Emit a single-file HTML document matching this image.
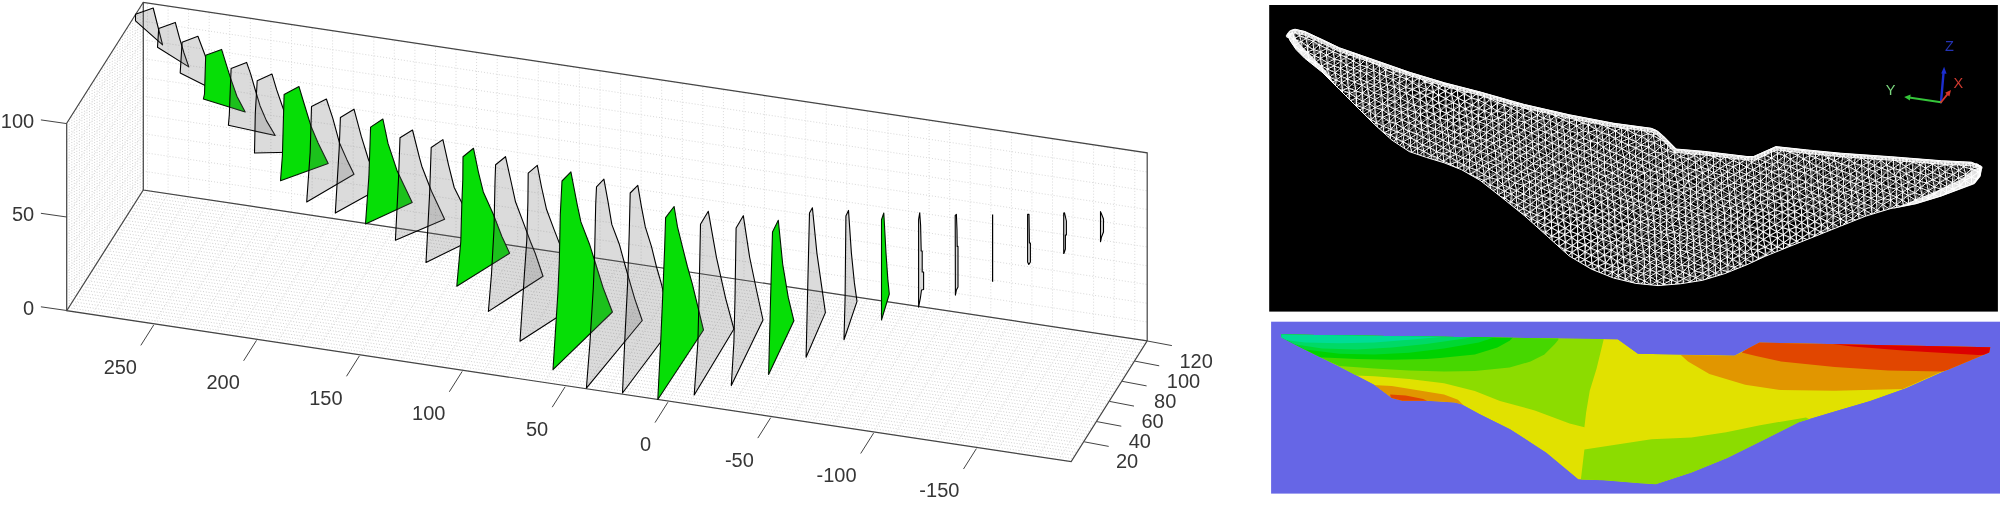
<!DOCTYPE html>
<html><head><meta charset="utf-8"><title>figure</title>
<style>
html,body{margin:0;padding:0;background:#fff;}
body{width:2000px;height:517px;overflow:hidden;font-family:"Liberation Sans",sans-serif;}
svg{display:block;will-change:transform;}
.gd{stroke:#d0d0d0;stroke-width:1;stroke-dasharray:1 1.8;fill:none;}
.gf{stroke:#e0e0e0;stroke-width:1;stroke-dasharray:1 1.8;fill:none;}
.gb{stroke:#d9d9d9;stroke-width:1;stroke-dasharray:1 2;fill:none;}
.ax{stroke:#444444;stroke-width:1.2;fill:none;}
.tk{stroke:#444444;stroke-width:1;fill:none;}
.sg{fill:rgba(104,104,104,0.235);stroke:#000;stroke-width:1.1;stroke-linejoin:round;}
.sy{fill:#06de06;stroke:#031503;stroke-width:1.1;stroke-linejoin:round;}
text.lb{font-family:"Liberation Sans",sans-serif;font-size:20px;fill:#363636;}
</style></head><body>
<svg width="2000" height="517" viewBox="0 0 2000 517">
<rect x="0" y="0" width="2000" height="517" fill="#ffffff"/>
<g id="grid">
<line x1="66.7" y1="310.7" x2="66.7" y2="123.2" class="gd"/>
<line x1="69.2" y1="306.7" x2="69.2" y2="119.2" class="gd"/>
<line x1="71.8" y1="302.6" x2="71.8" y2="115.1" class="gd"/>
<line x1="74.3" y1="298.6" x2="74.3" y2="111.1" class="gd"/>
<line x1="76.8" y1="294.6" x2="76.8" y2="107.1" class="gd"/>
<line x1="79.4" y1="290.6" x2="79.4" y2="103.1" class="gd"/>
<line x1="81.9" y1="286.5" x2="81.9" y2="99.0" class="gd"/>
<line x1="84.4" y1="282.5" x2="84.4" y2="95.0" class="gd"/>
<line x1="87.0" y1="278.5" x2="87.0" y2="91.0" class="gd"/>
<line x1="89.5" y1="274.5" x2="89.5" y2="87.0" class="gd"/>
<line x1="92.1" y1="270.4" x2="92.1" y2="82.9" class="gd"/>
<line x1="94.6" y1="266.4" x2="94.6" y2="78.9" class="gd"/>
<line x1="97.1" y1="262.4" x2="97.1" y2="74.9" class="gd"/>
<line x1="99.7" y1="258.4" x2="99.7" y2="70.9" class="gd"/>
<line x1="102.2" y1="254.3" x2="102.2" y2="66.8" class="gd"/>
<line x1="104.7" y1="250.3" x2="104.7" y2="62.8" class="gd"/>
<line x1="107.3" y1="246.3" x2="107.3" y2="58.8" class="gd"/>
<line x1="109.8" y1="242.2" x2="109.8" y2="54.7" class="gd"/>
<line x1="112.3" y1="238.2" x2="112.3" y2="50.7" class="gd"/>
<line x1="114.9" y1="234.2" x2="114.9" y2="46.7" class="gd"/>
<line x1="117.4" y1="230.2" x2="117.4" y2="42.7" class="gd"/>
<line x1="120.0" y1="226.1" x2="120.0" y2="38.6" class="gd"/>
<line x1="122.5" y1="222.1" x2="122.5" y2="34.6" class="gd"/>
<line x1="125.0" y1="218.1" x2="125.0" y2="30.6" class="gd"/>
<line x1="127.6" y1="214.1" x2="127.6" y2="26.6" class="gd"/>
<line x1="130.1" y1="210.0" x2="130.1" y2="22.5" class="gd"/>
<line x1="132.6" y1="206.0" x2="132.6" y2="18.5" class="gd"/>
<line x1="135.2" y1="202.0" x2="135.2" y2="14.5" class="gd"/>
<line x1="137.7" y1="198.0" x2="137.7" y2="10.5" class="gd"/>
<line x1="140.2" y1="193.9" x2="140.2" y2="6.4" class="gd"/>
<line x1="142.8" y1="189.9" x2="142.8" y2="2.4" class="gd"/>
<line x1="66.7" y1="310.7" x2="142.8" y2="189.9" class="gf"/>
<line x1="66.7" y1="292.0" x2="142.8" y2="171.1" class="gf"/>
<line x1="66.7" y1="273.2" x2="142.8" y2="152.4" class="gf"/>
<line x1="66.7" y1="254.5" x2="142.8" y2="133.6" class="gf"/>
<line x1="66.7" y1="235.7" x2="142.8" y2="114.9" class="gf"/>
<line x1="66.7" y1="217.0" x2="142.8" y2="96.1" class="gf"/>
<line x1="66.7" y1="198.2" x2="142.8" y2="77.4" class="gf"/>
<line x1="66.7" y1="179.5" x2="142.8" y2="58.6" class="gf"/>
<line x1="66.7" y1="160.7" x2="142.8" y2="39.9" class="gf"/>
<line x1="66.7" y1="142.0" x2="142.8" y2="21.1" class="gf"/>
<line x1="66.7" y1="123.2" x2="142.8" y2="2.4" class="gf"/>
<line x1="66.7" y1="310.7" x2="1071.2" y2="461.6" class="gd"/>
<line x1="68.6" y1="307.7" x2="1073.1" y2="458.6" class="gd"/>
<line x1="70.5" y1="304.7" x2="1075.0" y2="455.5" class="gd"/>
<line x1="72.4" y1="301.6" x2="1076.9" y2="452.5" class="gd"/>
<line x1="74.3" y1="298.6" x2="1078.8" y2="449.5" class="gd"/>
<line x1="76.2" y1="295.6" x2="1080.7" y2="446.5" class="gd"/>
<line x1="78.1" y1="292.6" x2="1082.7" y2="443.4" class="gd"/>
<line x1="80.0" y1="289.6" x2="1084.6" y2="440.4" class="gd"/>
<line x1="81.9" y1="286.5" x2="1086.5" y2="437.4" class="gd"/>
<line x1="83.8" y1="283.5" x2="1088.4" y2="434.4" class="gd"/>
<line x1="85.7" y1="280.5" x2="1090.3" y2="431.4" class="gd"/>
<line x1="87.6" y1="277.5" x2="1092.2" y2="428.3" class="gd"/>
<line x1="89.5" y1="274.5" x2="1094.1" y2="425.3" class="gd"/>
<line x1="91.4" y1="271.4" x2="1096.0" y2="422.3" class="gd"/>
<line x1="93.3" y1="268.4" x2="1097.9" y2="419.3" class="gd"/>
<line x1="95.2" y1="265.4" x2="1099.8" y2="416.3" class="gd"/>
<line x1="97.1" y1="262.4" x2="1101.7" y2="413.2" class="gd"/>
<line x1="99.0" y1="259.4" x2="1103.6" y2="410.2" class="gd"/>
<line x1="100.9" y1="256.3" x2="1105.5" y2="407.2" class="gd"/>
<line x1="102.8" y1="253.3" x2="1107.4" y2="404.2" class="gd"/>
<line x1="104.7" y1="250.3" x2="1109.3" y2="401.2" class="gd"/>
<line x1="106.6" y1="247.3" x2="1111.2" y2="398.1" class="gd"/>
<line x1="108.5" y1="244.3" x2="1113.1" y2="395.1" class="gd"/>
<line x1="110.4" y1="241.2" x2="1115.0" y2="392.1" class="gd"/>
<line x1="112.3" y1="238.2" x2="1116.9" y2="389.1" class="gd"/>
<line x1="114.2" y1="235.2" x2="1118.8" y2="386.1" class="gd"/>
<line x1="116.1" y1="232.2" x2="1120.7" y2="383.0" class="gd"/>
<line x1="118.1" y1="229.2" x2="1122.6" y2="380.0" class="gd"/>
<line x1="120.0" y1="226.1" x2="1124.5" y2="377.0" class="gd"/>
<line x1="121.9" y1="223.1" x2="1126.4" y2="374.0" class="gd"/>
<line x1="123.8" y1="220.1" x2="1128.3" y2="371.0" class="gd"/>
<line x1="125.7" y1="217.1" x2="1130.2" y2="367.9" class="gd"/>
<line x1="127.6" y1="214.1" x2="1132.1" y2="364.9" class="gd"/>
<line x1="129.5" y1="211.0" x2="1134.0" y2="361.9" class="gd"/>
<line x1="131.4" y1="208.0" x2="1135.9" y2="358.9" class="gd"/>
<line x1="133.3" y1="205.0" x2="1137.8" y2="355.9" class="gd"/>
<line x1="135.2" y1="202.0" x2="1139.7" y2="352.8" class="gd"/>
<line x1="137.1" y1="199.0" x2="1141.6" y2="349.8" class="gd"/>
<line x1="139.0" y1="195.9" x2="1143.5" y2="346.8" class="gd"/>
<line x1="140.9" y1="192.9" x2="1145.4" y2="343.8" class="gd"/>
<line x1="142.8" y1="189.9" x2="1147.3" y2="340.8" class="gd"/>
<line x1="1058.7" y1="459.7" x2="1134.8" y2="338.9" class="gf"/>
<line x1="1038.1" y1="456.6" x2="1114.2" y2="335.8" class="gf"/>
<line x1="1017.6" y1="453.5" x2="1093.6" y2="332.7" class="gf"/>
<line x1="997.0" y1="450.4" x2="1073.1" y2="329.6" class="gf"/>
<line x1="976.4" y1="447.3" x2="1052.5" y2="326.5" class="gf"/>
<line x1="955.9" y1="444.2" x2="1031.9" y2="323.4" class="gf"/>
<line x1="935.3" y1="441.2" x2="1011.4" y2="320.3" class="gf"/>
<line x1="914.7" y1="438.1" x2="990.8" y2="317.3" class="gf"/>
<line x1="894.1" y1="435.0" x2="970.2" y2="314.2" class="gf"/>
<line x1="873.6" y1="431.9" x2="949.7" y2="311.1" class="gf"/>
<line x1="853.0" y1="428.8" x2="929.1" y2="308.0" class="gf"/>
<line x1="832.4" y1="425.7" x2="908.5" y2="304.9" class="gf"/>
<line x1="811.9" y1="422.6" x2="888.0" y2="301.8" class="gf"/>
<line x1="791.3" y1="419.5" x2="867.4" y2="298.7" class="gf"/>
<line x1="770.7" y1="416.4" x2="846.8" y2="295.6" class="gf"/>
<line x1="750.2" y1="413.4" x2="826.3" y2="292.5" class="gf"/>
<line x1="729.6" y1="410.3" x2="805.7" y2="289.5" class="gf"/>
<line x1="709.0" y1="407.2" x2="785.1" y2="286.4" class="gf"/>
<line x1="688.5" y1="404.1" x2="764.5" y2="283.3" class="gf"/>
<line x1="667.9" y1="401.0" x2="744.0" y2="280.2" class="gf"/>
<line x1="647.3" y1="397.9" x2="723.4" y2="277.1" class="gf"/>
<line x1="626.8" y1="394.8" x2="702.8" y2="274.0" class="gf"/>
<line x1="606.2" y1="391.7" x2="682.3" y2="270.9" class="gf"/>
<line x1="585.6" y1="388.6" x2="661.7" y2="267.8" class="gf"/>
<line x1="565.1" y1="385.5" x2="641.1" y2="264.7" class="gf"/>
<line x1="544.5" y1="382.5" x2="620.6" y2="261.7" class="gf"/>
<line x1="523.9" y1="379.4" x2="600.0" y2="258.6" class="gf"/>
<line x1="503.4" y1="376.3" x2="579.4" y2="255.5" class="gf"/>
<line x1="482.8" y1="373.2" x2="558.9" y2="252.4" class="gf"/>
<line x1="462.2" y1="370.1" x2="538.3" y2="249.3" class="gf"/>
<line x1="441.7" y1="367.0" x2="517.7" y2="246.2" class="gf"/>
<line x1="421.1" y1="363.9" x2="497.2" y2="243.1" class="gf"/>
<line x1="400.5" y1="360.8" x2="476.6" y2="240.0" class="gf"/>
<line x1="379.9" y1="357.7" x2="456.0" y2="236.9" class="gf"/>
<line x1="359.4" y1="354.7" x2="435.5" y2="233.9" class="gf"/>
<line x1="338.8" y1="351.6" x2="414.9" y2="230.8" class="gf"/>
<line x1="318.2" y1="348.5" x2="394.3" y2="227.7" class="gf"/>
<line x1="297.7" y1="345.4" x2="373.8" y2="224.6" class="gf"/>
<line x1="277.1" y1="342.3" x2="353.2" y2="221.5" class="gf"/>
<line x1="256.5" y1="339.2" x2="332.6" y2="218.4" class="gf"/>
<line x1="236.0" y1="336.1" x2="312.1" y2="215.3" class="gf"/>
<line x1="215.4" y1="333.0" x2="291.5" y2="212.2" class="gf"/>
<line x1="194.8" y1="329.9" x2="270.9" y2="209.1" class="gf"/>
<line x1="174.3" y1="326.9" x2="250.3" y2="206.1" class="gf"/>
<line x1="153.7" y1="323.8" x2="229.8" y2="203.0" class="gf"/>
<line x1="133.1" y1="320.7" x2="209.2" y2="199.9" class="gf"/>
<line x1="112.6" y1="317.6" x2="188.6" y2="196.8" class="gf"/>
<line x1="92.0" y1="314.5" x2="168.1" y2="193.7" class="gf"/>
<line x1="71.4" y1="311.4" x2="147.5" y2="190.6" class="gf"/>
<line x1="1134.8" y1="338.9" x2="1134.8" y2="151.4" class="gb"/>
<line x1="1114.2" y1="335.8" x2="1114.2" y2="148.3" class="gb"/>
<line x1="1093.6" y1="332.7" x2="1093.6" y2="145.2" class="gb"/>
<line x1="1073.1" y1="329.6" x2="1073.1" y2="142.1" class="gb"/>
<line x1="1052.5" y1="326.5" x2="1052.5" y2="139.0" class="gb"/>
<line x1="1031.9" y1="323.4" x2="1031.9" y2="135.9" class="gb"/>
<line x1="1011.4" y1="320.3" x2="1011.4" y2="132.8" class="gb"/>
<line x1="990.8" y1="317.3" x2="990.8" y2="129.8" class="gb"/>
<line x1="970.2" y1="314.2" x2="970.2" y2="126.7" class="gb"/>
<line x1="949.7" y1="311.1" x2="949.7" y2="123.6" class="gb"/>
<line x1="929.1" y1="308.0" x2="929.1" y2="120.5" class="gb"/>
<line x1="908.5" y1="304.9" x2="908.5" y2="117.4" class="gb"/>
<line x1="888.0" y1="301.8" x2="888.0" y2="114.3" class="gb"/>
<line x1="867.4" y1="298.7" x2="867.4" y2="111.2" class="gb"/>
<line x1="846.8" y1="295.6" x2="846.8" y2="108.1" class="gb"/>
<line x1="826.3" y1="292.5" x2="826.3" y2="105.0" class="gb"/>
<line x1="805.7" y1="289.5" x2="805.7" y2="102.0" class="gb"/>
<line x1="785.1" y1="286.4" x2="785.1" y2="98.9" class="gb"/>
<line x1="764.5" y1="283.3" x2="764.5" y2="95.8" class="gb"/>
<line x1="744.0" y1="280.2" x2="744.0" y2="92.7" class="gb"/>
<line x1="723.4" y1="277.1" x2="723.4" y2="89.6" class="gb"/>
<line x1="702.8" y1="274.0" x2="702.8" y2="86.5" class="gb"/>
<line x1="682.3" y1="270.9" x2="682.3" y2="83.4" class="gb"/>
<line x1="661.7" y1="267.8" x2="661.7" y2="80.3" class="gb"/>
<line x1="641.1" y1="264.7" x2="641.1" y2="77.2" class="gb"/>
<line x1="620.6" y1="261.7" x2="620.6" y2="74.2" class="gb"/>
<line x1="600.0" y1="258.6" x2="600.0" y2="71.1" class="gb"/>
<line x1="579.4" y1="255.5" x2="579.4" y2="68.0" class="gb"/>
<line x1="558.9" y1="252.4" x2="558.9" y2="64.9" class="gb"/>
<line x1="538.3" y1="249.3" x2="538.3" y2="61.8" class="gb"/>
<line x1="517.7" y1="246.2" x2="517.7" y2="58.7" class="gb"/>
<line x1="497.2" y1="243.1" x2="497.2" y2="55.6" class="gb"/>
<line x1="476.6" y1="240.0" x2="476.6" y2="52.5" class="gb"/>
<line x1="456.0" y1="236.9" x2="456.0" y2="49.4" class="gb"/>
<line x1="435.5" y1="233.9" x2="435.5" y2="46.4" class="gb"/>
<line x1="414.9" y1="230.8" x2="414.9" y2="43.3" class="gb"/>
<line x1="394.3" y1="227.7" x2="394.3" y2="40.2" class="gb"/>
<line x1="373.8" y1="224.6" x2="373.8" y2="37.1" class="gb"/>
<line x1="353.2" y1="221.5" x2="353.2" y2="34.0" class="gb"/>
<line x1="332.6" y1="218.4" x2="332.6" y2="30.9" class="gb"/>
<line x1="312.1" y1="215.3" x2="312.1" y2="27.8" class="gb"/>
<line x1="291.5" y1="212.2" x2="291.5" y2="24.7" class="gb"/>
<line x1="270.9" y1="209.1" x2="270.9" y2="21.6" class="gb"/>
<line x1="250.3" y1="206.1" x2="250.3" y2="18.6" class="gb"/>
<line x1="229.8" y1="203.0" x2="229.8" y2="15.5" class="gb"/>
<line x1="209.2" y1="199.9" x2="209.2" y2="12.4" class="gb"/>
<line x1="188.6" y1="196.8" x2="188.6" y2="9.3" class="gb"/>
<line x1="168.1" y1="193.7" x2="168.1" y2="6.2" class="gb"/>
<line x1="147.5" y1="190.6" x2="147.5" y2="3.1" class="gb"/>
<line x1="142.8" y1="189.9" x2="1147.3" y2="340.8" class="gb"/>
<line x1="142.8" y1="171.1" x2="1147.3" y2="322.0" class="gb"/>
<line x1="142.8" y1="152.4" x2="1147.3" y2="303.3" class="gb"/>
<line x1="142.8" y1="133.6" x2="1147.3" y2="284.5" class="gb"/>
<line x1="142.8" y1="114.9" x2="1147.3" y2="265.8" class="gb"/>
<line x1="142.8" y1="96.1" x2="1147.3" y2="247.0" class="gb"/>
<line x1="142.8" y1="77.4" x2="1147.3" y2="228.3" class="gb"/>
<line x1="142.8" y1="58.6" x2="1147.3" y2="209.5" class="gb"/>
<line x1="142.8" y1="39.9" x2="1147.3" y2="190.8" class="gb"/>
<line x1="142.8" y1="21.1" x2="1147.3" y2="172.0" class="gb"/>
<line x1="142.8" y1="2.4" x2="1147.3" y2="153.3" class="gb"/>
</g>
<g id="box">
<polyline class="ax" points="66.7,123.2 143.3,2.3 1147.2,152.8 1147.2,340.8 1071.2,461.6 66.7,310.7 66.7,123.2"/>
<polyline class="ax" points="143.3,2.3 143.3,190.0 1147.2,340.8"/>
<polyline class="ax" points="66.7,310.7 143.3,190.0"/>
</g>
<g id="ticks">
<line x1="40.9" y1="119.9" x2="66.7" y2="123.6" class="tk"/>
<text class="lb" text-anchor="end" x="34.2" y="127.8">100</text>
<line x1="40.9" y1="213.3" x2="66.7" y2="217.0" class="tk"/>
<text class="lb" text-anchor="end" x="34.2" y="221.2">50</text>
<line x1="40.9" y1="306.8" x2="66.7" y2="310.5" class="tk"/>
<text class="lb" text-anchor="end" x="34.2" y="314.7">0</text>
<line x1="153.7" y1="325.0" x2="140.8" y2="345.4" class="tk"/>
<text class="lb" text-anchor="end" x="137.0" y="373.8">250</text>
<line x1="256.5" y1="340.4" x2="243.6" y2="360.8" class="tk"/>
<text class="lb" text-anchor="end" x="239.8" y="389.2">200</text>
<line x1="359.4" y1="355.9" x2="346.5" y2="376.3" class="tk"/>
<text class="lb" text-anchor="end" x="342.6" y="404.7">150</text>
<line x1="462.2" y1="371.4" x2="449.3" y2="391.8" class="tk"/>
<text class="lb" text-anchor="end" x="445.4" y="420.2">100</text>
<line x1="565.1" y1="386.8" x2="552.2" y2="407.2" class="tk"/>
<text class="lb" text-anchor="end" x="548.2" y="435.6">50</text>
<line x1="667.9" y1="402.2" x2="655.0" y2="422.6" class="tk"/>
<text class="lb" text-anchor="end" x="651.0" y="451.1">0</text>
<line x1="770.7" y1="417.7" x2="757.8" y2="438.1" class="tk"/>
<text class="lb" text-anchor="end" x="753.8" y="466.5">-50</text>
<line x1="873.6" y1="433.1" x2="860.7" y2="453.5" class="tk"/>
<text class="lb" text-anchor="end" x="856.6" y="481.9">-100</text>
<line x1="976.4" y1="448.6" x2="963.5" y2="469.0" class="tk"/>
<text class="lb" text-anchor="end" x="959.4" y="497.4">-150</text>
<line x1="1147.4" y1="341.0" x2="1171.9" y2="345.6" class="tk"/>
<text class="lb" x="1179.5" y="368.4">120</text>
<line x1="1134.8" y1="361.1" x2="1159.2" y2="365.8" class="tk"/>
<text class="lb" x="1166.8" y="388.3">100</text>
<line x1="1122.1" y1="381.3" x2="1146.6" y2="385.9" class="tk"/>
<text class="lb" x="1154.1" y="408.3">80</text>
<line x1="1109.5" y1="401.4" x2="1134.0" y2="406.1" class="tk"/>
<text class="lb" x="1141.4" y="428.2">60</text>
<line x1="1096.8" y1="421.6" x2="1121.3" y2="426.2" class="tk"/>
<text class="lb" x="1128.7" y="448.1">40</text>
<line x1="1084.2" y1="441.8" x2="1108.7" y2="446.4" class="tk"/>
<text class="lb" x="1116.0" y="468.1">20</text>
</g>
<g id="sections">
<polygon class="sg" points="135.5,14.2 153.2,8.0 157.5,25.0 162.6,44.9 135.5,20.9"/>
<polygon class="sg" points="158.7,28.6 175.3,22.4 179.5,38.0 184.0,53.0 188.8,66.9 157.5,47.2"/>
<polygon class="sg" points="182.1,42.3 197.9,36.3 204.7,54.2 210.0,72.0 216.0,91.0 180.2,72.9"/>
<polygon class="sy" points="205.7,55.3 221.6,49.4 225.7,62.7 230.4,77.6 236.9,96.2 245.2,112.0 203.4,99.0 204.5,94.0"/>
<polygon class="sg" points="231.1,68.6 246.6,62.4 250.7,74.1 255.3,90.0 260.0,105.7 266.4,120.6 275.2,135.5 228.4,125.2 229.3,115.0"/>
<polygon class="sg" points="257.2,80.7 272.0,74.1 276.7,89.9 282.2,105.7 288.0,122.0 294.0,138.0 301.0,152.0 254.5,153.0 255.3,113.2"/>
<polygon class="sy" points="284.1,94.6 299.0,86.6 303.6,102.0 311.0,126.2 318.0,142.7 328.2,163.4 280.5,180.8 282.4,155.7"/>
<polygon class="sg" points="311.5,106.5 326.4,99.0 332.9,118.6 339.4,142.7 346.8,159.4 354.0,174.2 306.7,202.0 310.2,152.0"/>
<polygon class="sg" points="340.4,117.5 354.0,109.2 361.3,136.4 368.6,160.0 376.0,175.0 384.0,186.0 335.3,213.1 339.2,148.6"/>
<polygon class="sy" points="370.6,127.1 382.9,119.0 388.0,143.4 397.3,171.3 412.2,202.6 365.5,224.0 368.9,176.4"/>
<polygon class="sg" points="400.0,137.8 412.5,130.0 419.4,157.3 421.8,166.2 431.5,191.3 444.6,219.2 395.4,240.2 398.6,177.0"/>
<polygon class="sg" points="431.2,147.5 442.9,139.6 448.4,164.3 454.2,187.5 462.3,203.8 469.0,221.0 476.0,238.0 426.0,262.4 429.6,194.1"/>
<polygon class="sy" points="463.0,156.8 473.5,148.3 478.4,172.1 483.3,191.9 493.3,214.2 501.9,236.5 509.6,253.3 456.8,286.2 460.8,241.5 461.8,204.3 462.8,179.5"/>
<polygon class="sg" points="495.6,164.8 505.5,156.7 510.6,179.5 515.5,201.8 523.0,221.6 530.4,241.5 535.4,253.8 543.0,276.2 488.4,311.4 491.5,274.0 494.0,229.0 495.0,182.0"/>
<polygon class="sg" points="528.2,173.2 537.3,165.3 541.5,187.0 546.5,209.3 553.9,229.1 560.6,246.4 568.0,268.0 577.0,304.5 520.0,341.2 524.4,274.3 526.8,240.0 527.9,201.8"/>
<polygon class="sy" points="562.0,181.0 570.9,171.8 577.2,204.6 580.9,221.9 589.5,244.2 595.7,264.0 603.2,288.0 612.4,312.0 553.0,369.7 557.9,292.9 559.3,261.4 560.3,214.5"/>
<polygon class="sg" points="596.5,186.9 603.9,179.2 608.1,202.1 611.8,224.4 619.3,244.2 625.4,266.5 630.4,283.8 634.7,298.6 642.2,320.5 586.4,388.2 590.0,342.0 593.3,288.0 594.5,259.0 595.7,204.6"/>
<polygon class="sg" points="630.2,193.0 637.8,185.4 641.5,207.1 645.3,226.9 651.5,246.7 656.4,266.5 661.4,283.8 668.2,313.4 672.0,327.0 622.5,393.0 624.7,342.0 627.6,284.0 629.2,234.3"/>
<polygon class="sy" points="665.6,217.6 674.1,206.5 677.5,226.9 682.4,246.7 687.4,266.5 692.3,283.8 703.5,330.0 657.8,399.5 660.7,342.0 662.6,298.6 664.6,249.2"/>
<polygon class="sg" points="700.5,224.3 708.3,211.3 716.5,257.7 725.7,298.6 733.9,329.0 694.2,395.0 697.9,342.0 699.0,298.6"/>
<polygon class="sg" points="736.1,228.0 743.3,215.7 749.6,257.0 757.0,292.5 763.0,320.0 731.3,385.6 733.9,342.0 735.0,298.6"/>
<polygon class="sy" points="772.5,232.0 778.3,220.2 782.7,264.3 788.3,297.7 793.9,320.8 768.6,374.5 770.5,301.4"/>
<polygon class="sg" points="809.5,213.0 812.4,207.8 816.9,253.1 821.7,286.6 825.4,312.6 806.1,357.2 808.0,275.4"/>
<polygon class="sg" points="845.9,216.0 848.5,210.4 851.4,253.1 854.4,282.9 857.0,301.4 844.0,339.7 845.1,297.7"/>
<polygon class="sy" points="881.5,219.7 883.8,213.0 886.0,253.1 887.8,279.1 889.3,294.0 881.5,320.0"/>
<polygon class="sg" points="918.6,219.7 919.7,212.8 920.6,225.0 921.2,251.0 922.2,251.0 922.2,272.0 923.6,272.0 923.6,289.5 921.5,290.0 920.4,298.0 918.6,307.2"/>
<polygon class="sg" points="955.2,215.5 956.4,214.4 957.0,230.0 957.2,246.4 958.0,246.4 958.0,287.0 956.4,290.0 955.4,295.1"/>
<polyline points="992.6,214.4 992.6,281.8" fill="none" stroke="#000" stroke-width="1.2"/>
<polygon class="sg" points="1027.6,214.4 1029.0,214.4 1029.4,243.0 1030.4,243.0 1030.4,262.0 1028.8,264.5 1027.6,262.0"/>
<polygon class="sg" points="1063.7,213.0 1064.5,212.8 1066.4,221.0 1066.4,235.0 1065.4,235.0 1065.4,249.0 1064.0,253.4 1063.7,253.4"/>
<polygon class="sg" points="1100.5,211.6 1101.5,214.0 1103.5,219.0 1103.5,232.0 1101.5,237.0 1100.5,241.8"/>
</g>
<g id="meshpanel">
<rect x="1269.2" y="5" width="728.7" height="306.6" fill="#000"/>
<defs>
<clipPath id="damclip"><polygon points="1288.0,34.0 1290.6,30.5 1295.0,29.2 1304.8,31.5 1322.0,39.5 1339.6,47.9 1374.5,60.0 1409.3,72.2 1444.1,82.7 1478.9,91.6 1524.5,104.5 1569.0,114.7 1613.5,123.2 1651.3,128.3 1656.5,130.5 1662.5,135.6 1675.8,149.0 1702.5,151.2 1747.0,156.5 1753.7,156.5 1776.0,146.6 1806.9,149.9 1840.6,153.2 1890.9,156.7 1941.2,160.7 1971.4,162.2 1980.4,165.8 1981.2,170.0 1980.4,174.8 1973.9,183.4 1941.2,195.9 1916.0,203.5 1890.9,208.5 1865.8,216.1 1840.6,226.1 1815.4,236.2 1790.3,246.2 1765.2,256.3 1747.0,264.7 1724.8,273.6 1702.5,280.3 1680.3,283.8 1658.0,285.6 1635.8,283.4 1613.5,278.0 1591.3,269.1 1569.0,255.8 1546.8,235.8 1524.5,215.7 1502.3,197.9 1480.0,180.3 1461.5,169.7 1444.1,162.8 1426.7,157.5 1409.3,151.6 1391.9,140.1 1374.5,124.5 1357.0,107.0 1339.6,89.6 1322.2,72.2 1304.8,58.3 1296.1,49.6 1290.4,41.0 1288.0,36.0"/></clipPath>
</defs>
<g clip-path="url(#damclip)">
<polygon points="1288.0,34.0 1290.6,30.5 1295.0,29.2 1304.8,31.5 1322.0,39.5 1339.6,47.9 1374.5,60.0 1409.3,72.2 1444.1,82.7 1478.9,91.6 1524.5,104.5 1569.0,114.7 1613.5,123.2 1651.3,128.3 1656.5,130.5 1662.5,135.6 1675.8,149.0 1702.5,151.2 1747.0,156.5 1753.7,156.5 1776.0,146.6 1806.9,149.9 1840.6,153.2 1890.9,156.7 1941.2,160.7 1971.4,162.2 1980.4,165.8 1981.2,170.0 1980.4,174.8 1973.9,183.4 1941.2,195.9 1916.0,203.5 1890.9,208.5 1865.8,216.1 1840.6,226.1 1815.4,236.2 1790.3,246.2 1765.2,256.3 1747.0,264.7 1724.8,273.6 1702.5,280.3 1680.3,283.8 1658.0,285.6 1635.8,283.4 1613.5,278.0 1591.3,269.1 1569.0,255.8 1546.8,235.8 1524.5,215.7 1502.3,197.9 1480.0,180.3 1461.5,169.7 1444.1,162.8 1426.7,157.5 1409.3,151.6 1391.9,140.1 1374.5,124.5 1357.0,107.0 1339.6,89.6 1322.2,72.2 1304.8,58.3 1296.1,49.6 1290.4,41.0 1288.0,36.0" fill="#000"/>
<path d="M1979.2,164.6l.6,7.9 .5,7.2M1973.4,161.3l-.6,7.4 .3,7.3 .3,7.3 .1,7.3M1967,158.4l-.7,7 1.2,7.5 -.5,6.7 1,7.7M1960.3,161.3l.1,7.4 .9,8.2 -.2,7.1 -.3,7.6M1953.6,157.8l.7,7.7 -.2,7.1 .6,7.6 -.5,7.7 .7,7.1M1947.1,155.1l.4,7 .3,7.5 -.4,7.2 .7,7.1 .5,7.5 .5,7.2M1940.9,158.7l.1,6.9 .1,7.8 .1,7.3 .3,7.6 .9,7.5M1934.2,155.2l.8,7 .3,7.9 -.2,7 -.1,7.7 .6,8 .4,7M1928.2,159.1l.1,7.8 .2,7.6 .4,6.7 .6,7.8 -.7,7.5 .6,7.4M1921.7,155.9l.7,7.6 -.8,7.4 1,6.5 -.5,8.5 .2,7 .9,6.7 .7,8.3M1915.5,152.1l.2,8.1 .2,6.7 -.2,7.5 .2,7.2 .7,7.8 .1,7.8 -.4,6.9M1909.1,155.8l.5,8.1 -.1,7 -.6,7.4 .6,7 1.1,8.1 -.1,6.8 .2,7.4M1901.9,152.5l.5,7.3 .3,8.1 .6,6.5 .2,7.4 -.2,8.2 1,7 -.8,7.6 .7,7.2M1896.2,156.9l-.4,6.6 1.2,8.2 -.7,6.8 .9,7.5 -.4,7.7 1.2,7.5 -.9,7.1M1889.7,153.7l-.6,7.1 1.2,6.6 .2,8 -.1,7.9 .1,7.3 .7,6.6 .1,7.8 .5,7.8M1883,149.6l-.5,7.5 .5,7.5 1.2,7.6 -.9,7.3 1.2,7.3 -.7,7.4 1.1,7.1 -.2,8.1 .6,6.7M1876.5,153.1l-.2,8.2 1,7.3 -.1,7.1 .6,7 .4,8.5 .5,7 .2,6.8 .1,7.6M1869.7,150.4l.7,7.5 -.4,6.5 .6,7.8 1,7.6 -.3,6.8 .2,8.4 .6,7.3 -.3,7.1 .7,7M1864.2,154.4l.3,7.5 .2,6.8 -.7,7.1 .3,8 .9,7.1 -.4,7.9 .3,7.4 .4,7.4 .3,7.5M1857,151.1l.7,6.7 .3,7.7 -.2,7 .3,7.2 0,8.2 .5,6.9 .3,7.5 .5,7.3 .4,7.9 0,7.6M1850.7,146.6l.5,7.3 .3,7.6 .3,7.3 -.3,8.5 .8,7 -.5,7 .7,8.1 .3,6.4 -.1,8.1 0,7.5M1844.6,150.9l.1,7.6 .6,7.5 .4,7.3 .2,7.8 -.8,6.5 1.4,7.8 .1,7 .2,7.8 -.5,7.5 1,7.7M1838.1,147l.2,8.3 .2,7.1 -.4,7.1 1.4,8.1 -.5,7.5 .5,6.9 .3,7.2 .2,7.5 -.1,7.7 .8,7.6 -.2,6.5M1831.7,152l.5,6.9 .5,6.9 -.1,7.3 -.1,8.5 .9,7 -.5,6.9 1.1,8.1 -.4,7.6 -.2,6.6 .6,7.8 .7,7.3M1825.5,148.2l.1,7.1 -.3,7.3 .3,7.9 .2,7.3 1.1,6.7 -.3,8.4 -.3,6.8 1.2,7.6 .4,7.5 0,7.1 -.5,7.8 .4,7.1M1818,144.3l1.1,7.9 .1,7.3 .5,6.7 -.2,8.4 .6,7.1 .5,7.3 .3,7.1 -.8,8.1 .7,6.9 .2,7.8 -.2,6.8 .7,7.1 .4,7.7M1811.7,147.9l1.2,7.8 -.5,8 .2,7.5 .3,6.3 .5,7.6 .3,8 .4,6.8 0,8.3 1.1,7.4 -.7,6.3 .9,7.6 0,8M1805.2,144.9l1.2,6.9 -.2,7.6 .4,7.6 -.3,7.7 .9,7.7 -.1,7.3 .9,7.3 .1,7.3 -.4,6.7 1.2,7.5 -.3,8.4 0,6.8 .9,6.8M1798.9,148.7l1.1,7.7 -.5,7.5 1,7.8 -.6,6.3 1.2,7.6 -.6,8.3 .5,6.7 .8,6.9 -.2,7.7 -.1,7.1 .9,8.2 .6,7.2 -.5,7.3M1793.5,145.6l-.6,6.7 1,8.3 -.7,7.6 .3,7.1 1,7.2 .2,6.7 .3,7.4 -.6,8 1.4,7.1 .2,8.1 -.3,6.4 .2,7.8 .1,7.2 .1,7.7M1786.9,141.4l-.1,7.9 -.4,7.9 1,7.1 -.5,7.8 1,6.9 -.4,7.8 1,6.5 .1,8.1 .2,7.1 0,7.5 -.2,7.5 .6,7.2 1.1,7.8 0,7.4 -.1,6.8M1779.7,146.3l1.1,7 -.3,6.9 .9,8.3 -.3,7 .7,7.9 -.1,6.6 .4,8 .5,7 .2,8 -.4,6.3 .8,7.5 -.2,8.2 .5,7.3 -.3,6.7 1.1,8.1M1773.7,142.3l.5,7.6 -.2,6.9 .4,7.8 -.3,7.9 .8,6.3 0,8.1 .2,7.6 1.1,6.9 .1,8 -.1,6.5 .7,7.7 .1,8.1 .2,6.3 -.1,7.6 .1,7.2M1767.2,146.4l.9,7 .2,7.2 .1,8.3 .4,7.2 0,7.4 -.1,7.4 1,7.7 .2,7.3 -.2,7.5 0,6.9 .5,7.9 .5,7.1 -.1,7.3 .3,7.5 .7,6.7M1760.6,149.9l1.2,8.1 -.6,6.7 .9,7.8 -.4,7 .8,8.2 .6,7.2 -.1,7.5 .1,7 -.2,7.9 .9,6.4 -.1,7.9 .1,7.5 .9,7.1 .3,7.9 0,7.6M1754.8,154.1l.6,7.1 -.1,7.8 .4,7.8 .5,6.6 -.6,8 .5,6.7 0,7.8 .7,7.1 .6,7.2 .5,7.9 -.7,7.4 1,7.6 .2,7 .5,7.6 -.8,7.8M1747.8,151.2l.4,6.6 0,7.1 1.4,8.2 -.5,7.3 .3,7.3 .9,7.8 -.7,7.1 .5,7.7 .2,6.8 .3,8 .3,7.1 .9,6.8 -.5,8.3 .4,6.8 1,8M1741.5,154.9l1.3,7 -.8,8.1 .5,6.9 .2,7.5 .4,7.3 -.1,7.7 1,6.4 -.4,8.4 .5,6.4 -.2,7.8 .4,7.3 .2,7.5 1.2,7.8 -.5,6.7 .6,8.2M1735,150.9l1,7.9 -.3,7.3 1,7.2 -.2,7.1 0,7.2 0,7.5 .5,7.6 .3,7.3 .4,7.8 0,7.3 1.1,7.5 -.3,7.2 0,7.3 .9,7.2 -.5,7.5 .8,7.3M1728.4,148l1.2,7.6 -.4,7.3 .1,6.4 .8,7.9 .4,7.9 .3,7 .2,6.8 .4,7.5 0,8.3 -.5,7 .3,7.7 .5,7.5 .4,6.8 .6,8.1 .1,7 .4,7 0,7.1M1722.6,151l.4,7.6 .6,7.9 -.2,7 .2,7.9 -.1,7.3 .4,6.7 .9,7.5 -.1,7.4 .5,7.8 -.5,7.8 .8,6.8 -.3,7.9 .6,7.3 .7,6.8 .4,8.2 -.7,7.4 1,7M1715.9,148.1l0,6.9 .3,7.4 .3,8.1 1.1,6.7 -.6,7.8 1.2,7.6 -.1,7.2 .3,6.9 .3,8.4 -.6,7.2 .3,7.4 1.2,7.2 0,6.8 -.2,7.7 .3,8.2 1.1,6.8 -.2,6.9 -.1,7.5M1709.9,144.5l-.4,7.9 .6,6.9 .2,8.1 .5,6.8 .4,7.8 0,6.6 -.3,8 .5,7.5 .7,7.4 .4,7.3 .3,7.3 .1,7.3 0,7.2 .7,7.3 0,8.2 .3,6.5 -.5,7.7 .4,7.7M1703,149l.7,7.3 -.5,6.9 .3,7 .8,8.5 -.3,7.2 .6,7.4 0,7.2 1,7.5 -.3,6.8 .9,7.2 -.4,7.3 0,7.8 .4,8 1,7.1 -.2,7.7 1,7.4 -.2,7.3 -.3,6.8M1696.6,144.5l.6,7.7 .1,8 .3,7.1 .2,7 .7,7.6 0,7.7 -.3,7.2 .8,7.9 -.2,6.8 .5,7.4 .2,7.2 .5,7.6 .5,7.9 .4,7.3 .3,6.7 .1,7.7 -.2,7.2 .3,7.7 .2,7.2M1689.9,149.3l1.1,7.3 -.4,7.6 1,7.4 -.2,6.9 -.1,7.2 .9,7.9 -.4,7.5 .3,6.9 .7,7.6 .7,7.4 .2,7.7 0,7.5 .3,6.4 .2,8.1 .1,6.8 -.1,7.6 .3,7.8 .3,7.4M1683.5,145l.8,8 .2,6.7 .5,8 -.2,7.8 1,6.9 .2,7.7 -.5,7.1 .3,7 1,8 .3,7.8 -.6,6.5 .3,7.9 .3,6.8 .5,8.3 -.1,7.6 1,7.2 -.1,7.1 0,7.4 -.1,7.8M1677.9,142.4l-.8,7.4 .9,7.1 .4,7.9 0,6.5 .7,8 -.5,7.4 1.1,6.9 -.6,8.1 .5,6.6 -.1,7.9 .2,7.4 1.1,7.7 .4,6.7 -.3,7.4 0,7.8 .2,7.5 .3,7.6 .2,7 1.1,7.3 -.6,6.8M1670.9,138.1l-.2,7.7 .4,7.4 1,7.1 0,8 -.5,6.7 1.2,7.5 .2,7.6 .4,7.2 .4,8.3 -.5,6.5 -.1,7.5 .5,7.8 .6,6.7 0,7.9 .6,8 .2,6.5 .1,7.7 .5,7 .2,7.6 .1,7.3M1664,135.5l.5,7.2 .3,7.5 .4,7 .7,7.7 .3,7 .2,8.1 -.4,6.8 .7,7.3 .2,7.5 -.3,6.9 .6,7.7 -.2,7.9 .2,7.3 .8,6.9 .7,8.2 -.5,6.6 1,7.4 -.7,7.1 1,8.2 -.1,7.7 .8,7.3M1657.7,131.3l.5,7.2 -.1,8.2 .3,7 .2,8.1 .9,7.2 0,6.9 .7,8 -.2,7.4 -.4,6.5 .8,7.4 .7,7.5 -.3,7.6 -.1,7.7 1.2,7.7 -.1,6.7 .6,7.2 -.4,7.8 .9,7.5 0,7.7 .4,7.2 -.2,7.1M1651,120.8l-.2,7.5 .7,7 .6,8.1 -.2,6.7 .8,7.7 -.2,7 .3,7.4 -.1,8.2 0,6.5 .5,8.3 .1,7.1 1,6.9 .2,8.1 -.1,7.2 .9,7.1 .2,7 -.3,7.3 .6,7.8 -.2,7.6 .4,7.8 .1,6.7 1.1,7.6 .3,7.3M1645.1,124.9l-.5,7.7 .7,7.2 .4,6.7 .5,7.5 -.3,7.2 .9,8.4 .3,7.2 -.3,7.2 .3,6.7 .7,7.6 0,7.8 .3,7.2 .2,7.7 -.5,7 .2,7.6 .9,7.7 -.1,6.8 .4,8.2 .1,6.9 .3,6.9 .2,7.4 .8,7.5M1638.7,121.6l.1,6.9 .5,7.8 -.4,7.1 .1,7.1 .2,8 .7,7.4 .3,6.6 -.2,8.3 0,7.5 .9,6.6 .6,7.9 .1,7.1 .2,7.3 .5,7.6 .1,6.8 .4,7.5 -.1,8.4 .3,7.1 -.2,7.3 .3,6.8 .8,7.6 .5,7.8 -.4,7.1M1631.4,117.5l0,8.2 .3,6.9 .9,7.2 .7,7.8 -.6,7.4 .1,6.6 1.2,7.5 -.1,8.1 -.3,7 .5,7.5 0,7.8 .7,7.1 -.1,6.7 .4,7.9 -.1,7.8 .8,6.6 -.2,7.5 1.2,7.6 -.5,7.8 .4,7.3 .7,7.5 0,7.6 .2,7.4M1625.1,121.9l.2,6.8 .3,7.9 .1,7.6 1.3,7.2 -.3,7.5 0,7.5 .1,7.5 .4,6.6 .5,7.3 .5,8.4 0,7.2 -.1,6.7 .2,8 .2,7.2 1,7.2 .4,6.9 -.4,7.7 .1,7.2 .9,7.8 -.5,7.5 .5,7.7 .1,6.8M1618.7,118.7l.9,7.2 -.1,6.9 -.2,7.5 .4,7 .1,7.6 .5,7.1 -.2,8.3 .7,7.4 -.2,7.4 1.3,7.5 -.4,6.7 .7,7.8 -.6,7.2 .9,6.9 -.2,8 .8,7.7 -.1,7 .2,7.4 .7,7.1 -.2,7.1 .5,7.7 .9,7.8M1612.8,121.9l0,7.9 .6,7.1 -.1,7.9 -.1,6.6 .9,8 .2,7 -.3,7.2 .6,8.2 .3,7.4 -.1,6.7 1,7.9 0,6.6 -.3,8 .5,7.1 .8,7.7 -.5,6.9 .1,7.4 .8,7.2 .1,7.6 .5,7.5 -.2,7.4 .4,8.1M1606.6,119l-.6,7.5 .4,7.2 .1,6.9 .4,8.1 .2,7.1 .1,6.8 0,7.4 1.3,7.2 -.5,7.9 .1,7.8 .5,7 .4,7.5 .4,7.6 .8,7 -.3,7.1 .3,7.5 .5,8 -.2,6.7 .4,7.3 .8,8.1 -.4,6.8 .7,7.6M1599.5,115.3l0,7.8 .1,6.8 .5,7.3 0,7.5 .8,8 .1,7 .5,6.7 .6,7.8 -.3,7.9 0,7.6 .3,6.2 .6,8.3 .4,7.3 -.3,6.7 .6,8.2 .2,7.6 .6,7.3 .5,7.2 -.5,7.4 .6,7.2 .4,7 .1,7.5M1593.1,118.7l0,7.9 .9,7.1 -.2,7.4 1,8.1 -.7,7.1 1.2,6.7 -.6,8.2 1,6.7 -.1,7.1 -.1,7.9 .3,7.9 .4,6.5 .3,7.6 .2,8.1 .1,7.2 1.1,7.5 .3,7.6 -.7,7.4 .6,7 .1,7.8 1,6.3M1587.2,115.6l.1,7.1 .4,7.2 -.4,7.6 1,7.4 -.5,7.4 .8,7.7 .1,7.2 -.3,7.9 1.1,7.2 .2,6.9 -.3,7.5 -.1,8.1 .7,6.9 .9,7.3 .1,7.2 -.6,7.4 1.1,7.3 -.7,7.6 .5,7.4 .4,7.2 0,7.7M1580.1,111.8l.7,8.2 -.3,7.3 .7,6.5 -.3,8.4 .7,6.3 -.3,7.9 .3,6.9 .4,7.8 .9,7.6 -.4,7.5 .7,7.6 0,6.8 .4,7.6 .7,7.2 -.8,7.4 1,8 .3,7 -.4,7.4 .6,8 .1,6.3 .3,7.4M1573.7,115.5l1,8.3 .1,6.7 0,8.3 .3,7.4 0,7.2 -.2,6.4 .9,7.5 -.4,8.5 1.2,6.6 -.1,7.1 .4,8.4 .2,7.4 .5,6.5 .1,7.2 -.2,7.5 .2,7.5 .1,7.8 .4,6.8 .5,7.9 .8,7.5M1567.4,112.2l.2,8.1 .6,7.2 -.7,7.5 .4,7.4 .9,6.9 .5,7.5 -.4,7 .5,8.5 .6,7.3 -.1,6.9 .5,6.9 .6,7.5 -.5,7.4 .8,7.8 .1,7.9 -.2,7.4 .9,6.9 .4,7.9 -.5,6.8 .5,7.8M1561.4,109.4l.2,6.6 -.3,7.9 .5,7.1 .1,8.2 .1,7.3 .6,6.4 .4,7.4 -.4,7.6 .2,8.1 .6,6.5 .6,8.3 -.7,7 1,8 -.3,6.4 .3,8.4 1.1,7.3 .1,6.3 .5,8.4 .1,6.8 .2,7.5M1553.9,105.1l1.1,7.9 0,7.7 .6,6.8 .2,7.1 -.1,8.2 0,6.7 .1,8 .1,7.7 .4,7.5 .4,7 .3,7.1 .5,7.2 -.4,8.2 .6,6.9 .3,6.9 .3,7.8 .5,7 .6,7.7 0,7.6 -.2,7.7M1548,109.7l-.1,7.5 .1,6.6 .3,8.5 .9,6.3 -.2,7.5 .7,7.5 -.4,7.1 1.4,8.4 -.5,7.5 .9,7.1 -.4,6.9 .1,7.7 .9,7.3 -.4,7.1 .1,7.7 .3,7.9 .6,7.4 .1,6.8M1541.5,105.7l.7,7.9 -.6,7.4 .8,6.9 .3,7.8 -.4,7.5 .7,7 .3,7.5 .1,8 .7,7.4 -.6,7.4 1,6.6 .2,8 .7,6.5 -.6,8 .9,7.7 -.4,6.8 1,7.1 0,7.9M1535,103l.2,7.3 -.3,6.8 1.2,7.8 -.3,7 .9,7.9 -.5,6.8 .1,8 1.1,7 -.6,7.9 .6,6.9 .9,7.8 .2,7.2 -.2,6.8 .6,8.1 0,7 -.2,7.3 .6,8.2 .3,6.6M1528.2,99.4l.5,7.7 .5,7 -.6,6.9 .4,7.9 1.2,7.1 -.3,7.3 .5,8.1 0,6.3 .2,7.6 1,8 -.3,7.6 .1,7.1 -.1,7.7 1.3,7 -.6,7.2 1.1,7.1 -.8,8.3M1522.3,103.1l-.5,6.8 .3,8.2 1,7 -.4,7.7 .9,7.2 -.1,7.5 .6,6.7 .6,7.5 0,8.5 .3,7.3 .3,7.3 -.6,6.9 .5,7.2 .9,7.9 -.1,7.1 .1,7.2M1516,99.7l.4,7.7 -.1,7 .2,7.4 -.4,7.7 1.1,7.2 .1,6.7 .3,8.5 .1,6.4 .5,7.7 .1,7.7 -.2,7.5 .4,7.2 .2,7.4 .1,7.6 .6,6.7 .4,8.2M1509.6,96.6l.2,7.4 -.2,6.8 -.2,6.9 .5,7.5 -.1,7.9 .5,7.6 0,7.2 .4,6.9 .7,7.5 .1,7.9 .4,7.7 -.3,6.6 .4,7.3 .5,7.4 .1,7.3M1502.1,92.6l1.2,7.4 .3,7.4 -.6,7.7 .3,7.3 .8,7.3 -.1,7.4 -.1,7.6 .8,7 -.1,6.9 -.1,7.8 .3,7.5 1.3,7.1 .3,7.3 .1,7.2 .3,8.1M1495.8,96.3l.7,7.3 .8,7.9 .3,7.4 -.2,7.2 .3,7.4 -.3,7.7 .7,7.5 .7,6.6 -.5,7.8 1,6.9 -.7,7.4 .5,7.6 .4,7.8 .1,7.4M1489.5,92.6l1.1,8 -.7,7.6 .7,7.2 0,7.1 .1,7.1 .6,8.4 .4,6.3 -.1,8.2 -.1,7.7 1.1,7.2 -.4,6.9 .3,7.8 .8,6.6 -.5,8.4M1483.5,89.4l.5,7.3 -.8,7.9 .6,6.9 .1,7.4 .8,7.3 .1,8.3 .6,6.7 0,7.9 .5,6.4 .3,8.1 -.7,7.8 .8,6.6 0,7.2 .5,7.6M1476.4,86.7l.8,6.6 .1,7.7 0,7.8 .1,6.9 .2,7.8 .5,7.1 .1,7.8 .3,7.3 .7,6.7 .3,7.9 .1,7.4 -.5,6.7 1.4,8.1M1469.6,83.2l.6,7.4 -.1,6.7 .2,7.8 .8,7.5 0,7.5 .5,7.4 .9,6.7 -.4,8.1 -.1,6.7 .2,7.6 .2,6.9 .8,8.3 .3,7.2M1463.9,86.2l-.3,8.2 1,6.9 -.5,7.7 .2,7.4 .4,7 1,8.1 .1,7 -.2,7.3 .7,6.9 .5,7.3 -.4,8.1 .5,7.4M1457.8,83.4l-.4,6.9 .6,7.5 .6,7.2 .1,7.1 .1,8.4 .3,7.3 .4,7.3 .3,6.6 .3,8.3 -.6,6.9 .7,8 .2,6.4M1450.5,79.4l.1,7.6 .5,7.8 .3,6.9 .1,8 .8,6.8 .2,7.9 0,6.7 0,8.2 1,6.8 .1,7.3 .2,7 -.4,8.1M1444,76.3l.6,7.1 .3,8 .5,6.4 -.7,8.1 1.1,7.4 -.2,7.1 0,7.1 .2,7.5 1.3,7.4 -.4,7.6 .2,7.8 0,7.7M1438.2,79.9l-.2,7.7 .6,7.3 .7,7.5 -.2,7 .7,8.1 -.7,7 .3,6.8 .4,7.6 .5,7.4 0,7.2 .8,8.2 .3,6.8M1430.9,77.1l.2,7.2 1.3,6.8 .1,7.3 -.5,7.6 1,7.5 .2,7.3 -.2,7.8 .5,7.4 .5,6.8 -.4,7.5 .4,7.5 1,7.1M1425,73.7l.4,7.1 .6,6.6 -.2,7.5 .3,7.5 -.3,7.7 .7,7.9 .1,7.1 .7,7.5 .4,6.5 -.6,7.7 .8,7.2 .3,8.1M1418.3,69.5l.1,8 .6,6.4 .6,8.4 -.6,6.8 .2,8 1,6.7 .5,7.2 -.8,7.8 1.1,6.9 -.4,7.9 1.1,6.9 0,7.8M1412.3,73l-.5,8.4 .3,7.4 .4,6.7 .3,7.3 1,7.5 0,8.2 .3,6.9 0,7.1 .4,7.2 .3,7.6 .6,8.1M1405.5,70.1l.5,7 .2,8.2 0,7.4 .8,6.6 .2,7.8 0,7.1 .5,8.2 -.5,7.4 1,7.3 .3,7.4 -.7,7.2M1398.4,66.6l.9,7.1 .8,7.3 -.1,7.2 .5,8 .3,7.3 0,7.4 .2,6.9 0,8.5 .3,7.3 .7,7.2 .4,7M1392.2,63.6l.3,6.6 -.1,7.6 .7,8.1 .5,6.6 .3,8 .2,7.2 .3,6.7 -.2,7.7 .3,7.1 1,8.3 -.3,6.4M1386.1,59.3l.5,7.5 .2,7.5 -.6,7.3 1.2,7.6 .2,7.3 .2,8 0,6.4 .5,8.2 .1,6.9 .5,8.1 -.3,7M1379.9,56.7l-.7,6.4 .7,8 .3,7.6 .7,7.2 -.8,6.9 .7,7.9 .3,7.7 .8,6.8 -.8,7.5 .9,7.9 .5,7.4M1372.9,52.6l-.1,7.4 .3,8.1 .8,6.7 -.5,7.8 .7,6.6 .9,7.7 -.8,7.1 .4,8 .5,7.5 .5,6.7M1366,56.5l1.2,7.5 -.5,7.9 .1,6.9 .3,7 .6,8.3 .4,7.2 .4,7.1 -.1,7.9 .8,6.7M1360,53.5l.3,6.9 0,8 .9,6.6 0,7.9 0,6.9 .4,8 .5,6.7 .6,8.1 .1,7.5M1353,49.7l1.2,6.9 -.7,8.2 .4,6.6 .3,8 1,7 -.7,7.6 1.3,7.5 -.6,6.9M1347.2,46.1l-.3,7.4 0,7.1 1.1,8.3 -.1,6.8 .8,7.2 .4,7.7 -.7,7.3 .2,7.9M1340.7,42.7l-.4,7.3 1.1,7.9 -.6,7.1 .7,7.5 -.3,7.7 .4,6.6 .4,7.4M1334,39.3l.6,7.3 -.7,7.1 .4,7.3 .1,8.2 .5,7.2 .1,6.7 .8,7.5M1327.6,36.3l.3,7 .4,6.8 0,8.1 -.1,7.3 .9,7.8 .3,7.1M1321.3,32l-.2,7.2 .6,7.4 .1,8.1 .1,7.4 .4,6.7 .1,7.7M1314.9,28.7l-.6,7.6 .6,7.6 .3,7.7 .5,7.3 -.1,7.2 -.2,6.7M1307.8,25.4l.2,7.8 -.2,7.5 .8,6.4 -.1,8 .5,7.5M1301.5,29.6l.8,7.6 .2,6.8 .3,7.2 0,8M1294.5,25.9l.4,7.6 .8,7.1 .2,7.6 -.1,7.8M1288.8,29.3l.4,7.3 -.2,7.8M1301.5,29.6l-6.6,3.9 -5.7,3.1 -6.8,5M1314.9,28.7l-6.9,4.5 -5.7,4 -6.6,3.4 -6.7,3.8M1321.3,32l-7,4.3 -6.5,4.4 -5.3,3.3 -6.6,4.2 -6.2,3.2M1327.6,36.3l-6.5,2.9 -6.2,4.7 -6.3,3.2 -5.8,4.1 -7,4.8M1334,39.3l-6.1,4 -6.2,3.3 -6.5,5 -6.7,3.5 -5.7,4.1M1340.7,42.7l-6.1,3.9 -6.3,3.5 -6.5,4.6 -6.1,4.2 -6.7,3.7M1347.2,46.1l-6.9,3.9 -6.4,3.7 -5.6,4.5 -6.4,3.9 -6.3,4 -5.7,3.9M1353,49.7l-6.1,3.8 -5.5,4.4 -7.1,3.1 -6.1,4.5 -5.9,3.3 -6.9,4M1360,53.5l-5.8,3.1 -7.3,4 -6.1,4.4 -6.4,4.2 -5.3,4.1 -6.7,3.2M1366,56.5l-5.7,3.9 -6.8,4.4 -5.5,4.1 -6.5,3.6 -6.6,3.9 -5.5,4M1379.9,56.7l-7.1,3.3 -5.6,4 -6.9,4.4 -6.4,3 -6,4.3 -6.7,4.5 -6.2,2.9 -5.9,4.1M1386.1,59.3l-6.9,3.8 -6.1,5 -6.4,3.8 -5.5,3.1 -7,4.4 -5.5,3.5 -7.1,3.9 -5.8,3.8M1392.2,63.6l-5.6,3.2 -6.7,4.3 -6,3.7 -7.1,4 -5.6,4.1 -6,3.5 -6.1,4.2 -7.1,3.6M1398.4,66.6l-5.9,3.6 -5.7,4.1 -6.6,4.4 -6.8,3.9 -6.3,3.2 -5.9,4 -6.7,4.2 -6.1,3.9 -6.2,4.1M1405.5,70.1l-6.2,3.6 -6.9,4.1 -6.2,3.8 -5.3,4.3 -6.8,3.3 -6.4,4.9 -6.1,3.7 -5.8,3.7 -7.2,4.3M1412.3,73l-6.3,4.1 -5.9,3.9 -7,4.9 -5.7,3.3 -7.3,3.6 -5.1,4.1 -6.9,4.4 -6,3.2 -6.9,3.9M1425,73.7l-6.6,3.8 -6.6,3.9 -5.6,3.9 -6.2,2.9 -6.4,4.3 -6,4 -6.8,4.2 -6.6,3.3 -5.7,4.4 -5.8,4.2 -6.3,3.4M1430.9,77.1l-5.5,3.7 -6.4,3.1 -6.9,4.9 -5.9,3.9 -5.7,3.5 -6.6,4.3 -6.1,4 -6.7,3.9 -6.5,3.6 -6.2,4.3 -5.6,3.8M1438.2,79.9l-7.1,4.4 -5.1,3.1 -6.4,4.9 -7.1,3.2 -5.5,3.8 -6.2,4.2 -6.7,4.2 -6.3,3.2 -5.9,4.3 -6.8,4.3 -5.9,3.5M1450.5,79.4l-5.9,4 -6.6,4.2 -5.6,3.5 -6.6,3.8 -6.8,4.2 -6.2,3.7 -5.6,4.3 -6.4,3.8 -6.4,3.5 -6.1,4.7 -7.2,3.6 -5.5,3.5M1457.8,83.4l-7.2,3.6 -5.7,4.4 -6.3,3.5 -6.1,3.5 -6.4,4 -6.9,4.7 -5.4,3.2 -6.6,3.9 -6.2,3.6 -6.8,4.3 -5.8,3.9 -6.4,4.6 -6.4,3.5M1463.9,86.2l-6.5,4.1 -6.3,4.5 -5.7,3 -6.1,4.6 -7.3,3.6 -6.2,4.1 -5.6,3.7 -6.4,4.7 -6.1,3.9 -6.7,3.9 -6.5,2.9 -5.6,4.9 -6.4,3.9M1476.4,86.7l-6.2,3.9 -6.6,3.8 -5.6,3.4 -6.6,3.9 -6.7,4.2 -5.6,3.5 -6.1,4.1 -6.5,4.5 -5.8,3 -6.6,4.4 -6.9,4.4 -5.9,3.8 -5.8,3.9 -6.9,3.6M1483.5,89.4l-6.3,3.9 -7.1,4 -5.5,4 -6,3.7 -7.1,4.7 -5.7,3.6 -6,4.2 -6.6,3.3 -6.6,4.3 -6.7,3.7 -5.8,3.7 -5.9,4.6 -6.2,3.7 -6.8,3.1M1489.5,92.6l-5.5,4.1 -6.7,4.3 -7,4.1 -6.2,3.9 -5.4,3.1 -6.4,4.4 -6.7,3.9 -6.5,4.1 -6.1,4.1 -5.7,4 -6.3,3.1 -6.5,4 -6,4.8 -6.1,3.3M1495.8,96.3l-5.2,4.3 -7.4,4 -5.9,4.2 -6.2,3.8 -6.8,3.8 -5.5,4.1 -6.3,3.9 -6.9,3.1 -6.2,3.8 -5.9,4.7 -5.8,3.1 -7.1,4.5 -5.8,3.7 -7,4.4M1509.6,96.6l-6.3,3.4 -6.8,3.6 -6.6,4.6 -6.1,3.3 -6.4,4.2 -6.3,4.4 -6.4,3.3 -5.6,4.4 -6.6,3.3 -6.7,3.9 -6,3.9 -5.8,3.9 -6.9,4 -5.4,3.7 -6.3,4.9M1516,99.7l-6.2,4.3 -6.2,3.4 -6.3,4.1 -6.7,3.9 -6.7,3.5 -6.3,4.6 -6,4 -5.9,4 -6.2,3.6 -7,4.2 -5.4,3.1 -6.8,3.9 -6.7,4 -5.7,3.7 -6.2,4.3M1522.3,103.1l-5.9,4.3 -6.8,3.4 -6.6,4.3 -5.4,3.8 -7,3.6 -5.9,3.7 -6.6,4.4 -5.6,3.6 -6.7,4.3 -6,3.2 -6.3,4.4 -6.8,3.9 -6.4,3.5 -6.3,4.3 -5.8,4.3M1535,103l-6.3,4.1 -6.9,2.8 -5.5,4.5 -6.9,3.3 -6.1,4.7 -5.9,3.7 -6.7,3.5 -5.9,4.9 -6.6,3.9 -6.1,3.9 -6.5,3.5 -5.5,4.2 -6.5,3.4 -6.7,4.4 -5.8,3.9 -6.1,3.2M1541.5,105.7l-6.3,4.6 -6,3.8 -7.1,4 -5.6,3.7 -6.6,3.4 -5.8,4.5 -6.4,3.8 -6.4,4.5 -5.9,3.2 -6.9,4.5 -6.5,3.3 -5.7,3.7 -6.8,4.2 -5.7,3.5 -6.9,5.1M1548,109.7l-5.8,3.9 -7.3,3.5 -6.3,3.9 -5.5,4.1 -7,4.4 -6.3,3.6 -5.8,4 -6.6,4.1 -5.7,3.1 -6.3,4.8 -6.2,3.3 -7,4.2 -5.4,3.4 -6.6,4.9 -6.8,3.6M1561.4,109.4l-6.4,3.6 -7.1,4.2 -6.3,3.8 -5.5,3.9 -7.1,4 -6.3,3.9 -5.5,3.9 -6.9,4 -6.4,4 -5.8,4 -6.5,3.8 -5.7,3 -6.4,4.8 -7.1,3.2 -6,4.6 -6,3.2M1567.4,112.2l-5.8,3.8 -6.6,4.7 -7,3.1 -5.6,4.1 -6.6,4 -5.6,4.1 -6.6,4 -6.3,3.4 -7,4.5 -5.6,3.8 -5.9,3.6 -7.3,4.9 -5.3,3.4 -6.6,4.1 -6.4,4.1 -6.3,3.7M1573.7,115.5l-6.1,4.8 -6.3,3.6 -5.7,3.6 -7.3,4.8 -5.6,3.4 -6,4.1 -6.8,3.5 -6.4,4.2 -5.9,4.4 -6.9,2.9 -6.1,3.8 -6.3,4.5 -5.7,4.3 -7.1,4 -6.4,3 -5.6,4.6M1587.2,115.6l-6.4,4.4 -6.1,3.8 -6.5,3.7 -6.4,3.5 -6,3.6 -6.6,4 -6.9,4.6 -6.1,3.4 -5.8,4.8 -6.3,2.8 -6.4,4.1 -6.3,4 -6.9,4.1 -5.2,3.6 -7.1,4.3 -5.9,3.7 -5.8,4.5M1593.1,118.7l-5.8,4 -6.8,4.6 -5.7,3.2 -7.3,4.5 -5.6,4.2 -6.2,3.6 -6.7,3.3 -6,4.1 -6.7,4.4 -5.9,3.1 -5.7,4 -6.5,4.3 -6.7,4.2 -6.7,3.7 -6.2,3.5 -6.1,4.7 -6.2,3.1 -5.9,3.9M1606.6,119l-7.1,4.1 -6.4,3.5 -5.4,3.3 -6.5,3.9 -6.4,5 -6.9,3.6 -5.9,4.1 -6.3,3 -6,4.1 -6.4,4.1 -5.9,3.9 -6.8,3.7 -5.9,4.9 -6.4,3.5 -6.4,4.2 -5.8,3.1 -7,4 -5.8,3.7 -6.5,4.1M1612.8,121.9l-6.8,4.6 -6.4,3.4 -5.6,3.8 -6.7,3.8 -6.4,4.7 -5.8,4 -6.3,3.1 -6.2,3.6 -6.8,4.6 -6.5,3.2 -5.9,5 -6.6,3.8 -5.2,3.8 -6.6,4.2 -6.9,3.7 -6.5,3.3 -5.2,3.8 -6.9,4.5 -6.7,4.3M1625.1,121.9l-5.5,4 -6.8,3.9 -6.4,3.9 -6.3,3.5 -6.3,3.9 -5.5,3.8 -6.7,3.6 -6.5,4.9 -5.8,3.4 -6.3,3.5 -7.1,4.9 -5.2,3.9 -6.6,4 -6.7,3.3 -6.1,4.5 -6,3.9 -6.8,3.6 -6.5,3.4 -5.5,3.7 -6.9,4.7M1638.7,121.6l-7.3,4.1 -6.1,3 -5.8,4.1 -6.1,4.1 -6.9,3.7 -6.4,4.1 -5.3,4.5 -7,3.1 -6.5,4.1 -6.4,3.4 -6,4 -6.3,4.1 -6.3,4.8 -6.1,3.9 -6.7,3.9 -5.2,3.7 -6.9,3.8 -6.7,3.7 -6,4.1 -6.2,3.4 -5.7,4.4M1645.1,124.9l-6.3,3.6 -7.1,4.1 -6.1,4 -6.3,3.7 -6,4.5 -6.4,3.9 -6,4 -6.8,3.6 -5.5,3.7 -7,3.3 -5.8,4 -6.4,5 -6.6,3.7 -6.1,3.7 -5.6,4 -6.6,3.4 -6,4.3 -7.2,4.3 -6.1,3.2 -6.4,4.5 -6.2,3.1M1657.4,124.3l-6.6,4 -6.2,4.3 -5.3,3.7 -6.7,3.5 -6.9,4.4 -6,3.1 -6.5,4.1 -6.1,4.4 -6.1,3.9 -5.7,3.3 -6.6,4.2 -6.7,3.9 -6.6,4.7 -5.4,3.8 -6.6,2.9 -6.4,4.3 -6.3,3.8 -6,4.5 -6.4,3.1 -5.7,4.5 -6.5,4.1 -6.7,3.3 -6.1,4.5M1657.7,131.3l-6.2,4 -6.2,4.5 -6.4,3.6 -5.6,4.2 -6.3,3.8 -7.2,3.5 -5.7,4.5 -6.9,3.2 -5.7,3.8 -6.8,4.8 -6.3,3.9 -5.5,3.6 -6.3,3.7 -6.7,4.1 -5.9,4.3 -6.5,3.2 -6.7,4.3 -5.4,3.3 -6.5,4.7 -6.9,3.6 -6,4 -6.2,4.4M1664,135.5l-5.8,3 -6.1,4.9 -6.4,3.1 -6.7,4 -6.3,4.5 -6,3.9 -6.4,3.1 -6,4.4 -7.1,3.6 -5.1,4.2 -6.4,3.7 -6.2,4.4 -7,3.9 -6,3.3 -6.1,3.9 -7.1,4.4 -6.2,4.4 -5.4,3.4 -6.9,4 -5.9,3.7 -5.8,3.7 -7,4.1M1670.9,138.1l-6.4,4.6 -6.4,4 -6.2,3.4 -5.7,3.9 -7,4.5 -6.4,3.1 -6.1,4.8 -6.6,3.9 -6.1,3.3 -5.5,3.6 -6.7,4.9 -6.2,2.9 -5.9,4.2 -6.5,4.6 -6.3,4.1 -5.9,3 -6.7,4.9 -6.6,3.3 -6.4,3.6 -5.6,4.6 -7,3.3 -6.4,4.7M1677.9,142.4l-7.2,3.4 -5.9,4.4 -6.4,3.5 -5.7,4.1 -6.8,3.4 -6,4.7 -5.9,3.2 -7.2,4.8 -6,3.8 -6.2,4.1 -6.6,3.3 -6.2,4.6 -6.3,3.2 -6.1,3.8 -6.2,3.9 -6.1,4.7 -6.6,3 -6.5,3.9 -6,3.8 -6.6,4.4 -6.1,3.7 -6,4.7 -5.8,3.1M1683.5,145l-6.4,4.8 -6,3.4 -5.9,4 -6.6,4.6 -6.1,3 -5.7,4.8 -6.6,2.9 -6.3,4.7 -6.7,3.3 -6.6,4.6 -5.7,4.1 -6.8,3.7 -6,3 -6.3,4.9 -6.5,4 -5.7,3.4 -6,3.6 -6.3,4.3 -7,4.5 -6,3.2 -6.6,4.5 -5.4,2.9 -6.7,4.2M1689.9,149.3l-5.6,3.7 -6.3,3.9 -5.9,3.4 -6.2,4.6 -6.4,4.1 -6.7,3.2 -5.7,4.6 -7.1,4 -6.4,3.4 -5.9,3.6 -5.8,4.8 -7.1,3.3 -6.2,4 -5.9,4.3 -6.5,3.1 -6.2,4.4 -5.7,3.7 -6.6,3.6 -6.3,5 -6,3.9 -6.6,2.9 -6.5,4.9 -6,3.4M1703,149l-5.8,3.2 -6.2,4.4 -6.5,3.1 -6.1,5.1 -6.3,3.5 -5.9,3.6 -6.7,4 -6.8,4.5 -5.9,3.6 -6.8,4.3 -5.9,3.4 -5.9,4.5 -6.7,3.1 -5.7,4.5 -6.8,3.6 -5.9,4.1 -6.6,3.4 -5.6,4.1 -7.4,3.8 -6,3.7 -6.3,4.9 -5.7,2.8 -6.1,4.3 -7,4M1715.9,148.1l-6.4,4.3 -5.8,3.9 -6.4,3.9 -6.7,4 -5.6,3.5 -6.6,3.6 -6.8,3.7 -5.2,5 -6.2,3.9 -7.5,3 -5.6,3.8 -6.2,4.2 -6.8,4.6 -5.9,3.9 -6,3.7 -6.4,3.3 -6.4,4.6 -6.6,3.2 -6.1,4.8 -5.7,3.2 -6.5,4.6 -6.8,3.2 -5.6,4.3 -6.1,4.3 -6.6,3.5 -6.4,3.4M1722.6,151l-6.7,4 -5.8,4.3 -6.9,3.9 -5.6,4.1 -6,4.3 -6.8,3.9 -5.7,3.8 -6.3,3.2 -6.8,4.3 -6,4.5 -6.8,3.9 -5.4,3.1 -6.3,4.5 -6.7,3.8 -6.7,3.5 -6.5,4.2 -6.1,4.1 -5.3,3.6 -6.8,4.4 -6.6,3.8 -6.4,3.4 -5.6,4.2 -7,4 -5.3,4.4 -6.4,3.2 -6.9,4.4M1735,150.9l-5.4,4.7 -6.6,3 -6.8,3.8 -5.9,5 -6.8,2.8 -5.7,4.1 -6.4,4.2 -5.6,3.9 -7.2,4.3 -5.6,3.4 -6.3,4 -7.1,3.7 -6.3,4.5 -5.5,3.8 -6.2,3.8 -6.9,3.4 -6.4,4.8 -5.8,3.1 -6.5,4.3 -6.1,3.6 -6.3,4.9 -5.7,3.7 -6.4,3.2 -7.1,4.3 -6.2,3.4 -6.2,4.4 -5.7,3.9M1741.5,154.9l-5.5,3.9 -6.8,4.1 -5.6,3.6 -7.1,4 -5.7,3.7 -6.5,4.5 -5.8,3.2 -7.2,3.8 -5.3,4.4 -6.3,3.5 -6.3,3.7 -6.5,4.3 -6.5,3.6 -6.1,4 -6.2,4.1 -6.3,3.9 -6.7,4 -6.6,4.1 -6.2,3.9 -5.5,4 -6.6,3.4 -6,4.7 -6,4 -7.4,3.2 -5.8,4.7 -6.3,3.3 -6.2,4.3M1754.8,154.1l-6.6,3.7 -5.4,4.1 -7.1,4.2 -6.4,3.2 -5.9,4.2 -5.8,3.7 -6.4,4.8 -7.2,3.9 -5.5,3.7 -6.3,4 -6.7,3.6 -6.4,4.5 -5.3,3.9 -7.2,2.9 -5.5,4.2 -6.6,4.6 -6.2,3.7 -6,3.8 -7.3,4.2 -5.5,3.5 -6.4,4.4 -6.8,3.2 -5.6,4.5 -6,3.9 -7.2,4.2 -6.2,3.2 -6.2,3.6 -5.6,4.5M1779.7,146.3l-5.5,3.6 -6.1,3.5 -6.3,4.6 -6.4,3.2 -7.2,3.7 -6.2,5.1 -5.3,3.3 -6.6,3.9 -6.5,4.2 -6.6,3.6 -5.8,3.6 -6.6,4.7 -6.4,3.5 -6.4,4.3 -6,3.1 -6.2,4.1 -6.3,3.8 -6.1,4.1 -6.4,4.1 -6.4,4.2 -6.6,3.5 -5.4,3.6 -6.6,4 -5.9,3.8 -6.9,4.5 -6.6,3.6 -5.9,3.8 -6.3,4.6 -6.1,3.8 -6.4,3.4 -6.3,3.8M1793.5,145.6l-6.7,3.7 -6,4 -6.8,3.5 -5.7,3.8 -7.1,4.1 -5.9,4.3 -5.7,4.1 -7.1,3.8 -6,3.5 -6,4.7 -7,3.6 -5.3,3.9 -7.3,4 -6.3,3.9 -5.6,4.2 -6.9,3.3 -5.3,4.2 -7.3,4 -6.3,3.4 -6.2,4.5 -6.3,3.9 -5.4,3.6 -7.3,4 -5.2,3.5 -7.2,4 -6.1,4 -6.3,4.2 -6,3.4 -6.3,3.9 -6.1,4.5 -6.6,4.4 -6.5,3.3M1798.9,148.7l-6,3.6 -6.5,4.9 -5.9,3 -6.1,4.4 -6,4.3 -6.3,3.6 -6.4,4.3 -6.6,3.6 -6.4,4 -6.2,3.2 -5.7,4.5 -6.9,3.3 -5.8,4.4 -6.7,4.3 -5.8,3.9 -6.8,3.5 -6,4.1 -5.7,4.4 -7.4,3.6 -6,3.8 -6.5,4 -5.3,4.3 -6.4,2.9 -6.6,4.7 -6.2,4.2 -5.9,3.2 -7.2,3.6 -5.7,4.1 -6.6,3.9 -5.6,4.4 -6.5,3.4 -6,3.7M1811.7,147.9l-5.3,3.9 -6.4,4.6 -6.1,4.2 -6.5,3.7 -6,4.2 -7.3,4 -5.3,3.6 -7.1,3.4 -5.5,3.9 -6.8,4.3 -6.3,4 -6.6,3.4 -5.5,3.8 -6.2,4 -6.4,3.8 -6.3,4.8 -6.8,3.3 -6,4.1 -5.8,4.1 -7,3.5 -5.7,4.8 -6.5,2.8 -6.3,4.2 -6.2,4.1 -6.6,3.5 -6.4,4.2 -5.8,4.5 -6.7,3.9 -5.8,3.6 -6.8,3.4 -5.9,4.3 -6.5,3.7 -6,4.1M1825.5,148.2l-6.4,4 -6.2,3.5 -6.7,3.7 -6.7,4.5 -6.3,4.3 -6.3,3.9 -5.8,3.4 -6.2,3.3 -6.1,4.7 -6.3,4.2 -6.9,3.7 -5.3,4.1 -7.3,3.9 -6,3.3 -5.6,3.7 -6.7,3.9 -6,4.8 -6.2,3.7 -6.3,3.2 -6.7,4.1 -5.8,4.6 -6.9,3.7 -5.6,3.6 -6.9,4 -5.6,4.5 -6.3,3.1 -6.6,4.1 -6.6,4.6 -6.4,3.6 -6.1,3.9 -6.7,3.8 -5.8,3.6 -6.6,4 -5.6,3.9M1831.7,152l-6.1,3.3 -6.4,4.2 -6.8,4.2 -5.8,3.3 -6.1,4.7 -7,3.6 -5.6,3.7 -6.1,4.4 -6.9,3.5 -6.2,4 -5.6,4 -7,3.2 -6.5,4.5 -5.6,3.2 -6.7,4.2 -5.9,4.7 -6.2,3.4 -7.1,4.2 -5.3,3.8 -7,3.2 -5.8,4.4 -6.3,4.5 -6.6,3 -6.2,4.2 -6,4.6 -6.7,3.1 -6.2,4.3 -6.4,3.9 -6.3,3.9 -6.2,3.5 -5.7,4.6 -6.9,4 -5.4,3.7M1844.6,150.9l-6.3,4.4 -6.1,3.6 -6.9,3.7 -5.6,3.6 -7.1,5 -6.3,3.5 -6.4,3.3 -5.4,4.5 -7,4.3 -5.8,3.2 -6.6,4.5 -5.4,4.1 -6.7,3.8 -6.9,3.5 -6,4.4 -6.5,3.9 -5.9,3.6 -6.8,3.9 -6.2,4.2 -6.3,3.8 -5.5,3.7 -7.1,3.7 -5.3,4.5 -6.5,3 -6.4,4.9 -6.7,3.7 -5.8,3.3 -5.9,4 -6.3,4.4 -6.9,4.2 -6.4,3 -5.7,4.2 -6.5,4.6 -6.8,3.2M1857,151.1l-5.8,2.8 -6.5,4.6 -6.2,3.9 -5.8,3.4 -7.1,4.7 -6.1,4.1 -6.6,2.9 -5.7,4.9 -6.1,3.2 -6.4,3.6 -6.2,4.1 -6.4,4.7 -5.9,3.4 -6.3,4.5 -6.8,3.5 -6.3,3.6 -6.5,4.1 -6.2,3.5 -6.4,4.5 -6.5,4.3 -5.7,3.3 -5.9,4.2 -6.7,3.7 -6.7,4.5 -5.3,3.8 -6.7,3.8 -6.7,4.4 -6.4,3.6 -5.9,3.5 -6.7,3.4 -5.6,5 -6.8,3.2 -6.3,3.7 -5.4,4.6 -6.8,4.2M1864.2,154.4l-6.5,3.4 -6.2,3.7 -6.2,4.5 -7.2,3.5 -5.5,3.6 -6.8,4.7 -5.7,3.9 -6.7,3.4 -6.3,4.6 -6.6,4.2 -5.5,2.7 -6.4,4.8 -6,3.6 -6.3,4.4 -6.6,4 -6.8,3.9 -5.5,2.9 -6.8,4.9 -6.7,3.3 -5.1,4.2 -7.1,4.3 -6.5,3.7 -5.6,3.1 -6,4.2 -6.4,4.3 -6,3.4 -6.9,3.9 -5.8,4.8 -7.1,4 -5.7,2.9 -6.2,4.6 -6.2,4 -6.1,3.6 -6.6,3.6M1876.5,153.1l-6.1,4.8 -5.9,4 -6.5,3.6 -6.2,3.3 -6.1,4.5 -6.2,4.3 -7,4 -5.6,2.9 -6.3,4.5 -6.9,4.1 -5.7,3.9 -7,3.6 -6.6,4 -5.6,3.9 -6,4.5 -6.6,2.9 -6.5,4.4 -5.9,3.4 -5.9,4.4 -7,4.1 -6.6,3.5 -5.8,4.1 -6.4,3.9 -6.3,4.2 -6.4,3.5 -5.8,4.7 -6.6,3.8 -5.7,3.4 -7.1,3.8 -5.8,4.3 -6.8,3.9 -5.7,3.5 -6.5,4.7 -6.3,3.4M1889.7,153.7l-7.2,3.4 -6.2,4.2 -6.3,3.1 -5.3,4.3 -6.9,3.8 -6.3,4.8 -5.6,3.8 -6.9,4 -5.6,3.5 -6.8,4.3 -5.7,3.2 -6.8,3.8 -6,4.4 -6.3,3.2 -6,4.2 -7,4.3 -6.4,3.3 -5.5,4.3 -6.7,4.6 -6.5,3.4 -6.5,3.9 -5.4,3.5 -7.3,4.2 -6,3.9 -5.8,4.7 -6.2,2.9 -6.8,4.9 -5.8,3 -5.9,4.7 -6.9,3.2 -6.6,4.4 -6.1,3.9 -5.7,3.8 -6.7,3.5M1896.2,156.9l-7.1,3.9 -6.1,3.8 -5.7,4 -6.7,3.6 -6.6,3.6 -5.9,3.9 -5.8,4.6 -7.2,3.3 -5.6,4.4 -6.6,3.5 -6.6,4.2 -6.2,4.5 -6,4 -6.4,2.8 -6.1,4.2 -5.6,4.6 -7.4,3.7 -5.4,3.3 -6.2,4.9 -6.3,3.6 -6.9,3.8 -5.6,4 -6.9,4.2 -5.6,3.7 -6.3,3.3 -6.6,4.5 -5.9,4.1 -6.1,3.5 -7.4,3.9 -5.6,4.3 -6.4,3.6 -6.6,4.1M1909.1,155.8l-6.7,4 -6.6,3.7 -5.5,3.9 -6.1,4.8 -7,3.5 -5.6,4.1 -7.3,4 -6.2,4.1 -6.3,3.4 -5.3,4.1 -6.7,3.8 -5.8,4.4 -6.5,3.7 -6.7,3.8 -5.6,4.5 -6.3,2.9 -7.4,3.8 -5.8,3.9 -6.5,4.5 -6.2,4.3 -5.8,3 -6.6,4.6 -5.9,3.6 -6.3,3.9 -6.7,4 -6.5,3.6 -6.3,4.1 -5.7,4 -7,4.5 -5.6,3 -6.8,4.7M1921.7,155.9l-6,4.3 -6.1,3.7 -6.9,4 -5.7,3.8 -6.5,3.7 -7.2,4.1 -5.5,3.2 -6.5,3.9 -6.1,4.3 -6.6,3.9 -6.1,4.6 -5.9,3 -6.6,4.3 -6.4,4.5 -5.7,3.6 -6.9,4.1 -6.5,3 -5.9,5 -6.2,3.6 -6.5,3.5 -5.6,4.5 -6.8,3.8 -6.4,3.3 -6.2,4.5 -5.9,4 -6.1,3.6 -6.2,4.4M1928.2,159.1l-5.8,4.4 -6.5,3.4 -6.4,4 -6.2,3.5 -7,4.1 -5.9,4.8 -5.9,3.5 -6.3,4.4 -6.7,3.8 -6.7,3.8 -5.9,3.5 -6.1,3.5 -6,4.4 -6.9,4.2 -6.5,3.4 -5.5,4.1 -7.1,3.8 -5.4,3.8 -6.8,4.2 -5.6,4 -7,3.5 -5.7,4.7 -7.1,3.1 -6,3.8M1940.9,158.7l-5.9,3.5 -6.7,4.7 -6.7,4 -5.9,3.5 -6.8,3.9 -5.4,3.5 -6.3,4.2 -6.7,4.6 -6.7,3.6 -5.1,4 -6.6,4.1 -7,3.9 -5.7,3.4 -6.7,4.3 -6.4,3.8 -5.6,4.3 -6.7,3.6 -6.6,4.1 -5.9,3.1 -6.1,4.7M1953.6,157.8l-6.1,4.3 -6.5,3.5 -5.7,4.5 -6.8,4.4 -5.9,2.9 -6.7,4.2 -6.4,3.7 -6.2,4.7 -6.5,3.7 -5.6,3.5 -6.3,4.1 -6,3.7 -7.1,4.4 -6.3,4.2 -5.7,3.9 -7.1,3.9M1960.3,161.3l-6,4.2 -6.5,4.1 -6.7,3.8 -6,3.7 -6.2,4.1 -6.8,4.7 -5.5,3.5 -6,4 -6.3,3.6 -6.3,4.2 -6.7,3.8 -6.6,4.4 -5.7,3.2M1973.4,161.3l-7.1,4.1 -5.9,3.3 -6.3,3.9 -6.7,4.2 -6.2,3.9 -6.2,4.1 -5.5,4.2 -7.2,3.9 -5.6,4.3 -6.2,3 -7,4.4 -6.4,3.7M1979.2,164.6l-6.4,4.1 -5.3,4.2 -6.2,4 -6.6,3.3 -6.6,3.7 -6.6,4.4 -5.9,4.5 -6.8,3.7 -5.6,3.1 -6.9,4.5M1985.6,168.8l-5.8,3.7 -6.7,3.5 -6.1,3.6 -5.9,4.4 -6.9,3.9 -5.6,3.5 -6.2,4.4M1980.3,179.7l-6.9,3.6 -5.4,4M1986.3,176.1l-6.5-3.6 -7-3.8 -6.5-3.3 -6-4.1M1980.3,179.7l-7.2-3.7 -5.6-3.1 -7.1-4.2 -6.1-3.2 -6.8-3.4 -6.6-3.4M1980.3,187.3l-6.9-4 -6.4-3.7 -5.7-2.7 -7.2-4.3 -6.3-3 -6.8-4 -6-3.4 -6.8-3.1M1968,187.3l-6.9-3.3 -6.4-3.8 -7.3-3.4 -6.3-3.4 -5.8-3.3 -7-3.2 -5.9-3.4 -6.7-3.3 -6.6-4.4M1960.8,191.6l-6.6-3.7 -6.1-4 -6.9-3.2 -6.1-3.6 -6.6-2.6 -6.9-3.6 -5.7-4 -6.3-3 -7.2-4.1 -6.2-2.9M1954.9,195l-6.3-3.6 -7.1-3.1 -6.5-3.5 -6.1-3.6 -6.3-3.8 -6.9-3 -6.2-3.5 -6.8-3 -6.9-4.4 -6.7-2.7 -6.6-3.7 -6-4M1942.4,195.8l-6.8-3 -6.1-3.8 -7.4-3.1 -6.2-4.3 -7-3.3 -5.6-3.9 -6.3-2.7 -6.7-4.3 -7.3-2.8 -6.7-3.3 -5.9-3.4 -6.2-3.5M1936,199.8l-7.2-3.3 -6.5-3.6 -5.7-3.5 -7.1-4.1 -6-3.5 -7.2-3.3 -5.8-3.1 -6.3-3.2 -6.9-3.6 -7.3-4.2 -5.5-2.5 -6.8-4.1 -6.5-3.9 -6.6-3M1929.4,203.9l-6.2-4.3 -6.5-2.4 -6.1-3.8 -7.3-3.4 -6.1-4 -6.8-2.7 -7.1-3.8 -6.1-3.8 -6.6-3.5 -5.9-3.5 -6.7-3.2 -6.5-4 -6.8-3 -6.4-3.2 -6.6-3.3M1916.3,204.1l-5.8-3.9 -6.2-3.2 -7.5-3.3 -6.3-3.1 -6-3.8 -6.7-4.1 -6.2-2.9 -7.6-4 -6.2-3.3 -6-3.7 -6.5-2.8 -6.8-3.6 -6.3-3.5 -6.6-3.6 -6.5-3.1 -7.4-4.3M1910.7,207.6l-7.2-3 -5.5-3.4 -6.8-4 -7.4-3 -5.6-3 -6.9-4.6 -7-2.8 -6.2-4.1 -6.6-2.4 -5.8-4 -7.6-3.8 -5.4-3.7 -7.4-3.2 -6.1-3.1 -6.3-3.8 -6.5-3.9 -7.5-3.1M1897.1,208.3l-5.8-3.3 -6.4-3.7 -6.2-3.1 -7.2-3.2 -6.3-4.1 -7.1-3 -5.8-3.6 -6.4-3.2 -6.4-3.5 -6.9-4.5 -7-2.6 -5.9-4.3 -7.3-2.5 -6.2-4.3 -6.2-3 -7.1-4.1 -6.1-3 -7.1-3M1891.8,212.8l-7.1-3.4 -5.8-4.4 -6.8-2.7 -7.3-3.5 -6.2-4 -6.8-3.5 -6.7-3.7 -6.1-2.5 -6.5-3.5 -6.7-3.8 -6.3-3.2 -6.9-3.4 -6-4.2 -7.1-3.1 -5.6-3.3 -7.5-3.4 -5.6-3.9 -6.6-3.4 -7-3.5M1879,212.6l-7.2-3.2 -6.7-3.2 -6.2-3.9 -6.4-2.9 -6-4 -7-3.4 -6.1-3.4 -6.5-4.1 -6.8-2.8 -7.2-4.2 -6.6-2.8 -5.8-3 -7.3-3.5 -5.8-3.9 -6.9-4.1 -6.5-3.4 -5.9-3.4 -7.5-3.5M1872.5,216.4l-7-2.8 -6.1-4 -6.6-3.8 -6.2-3.4 -6.8-3.2 -6.9-3.7 -6.3-2.6 -6-3.9 -7.2-3.9 -6.2-2.7 -7.3-4.4 -6.4-2.7 -6.6-3.2 -5.5-3.6 -7-3.9 -6.1-4 -6.5-2.6 -7-3.9M1865.8,221.1l-6-3.6 -7.1-3.6 -5.9-3.7 -6.8-3.5 -6-3.1 -7.7-3.9 -5.4-3.6 -7.2-3 -6.6-3.4 -6-4.1 -6.6-3.1 -6.6-3.5 -6.8-3.5 -7-3 -5.7-3.6 -7.2-4.2 -5.8-3.5 -7.2-3.4 -6.7-2.9M1852.7,221.4l-6.4-3.7 -6.4-3.3 -6.3-3.2 -6.1-3.9 -7.4-3.1 -6-4.3 -6.1-2.9 -7.5-3.1 -5.8-4.7 -7.2-2.4 -5.7-3.4 -6.9-4.6 -6.1-2.7 -6.7-3.6 -6.8-3.5 -7.1-4.1 -5.4-3 -6.8-3.1 -6.4-3.2 -7-4.6M1847.3,225.4l-6.6-3.4 -7.3-4.2 -5.5-3 -7.1-3.7 -6.7-2.9 -6-3.9 -7.1-3.7 -6-4 -6.5-3.3 -6.8-3.3 -6.8-3.1 -6.1-3.4 -7.1-4 -6-2.7 -6.1-3.7 -7.6-3.1 -6.3-3.9 -6.5-3.2 -6.2-4.3 -7.1-3.6 -6.4-2.6 -6.5-3.4M1840.5,228.5l-6.5-2.9 -6.1-3.7 -6.9-3 -5.8-3.3 -7.5-4.6 -5.9-3.5 -7.4-2.9 -5.8-3.2 -6.5-3.4 -7-3.5 -6.4-3.6 -6.2-3.2 -6.3-4.3 -7.1-3 -6.6-3.5 -5.8-3.6 -7.4-4 -5.7-2.8 -7.4-4.1 -6.1-3.1 -6.4-3 -6.5-4.1 -7.3-2.9M1657.7,131.3l-6.9-3 -5.7-3.4M1834.7,232.9l-7.3-3.2 -6.6-4 -6.3-3.8 -5.6-3.4 -7.3-3.3 -5.8-3.5 -7-3.2 -6.2-3.5 -6.4-3.6 -6.5-2.8 -6.6-3.7 -7.5-3.5 -6.2-3.7 -6.7-3.3 -6.2-4 -6.4-3.2 -6.7-3.7 -6.9-3 -6.2-3.1 -7.1-4.2 -5.9-3 -6.3-3.6 -6.7-3.6 -7.2-3.2 -6.4-4 -6.2-3.1 -6.3-4.2 -6.7-3.2 -6.9-2.7 -5.8-4.1 -7.4-2.8 -6.3-3.8M1827.8,236.8l-6.3-4 -6.1-3.3 -6.8-2.6 -7.1-4.6 -5.5-2.5 -7.2-3.8 -6-3 -6.5-3.6 -6.4-3.5 -6.9-3.5 -6.9-4.3 -5.8-2.6 -7.2-3.8 -6.6-4.1 -6-2.5 -6.9-3.7 -6-4.2 -6.8-3 -7.3-4 -5.9-2.9 -7-3.1 -6.1-4.5 -6.5-2.8 -6.9-3.7 -6.3-3 -6.7-3.5 -6-3.3 -6.8-3.6 -6-3.5 -7.6-3.7 -6.4-3.9 -5.7-2.8 -6.8-4M1815.4,237.5l-6.8-3.8 -6.2-3.2 -6.7-4.3 -7.1-2.7 -6.2-4.2 -6.2-3.4 -6.5-2.5 -6.6-4 -7-3.5 -6.5-3.3 -6.6-3.2 -6.5-4.3 -5.7-3 -7.3-3.4 -6.5-3.7 -5.8-3 -6.9-3.3 -6.5-4.4 -6.2-2.7 -6.6-3.9 -6.6-2.9 -6.3-4.5 -6.9-3.1 -6.8-3.5 -6.5-3.6 -6.2-3.6 -6.8-3.1 -6.3-3.6 -7-3.2 -6.1-3.8 -6.7-3 -6.8-3.3 -6.5-3.4 -6.4-4.4M1809.5,240.5l-6.5-2.8 -7.1-3.7 -6.7-3.3 -6-3.9 -6.3-3.2 -7.2-3.3 -6.8-3 -6.1-4.3 -6.7-2.7 -6.1-4.5 -7-3.1 -6-3.8 -7.1-3.5 -5.7-2.8 -7-4 -7.2-2.7 -5.5-4 -7.1-3.4 -6.6-3 -6.4-4.2 -6.3-3 -6.2-3.4 -7.3-3.1 -5.9-4 -6.5-3.8 -7.2-3.5 -5.7-2.9 -7.6-3.4 -6.4-3.9 -5.9-3.4 -7-3.2 -6.8-3.8 -6.5-3.3 -5.8-3.9 -6.5-2.7 -7.1-4.5M1802.5,245l-6.5-3.8 -5.7-2.7 -7.3-3.5 -6-3.3 -6.8-3.5 -6.4-4.5 -6.4-3.5 -7.1-3.1 -6.7-2.9 -6.3-4.2 -5.9-3.6 -6.6-3.5 -6.7-3.1 -7.2-3.2 -6.3-3.3 -6.1-3.7 -7.2-3.9 -5.5-3.3 -6.7-3.1 -7.5-4.3 -5.4-3.1 -6.7-2.9 -7-4.2 -6.6-3.6 -6.7-2.7 -6.5-3.5 -5.7-3.6 -7.3-4.1 -6.4-2.5 -6.8-4.2 -6.4-3.4 -6.1-3.5 -6.3-3.8 -7.2-2.6 -5.8-3.5 -7.1-3.5 -6-4.3 -6.6-3 -7-3.3M1796.1,248.9l-5.8-3 -6.8-3.6 -6.3-4.3 -6.5-2.7 -7-3.7 -5.8-3.5 -7.3-3 -6.5-4.5 -6.4-2.8 -6.3-3.1 -6.7-4.4 -6.3-3.6 -7-2.6 -6.8-3.6 -6.4-3.7 -6-3.2 -6.2-3.5 -7.4-3.4 -5.8-4.2 -6.4-2.5 -6.9-4.1 -6.7-3.7 -6-2.6 -6.9-3.7 -7.1-4.3 -6.1-2.7 -6.9-4 -6.6-3.5 -6.3-2.7 -6.8-4 -6.3-3.6 -6.5-3.6 -6.1-3.7 -6.4-3.3 -6.6-3 -6.9-3.6 -6.3-3.2 -7.1-3.5 -5.7-3.6 -7-3.3 -6.5-3.2 -6.4-4M1790.2,252.7l-7-3.7 -6.1-3.4 -6.5-3 -6.8-3.5 -6.6-3.6 -6.3-3.3 -7-3.8 -6.2-3.3 -6.8-3.4 -5.7-3.6 -6.5-3 -6.6-3.6 -6.5-3.5 -6.6-3.3 -7.2-3.6 -6.3-3.9 -5.8-3.6 -6.7-3.5 -7-3.3 -5.8-2.9 -7.5-3.5 -5.6-3.6 -6.9-4.3 -6.2-3.4 -7.3-2.7 -6.4-4.4 -6.2-2.6 -7-3.6 -6.2-3.1 -6.1-3.5 -6.5-4.3 -7.4-2.7 -6.1-3.4 -7.3-3.8 -5.7-4 -6.2-3.5 -7.6-3.7 -6.4-2.8 -6.7-3.9 -5.7-3 -7.4-4.2 -5.4-2.5 -6.6-3.4 -6.5-4 -7.5-3.7M1777.2,252.8l-6.3-2.7 -6.2-3.9 -6.5-3.1 -6.4-4.1 -7.5-3.3 -5.5-3.1 -7.6-3.2 -6.5-3.5 -6.6-3.6 -5.6-3.5 -7.2-4 -6.5-3.3 -6.7-3.5 -6.3-3.8 -6.7-2.5 -5.7-4.4 -6.7-3.2 -6.7-2.8 -7.3-4.4 -5.9-2.9 -6.8-3.2 -6.1-3.6 -7.1-3.3 -6.7-3.6 -5.8-3.9 -7.1-3.8 -6.2-2.9 -6.9-3.4 -6.3-4 -6.2-3.8 -6.5-2.3 -7.2-3.8 -6-3.2 -6.1-4.6 -7.5-2.3 -5.9-4.4 -6.3-3 -7.5-3.9 -6.5-2.9 -5.8-3.7 -6.7-3.6 -6-3.4 -7.1-3.8 -5.9-3 -6.6-3.9 -6.8-3.4 -7-2.7 -6.3-4.4M1771.6,256.8l-6.6-2.7 -6.6-4 -7.1-2.8 -6.8-4.1 -6-3.4 -6.8-2.9 -6.2-4.2 -7.1-3 -5.6-3.6 -6.6-4.1 -6.9-3.1 -6.5-3.3 -6-3.4 -7.2-3.9 -5.8-2.7 -6.9-4 -7.3-3.8 -6.4-2.6 -6.1-4.5 -7.1-2.4 -6.4-4.1 -6.4-3.7 -6.4-2.8 -6.8-4.1 -6.8-3.6 -5.7-3.6 -6.2-3.4 -6.7-3 -7.3-3.6 -6.2-3 -6.3-4.1 -6.8-2.8 -6.3-3.7 -6.5-4.2 -6.5-2.9 -6.9-3.8 -6.8-3 -5.9-3.8 -6.6-3.3 -7.1-4.1 -6.4-2.6 -5.7-3.6 -7.4-3.3 -6.7-3.6 -5.9-3.6 -7.2-3.7 -6.5-2.9 -6.2-4.1 -6.8-3.3 -6-3.6 -6.4-3.5M1765,261.7l-6.1-4 -7.2-3.6 -6-3.1 -7.2-3.9 -6.4-3.4 -6.9-3.1 -5.6-3.7 -6.7-3.5 -7.1-4.1 -6.3-3.2 -6-3.1 -6.4-3 -7.6-3.8 -6.2-4.1 -6.7-3.6 -6.2-3.3 -7.1-2.9 -5.5-4 -6.9-3.4 -6.8-3.2 -6.4-3.9 -7.1-2.7 -6-3.3 -6.1-4.6 -6.4-3 -7.4-3 -6-4 -7.1-3.9 -6.7-3.5 -5.6-3 -6.7-3.9 -6.9-3.4 -6.7-3.4 -6.7-2.9 -5.6-3.4 -6.5-3.8 -7.5-3.2 -6.6-3.3 -6.2-4.3 -6.6-2.8 -5.7-3.5 -7-3.5 -6.8-3.9 -6.5-2.7 -7-3.7 -5.7-3.8 -6.6-3.5 -6.9-3 -6.2-3.4 -6.9-3.8 -6.9-3.3 -5.7-3.5 -7-3.3 -6.1-4.5M1752.7,262.1l-7.5-4.4 -5.8-3.4 -6.7-2.5 -6.9-3.9 -6.2-4.2 -6.7-3.1 -7.1-3.5 -5.8-3.4 -6.3-3 -7.2-4.2 -6.8-2.9 -6.5-4 -6-3.4 -6.1-3.5 -6.8-3.5 -6.5-3.1 -6.3-3.3 -7.4-3.3 -5.9-3.3 -6.3-3.6 -7-3.4 -6.9-4.1 -6.2-3 -6.1-4.2 -7.3-2.8 -6.4-4 -6.2-3.8 -6.9-3.5 -5.9-3.5 -7.2-2.8 -6.1-3.9 -6.7-3.4 -6.8-3.6 -6.3-3.3 -6.3-3.3 -6.4-3.3 -7.4-3.6 -5.7-3.4 -6.7-3.6 -6.8-3.6 -6.7-3.6 -6.5-3.2 -6.3-3.1 -7-3.6 -5.5-4 -7.2-3.3 -6-3.9 -6.8-2.9 -6.2-3.8 -6.4-3.7 -7-3.5 -7.2-2.5 -5.8-4.3 -6.7-3.4 -6.8-3.5 -5.9-3.4 -7.4-3.7 -6.4-3.1 -6.8-3.5M1745.8,265.9l-6.9-4.1 -6.1-3 -6.3-4.1 -7.1-3.3 -5.8-3.5 -7.4-2.8 -5.7-3.5 -6.8-3.4 -6.9-3.8 -6-3.1 -7.1-3.9 -6.7-3.3 -6.2-3.8 -6.3-3 -6.4-4 -6.5-3.4 -6.8-3.3 -6.6-3.2 -6.7-4.1 -6.7-3.4 -6.7-3 -6.3-3.2 -6.2-4.7 -6.1-2.7 -6.6-3.6 -7.5-2.9 -6-3.5 -6.8-4.4 -6.7-2.7 -6.6-4.5 -6-3 -7-3.1 -5.9-3.2 -6.9-3.9 -6.2-4.1 -7-2.7 -6.3-3.6 -6.3-3.6 -7-3.9 -6-3.4 -7.1-2.7 -6.5-3.4 -6.8-3.7 -5.6-4.3 -7.2-2.4 -6.8-3.8 -5.4-3.5 -6.8-4 -6.7-3.5 -6.2-2.6 -7.5-3.5 -5.9-3.5 -6.1-4.3 -7.7-3.2 -5.6-3.5 -6.9-3.2 -6.8-3 -5.9-4.1 -6.9-3.6 -6.1-3.8 -7.3-3.1 -6.6-3.5 -5.7-3.4 -6.7-3.3 -6.8-4.1 -6.8-2.9 -6.3-3.1 -6.5-3.6M1739.7,269.1l-6.5-3.3 -6.3-2.9 -7.2-3.3 -6.1-3.5 -6.4-3.9 -6.3-3.3 -6.9-4.3 -6.9-3.4 -5.9-3.2 -6.9-3.9 -7.1-2.7 -6.5-3.4 -6.3-3.5 -6.1-3.5 -6.5-3.8 -7.1-3.9 -6.6-3.2 -5.9-3 -6.4-3.3 -7.2-3.9 -6.5-4 -6.6-3 -5.8-3.7 -7.2-3 -5.9-3.8 -6.6-2.8 -7.2-3.6 -6.5-3.3 -5.6-3.6 -7.3-3.4 -6-4.1 -7-3.9 -6.3-3.5 -6.5-2.3 -7.3-4 -6.4-3.2 -6.5-3.5 -6.1-3.2 -6.5-3.5 -6.7-3.9 -6.5-3.1 -6.9-4.1 -5.9-2.9 -6.5-4 -6.5-3.2 -6.7-3.9 -7.1-3.4 -5.9-3.6 -7.1-3.3 -6.5-3.6 -6.3-2.8 -6.2-4.5 -6.9-2.3 -6.9-4.3 -6-2.9 -6.3-3.9 -7.2-2.9 -6.4-3.5 -6.8-3.6 -6.6-4.2 -5.5-2.7 -7.5-4.2 -5.6-3.6 -6.6-3.5 -6.8-2.7 -7.1-3.2 -5.5-3.5 -7.4-3.7 -6.1-4.2M1733.2,272.9l-7-2.6 -5.4-3.9 -6.9-3.8 -6.9-2.7 -5.8-4.3 -7-2.9 -6.6-3.2 -6.7-4.1 -6.6-3.4 -6.3-3.7 -6.1-2.6 -6.6-4.1 -7.5-3.6 -5.5-3.2 -7.2-3.6 -6.8-3.1 -6.7-3.8 -5.8-3.9 -6.8-3 -6.3-3.2 -6.9-3.4 -6.4-4.1 -6.2-2.9 -6.7-4.3 -6.6-3 -6.5-4 -6.7-2.8 -6.5-3.1 -6.1-3.5 -7.3-3.6 -6.2-4.2 -5.9-3.6 -7-3.4 -7-3.5 -6-3.1 -6.6-3 -6.4-4.4 -6.3-3.1 -7.2-2.8 -5.7-4.2 -6.8-2.7 -6.6-3.7 -6.6-3.4 -6.9-4 -5.8-2.9 -6.8-4 -7.2-3.4 -6.6-3 -6.4-4.3 -5.8-3.5 -6.5-3.1 -6.9-3.7 -6.2-3.3 -6.5-3.3 -7.5-3.3 -6.6-3.8 -5.6-3.8 -7.3-3.6 -5.9-2.5 -7.2-3.9 -6.5-4 -6-2.8 -6.5-3.5 -6.6-3.1 -6.6-4.5 -6.1-3.1 -6.8-3.4 -6.5-4 -7.1-3.1M1727.2,277.3l-6.6-4 -7.2-3 -5.4-3 -6.7-4 -7-3.8 -6.8-2.4 -6.6-3.9 -6-3.2 -6.2-3.5 -6.9-4.1 -6.3-3.8 -7.5-3 -5.6-4 -7.4-2.6 -6.5-3.7 -6-4.1 -7-2.8 -6.1-3.4 -6.3-3.5 -6.9-4.2 -6.9-2.5 -6.1-4.2 -6.3-2.7 -6.5-4.5 -6.4-2.6 -7-4 -5.9-3.1 -7.6-3.2 -6.1-4.1 -5.8-3.1 -6.9-3.1 -6.5-4.2 -6.8-3.7 -6.8-3.7 -5.8-3.3 -7.2-2.8 -6.2-3.4 -6.9-3.4 -6.4-3.4 -6.3-3.8 -6.3-3.4 -7-4 -6.9-3.6 -6.5-3 -5.9-3.7 -6.7-2.8 -6.3-4.2 -6.4-3.5 -6.6-3.2 -6.4-3.6 -6.9-3 -6.3-4 -7.5-3.7 -6-3.6 -7-3.4 -5.9-2.9 -7-3.5 -6.3-3.7 -6.4-3.2 -7.1-3.3 -6.2-3.7 -6.3-3.4 -6.2-3.2 -7.2-3.8 -5.7-3.9 -6.9-3 -6.9-3.8M1713.8,278l-6-3.4 -6.7-4.1 -6.9-3.4 -5.7-2.8 -7.4-3.6 -6-4.2 -6.9-3.4 -5.8-3.5 -7.2-3.7 -6.3-2.6 -6.1-4.2 -7-3.5 -6.3-3.1 -7.2-3.3 -6.3-3.7 -5.8-3.5 -7.4-3.8 -6.3-3.3 -6.5-3.2 -6.4-3.5 -6.5-2.9 -6.1-4.4 -7.7-3.1 -5.8-3.8 -6.8-3.4 -6.2-3.5 -6.2-2.9 -7-3.3 -6.3-3.4 -6.7-3.8 -6.8-3.5 -7-3.8 -6.2-3.3 -6.8-2.9 -5.6-4.7 -6.7-3.1 -7.2-3.4 -6.4-3.2 -5.8-4.1 -7.3-2.4 -6.7-4.3 -6.4-3.7 -6.4-2.7 -6.4-3.5 -5.9-4.1 -6.9-2.5 -6.6-4.3 -6.4-3.3 -6.7-3.2 -6.3-3.2 -7-3.8 -5.8-3.8 -7.3-2.8 -6.5-4.3 -6-3.4 -6.5-3.5 -7.5-2.7 -6.3-3.8 -5.8-3.1 -6.8-4.5 -6.7-2.7 -6.6-3.5M1707.5,281.4l-6.1-3.2 -6.9-3.3 -6.1-3.5 -7-3.1 -6.2-4.1 -6-3.7 -7.2-3.1 -6.2-3.7 -7-3.6 -6.1-2.6 -7.1-4.4 -5.7-3.7 -6.8-2.5 -6.3-3.7 -6.9-4.1 -6.5-2.7 -6.7-3.4 -5.8-4 -6.6-3.6 -6.7-3.6 -7.1-3.5 -6.2-2.5 -7.2-3.6 -6.3-3.9 -6.1-3.2 -6.2-3.7 -7.1-3.4 -6.1-3.2 -7.2-3.6 -6.2-3.3 -7.1-4 -5.5-3.9 -6.7-2.6 -6.4-3.8 -6.7-3.3 -7.3-3.7 -5.9-3.9 -6.2-2.7 -6.6-3.9 -6.4-3.7 -7.3-3.5 -6.3-2.9 -6.2-3.4 -7.4-3.8 -5.8-3.4 -6.4-3 -6.7-4.6 -6.6-3.4 -6.6-3.5 -6.7-2.5 -6.9-4.4 -6.1-2.7 -6.5-3.5 -7.1-3.8 -5.4-3.4 -7.5-3.8 -6.6-3.7 -5.6-2.7M1694.8,282.3l-6.4-3.5 -6.8-3.5 -5.9-4.1 -7.2-3.6 -5.6-2.7 -7.3-3.6 -6.4-3 -6.2-3.7 -6.2-3.9 -7.3-3.6 -6.5-3.2 -6.7-3.8 -6.1-3.5 -6.6-2.6 -6.8-3.8 -5.8-4 -7.5-3.4 -5.8-3.8 -6.4-2.9 -7.3-3.9 -6.3-3.1 -6-3.5 -6.3-4 -7.1-3.4 -7-2.5 -6.6-4 -6.2-3.3 -6.9-3.9 -5.5-3.5 -7.5-3.6 -6.4-3.1 -6.7-2.9 -5.9-3.7 -7.2-4.2 -5.6-3.5 -7.3-3.1 -5.9-3.5 -6.9-3.4 -6.4-3.7 -6.3-3.5 -6.3-3.7 -6.7-3.4 -6.9-3.2 -6.9-2.7 -6.2-3.5 -6.8-4.2 -5.9-3 -6.4-3.9 -7.3-3.2 -6.1-3.6 -6.4-3.9 -6.3-3 -7.4-3.6 -6.4-3.7M1688.3,286.6l-5.6-4 -6.8-3.8 -6.4-3 -6.6-3.2 -6.9-3.5 -6.7-3.9 -6.5-3.3 -6.5-3.4 -6.7-4.2 -6.4-3 -6.8-3.8 -5.7-2.9 -6.5-3.3 -6.3-3.6 -7.5-4.1 -5.9-2.8 -7-4.3 -6.1-2.5 -7.1-3.4 -6.3-4.6 -6.7-3.3 -6.5-3.1 -5.9-3.3 -6.3-3.6 -7.4-3.8 -6.5-3.1 -6.7-4 -5.6-3.5 -7.3-3.3 -6.6-2.9 -6.2-4.1 -7.2-3.6 -5.9-2.6 -6.8-3.7 -6.2-3.2 -6.4-4.5 -6.9-2.6 -6.6-4.3 -6.7-3.2 -6.5-3.5 -6.5-3.2 -6.1-3.9 -6.3-2.6 -6.9-3.5 -6.8-4.4 -6.1-3.2 -7.3-3.3 -6-3.2 -6.7-3.2 -5.7-3.7 -7.5-4.2M1676,286.1l-6.6-2.6 -6.1-3.7 -7.2-4 -6.5-3.7 -6.5-3.4 -6.4-2.9 -6.2-3.7 -6.6-3.7 -6.7-3.7 -6.7-3.4 -5.8-2.8 -6.5-3.2 -6.7-4.4 -6.7-3.1 -7.1-3.8 -6.5-2.6 -5.8-3.5 -7.1-4.1 -6.9-3.4 -5.7-3.1 -6.8-4 -6.9-3.4 -5.9-3.1 -7.3-3.4 -6.3-4.2 -6-3.7 -7-2.7 -6.2-4.1 -7-3.5 -5.8-2.7M1446.9,165.5l-5.8-3.8 -7.1-3.9 -6.1-3.8 -6.2-3.5 -6.9-3.2 -6.3-2.8 -6.5-3.7 -6.5-3.3 -6.6-3.4 -6.9-3.5 -6.4-4.4M1663.1,286.9l-5.9-3.5 -7.4-3.9 -5.9-3.2 -6.5-3 -7.4-3.7 -6.3-4.1 -6.4-3.2 -6.4-3.7 -6.7-2.7 -6.7-3.2 -6.7-4.2 -6.4-3.3 -6.6-3.4 -5.7-3.5 -6.6-4.1 -6.7-3.4 -7.1-2.5 -6.4-4.2 -6.6-3.5 -5.6-3.6 -7.1-3.1 -6.6-3.8 -6.8-3.6M1650.6,287l-6.2-2.9 -7-3.2 -6.9-3.6 -6.3-4.1 -6.4-3.4 -6.1-3.1 -6.9-3.6 -6.7-3.4 -6.8-3.8 -6.3-2.7 -6.8-4.6 -5.7-2.4 -6.5-3.6 -6.6-4.1 -7.1-2.8 -6-4.5 -7-2.4 -7-3.5M1625.1,281l-7.5-3.8 -6.3-3.7 -6.1-3.4 -7-2.6 -6.5-4.4 -6.6-3.6 -6.4-3 -6.7-3.5 -5.9-3.6 -6.7-3.3 -7-3.6" stroke="#6e6e6e" stroke-width="1" fill="none" stroke-linejoin="round"/>
<path d="M1976,159l.9,6.9 1.4,6 -.8,7.3M1970.5,153.8l-.8,8.8 1.5,6.3 .1,8.4 .4,7.5M1963.8,159.2l-.1,7.7 2,7.6 -1,5.8 2,8.2M1956.6,156.5l.3,6.5 1.9,7.6 -.4,7.2 1.8,7.8 -1.2,6.4M1951.4,160.2l-.5,6.3 2.3,8.1 -.9,8.1 .7,6.3 1,8.5M1945.2,157.3l-.3,7.5 .2,7.5 .9,6.7 .8,7.8 -.6,5.9 1.1,8.8M1937.4,152.5l.8,8.9 -.1,6 2.1,8.4 -.6,6.8 1.7,6.6 -1.1,8.2M1931.5,157.4l1.1,6.7 .1,8.5 .1,7.3 1.6,7.2 -.7,7.2 .7,7.6M1925.5,154.8l-.5,6.9 .6,6.5 .1,7.3 1,7.3 1.6,8 -.1,7.5 1.3,7.4M1918.2,158.8l2,6.1 .1,8.2 -.7,8.3 .8,6.4 1.8,7.7 .6,8M1912.7,155.1l.2,7.3 -.3,8.3 1.4,7.4 1.2,7.4 -.5,7.4 .9,7.2 1.4,7.6M1905.8,152.4l.8,7.7 -.8,6.4 .5,7.2 2.1,8.4 -1,6.8 .6,6.5 .8,8.7 1.8,7M1899.2,156.1l1.3,7 -.7,7 .9,7.8 .8,7.5 1.2,6.9 -.5,7.7 1.9,7.7M1893.1,152l.4,7.4 -.2,9.1 1.8,7.3 .8,5.9 .4,7.4 .1,8 0,7.7 1,7.2M1885.7,156.1l1,9 1.2,5.5 -.1,7.7 .5,8.8 1.8,7.2 .5,5.8 -.8,9.2M1880.8,152.6l0,7.8 .5,7.8 .5,8.5 -.5,6.7 1.2,7.4 1.1,7.8 -.9,5.9 1.4,8.3M1874.3,149.5l-.5,8.7 .7,7.3 .5,6.1 .4,9 1.3,5.7 -.2,9.2 .1,5.9 .3,8.9 .6,6.9M1867.5,154.9l.8,7.4 -.1,6.9 .4,7.9 1.6,6.8 .3,6.7 .5,7.5 .3,8.4 .7,7.9M1860.1,151.7l1.2,6.1 .4,7.8 .4,8.6 .1,7.1 .8,6.5 .8,7.5 .1,7.7 .2,6.7 1.5,7.3M1853.4,147.3l2.1,8.8 -1.1,7.4 1.6,7 1,7.7 -1.4,5.9 .6,7.7 2.4,8.4 -.8,6.1 .5,7.5 1.4,8.4M1847.8,151.8l1.5,7.7 -.8,6.7 1.7,7.9 0,7.5 1.2,8.4 .4,5.8 -1.2,8.2 2.2,7.7 0,7 -.1,8.3M1840.8,148.6l1.9,7.1 -1,8.4 .1,6.7 1.9,8.1 -.5,7.5 .3,6.2 1.8,7.9 0,7.3 1,7.6 -.2,6.5 .4,8.7M1834.6,145.4l-.5,7.7 .6,7.7 2.1,7.8 .1,7.1 .1,7.1 1.1,7.6 .4,7.3 .3,7.6 -.5,7.2 2.4,6.5 -.4,8.7M1827.7,150.3l.6,7.8 1.1,6.4 .9,8.2 1.1,6.1 .3,7.3 .3,8.9 -.9,6.3 1.6,8 .6,6.2 -.6,7.8 .5,7.6M1822.7,146.2l-1.1,7.1 1,7.3 .4,7.9 .2,8.4 .3,7.6 .4,6.2 2,8.1 -.1,6.5 1.5,8.4 -.6,7.5 1,6.8 .5,6.9M1815,149.8l.7,7.9 .4,8.5 .9,5.7 .5,9.1 .9,6.8 .3,7.9 .6,6.4 1.1,7.6 -.7,7.9 2.1,7.2 -1,7 1,6.8M1809.9,146.8l-.1,8.8 -.7,6.3 1.4,7.5 .7,6.9 -.2,8.9 .3,7.3 2.2,6.1 -.7,7.2 1.1,8.2 .9,7.7 .1,7.2 -.3,6.5 .5,7.5M1801.8,144.1l1.6,6.8 -.1,8 1,8.4 .3,5.5 1.2,9 -.5,6.8 1.1,8 -.8,7 1.3,8 .3,6.2 .5,8.1 1.1,7.3 .6,7.4M1796.2,148.5l1.3,6.9 -.8,8.3 .5,6.7 .7,8.2 0,7.4 .5,5.8 .9,8.2 1.9,7.8 .5,7.1 0,7.7 .6,6.7 -.1,8.3 .2,6.4M1789.5,144.7l.4,7.5 .4,6.9 -.1,7.2 1.3,7.8 .7,7.3 .1,7.6 .2,8.4 1.4,7.7 .6,6.5 .2,6.9 1.5,8.7 -.1,7 .7,7.1 0,7.6M1782.2,142.2l1,7.6 1.6,5.9 -1,8.8 1.7,6.7 -.7,7.5 2,7.9 .3,6.3 .5,8.5 .2,7.7 .4,6 -.4,7.3 1.4,7.1 1.3,8 -1.4,7.3 1.8,8.5M1776.2,146.1l1.4,7.4 -.3,8.2 1.5,7.4 .1,6.4 .3,8.1 .7,6.8 .8,8.1 .8,5.8 .7,7.6 -.3,8.9 .7,7 .9,6.8 .2,8.2 -.2,6.4M1770.3,143.3l1.2,6.2 0,8.4 1,6.6 -1.1,7.2 .6,8 1.8,8 -.9,6.3 1.1,7.3 .9,8.8 -.5,6.4 .6,8.3 1.9,6.9 .8,6.1 -.4,9.2 -.3,7.3M1763.7,146.8l1,8.4 .5,6.6 .8,7 .5,6.6 -.5,8.9 1.2,7.3 1,6.8 -1.1,7.1 1.7,8 .4,7.3 .6,6.9 -.4,7.7 1.8,8.2 .6,6.5 .7,8.4M1757.1,151.2l.9,7.5 1.6,6.7 .4,7.9 .5,8.2 .3,7.2 0,6 -.3,7.7 2.3,7.9 .5,6.8 -.3,7.8 .2,7 .2,7.7 1.7,7.7 1,7.7 .4,6.2M1752.4,154.6l-1.1,7.7 1.7,7.4 1.2,8.1 -1.2,6.2 1.9,7.7 -.6,7.2 1.3,8.9 .4,6.9 .7,6.3 .7,7.7 .9,8.2 -.9,6.7 0,6.7 1.3,8.5 1.3,6.5M1746.1,152.9l.1,6.2 .4,8.1 -.3,7.2 .5,6.1 1.3,8 -.2,8.1 .3,6.5 1.8,7 -1.1,9.1 .4,7.5 1.3,6.9 .6,7 -.3,8.3 2,6.2 .1,7.6M1738.8,148.8l-.8,7.6 1.6,7 -.3,8.1 .8,6.2 1.2,7.5 .5,8.4 .3,7.6 1.2,7.2 .7,6.5 -1.1,8.4 1.3,6.6 .7,8.3 .9,6 -.7,8.7 .6,6.6 .7,8M1731.8,151.9l1.7,8.7 -.4,6.1 1,7.9 .2,8.5 .1,5.9 .9,8.6 .7,7.8 1.3,6.7 0,6.8 .1,7.6 .1,6.8 1.4,7.2 1.1,8.4 -1.1,7 1.4,8.1 -.3,6.3M1725,148.7l.5,7.8 .6,8.3 1.6,7 -.3,6.4 .7,7.3 1.4,8.9 -.3,6.8 1.1,6.7 .6,8.3 .4,6.5 -.7,9 1,5.7 1.7,7.9 -.8,7.2 -.1,6.9 1.8,7.9 1,8.6M1719,152.9l1.5,7.3 -.8,8.2 2.3,6.9 -.8,8.4 0,6.3 .6,8.8 1.3,7.3 1.3,7 .1,7.3 .5,6.8 -.5,7 2.2,8.6 .5,6.9 .2,7.4 .3,8.3 .5,6.5 1.1,8.1M1712.3,151.2l1.5,5.6 -.6,9 .4,7 1.7,6.4 -.4,8.9 .9,6.1 .2,7.9 1.3,7.2 -.2,8.2 .5,6.6 .9,7.1 .8,7.2 1.1,7.8 -.1,7.2 .3,7.5 -.1,8.6 1.8,6M1705.8,148.2l1.3,6.4 -.4,8.3 2,6.9 -.8,7.3 1.2,6.3 .7,8 .7,6.7 .8,8.1 -.2,8.1 .7,6.3 -.1,7.5 .9,8.2 .2,7.4 .2,7.6 1.9,7.1 .3,6.6 .5,8.4 .2,7.6M1699.3,150.6l1.1,8.7 .7,7.8 1.4,5.6 -.4,7.4 -.1,8.4 2,6.3 -.1,7.4 -.2,9.2 .8,5.5 1.2,7.6 .5,7.7 .6,7.3 -.2,7.6 .2,7.8 1.9,6.7 0,8 .3,6.7 .2,8.9M1693.5,147.9l1.1,7.7 .8,6.7 .3,7.7 .7,7.1 .2,8.6 -.2,6.8 .5,6.4 1.2,8.9 -.5,7.1 1.3,7.2 -.1,7.3 .3,7.2 .6,8 1.6,6.7 .2,6.9 1.1,8.1 .3,6.9 .4,7.9M1686.7,145.6l1,7.6 .7,5.6 -.7,9.1 .8,6.4 -.1,6.6 2,7.8 0,7.8 .1,7.5 .3,6.8 1.3,7.6 -.1,8.5 .4,7.1 1.4,6.7 -.5,7.6 .8,6.7 0,8 .6,7.9 1.4,6.7 1,7M1681.4,148l-.8,8.8 1.7,6.6 .4,7.3 .5,8 1,8 -.8,6.1 1.7,7.8 .1,7.2 .6,8.2 -.3,7.2 1.7,6.8 .4,7.6 -1.1,6.9 .4,7.3 2.4,7.2 -1.2,7.3 1.8,9 .3,6.3 .6,7.9M1673.6,146.4l1.3,6.4 -.3,7.4 1.5,7.6 -.7,6.9 1.8,7.3 .8,8.1 .2,7.1 -.2,8.4 .7,6.6 -.3,6.5 2.3,9.1 -1.1,6.8 .2,7.9 .7,7.5 .2,5.9 1.3,9 1.3,7.1 .7,6.5 -1.2,7.6M1665.9,135l2.2,7 -.8,8.4 1.3,7.5 .9,7.1 -1,6.7 .6,8.5 .9,6.8 1.1,6.9 -.1,8.6 1.7,7.3 -1.1,6.5 .8,8.4 1.6,7.2 .9,7 .6,6.8 .2,7.4 -.5,7.4 .2,8 1.7,7.8 .2,6.2 -.4,7.2M1659.8,132.1l.3,7.5 .8,6.9 1.3,7 .2,7.5 .1,7.4 1.1,6.9 -.4,8.6 1.3,7.6 1.3,7 -.8,8.1 1.7,7.1 0,6.6 -.3,8.3 0,6.1 2.2,7.3 -.1,8.2 1.4,8.1 -.8,7.3 1.5,6.2 .8,8.1 .4,6.6M1653,120.8l1.1,8.7 -.8,5.8 1.1,7.2 .6,9.3 .9,5.4 -.1,8.9 .8,6 1.2,8.2 .2,6.7 -.8,8 .7,7.2 1.3,6.7 1.3,7.6 -.7,7.8 1.4,7.9 -.3,7.7 .5,7.7 .3,5.8 .4,9.1 2,6.7 -.2,7.9 -.4,7.1 2.3,6.2M1646.9,126l1.2,7.7 0,7 .6,6.3 .2,7.7 0,7.7 1.3,7.9 .1,7.4 0,5.9 1,9.1 -.1,6.6 1.2,8.3 .6,5.5 .6,7.7 1.1,8.2 -.2,6.3 .6,8.6 -.4,7.7 1.8,7.6 0,6.4 -.2,7 .5,8.5 1.4,6.5M1640.1,122.3l1.2,6.4 .7,7.5 -1,8.9 1.3,6.3 .1,7.9 -.1,6.4 2.2,7.2 .2,8.8 .1,7.2 .5,7.1 .8,8 .2,7.3 1.5,7.6 .6,6.2 -.6,6.9 1.3,8.2 .4,6.8 -.1,8.9 .5,6.4 .6,7.4 -.5,6.7 1.1,8.4 1.8,7.9M1633.3,118.3l.2,8.9 1.8,7.1 .8,7.3 -.1,6.3 -.8,8.4 1.4,6.4 .1,7.5 .1,6.9 2,7.8 -.5,8.6 .2,7.3 1.4,6.6 .4,8.1 .2,6.3 .3,7.8 .5,8.2 .9,5.8 1.5,8.1 .6,7 .2,8.3 -.9,6.4 .9,7.5 .7,8.2M1628,124l-.5,5.6 1.3,9 -.5,6.3 1,7.8 .7,7.7 .4,7.6 1.6,7.2 -1.3,7 1,7.3 0,7.5 1.8,6.4 -.7,7.7 2,8.9 .3,6 -.3,8.1 .2,6.7 1.2,7.7 .6,7.2 1.3,6.7 .1,9.2 -.9,6.3 2.3,7.2M1620.5,120l1,8.2 .4,7 -.6,6.5 .6,7 2.1,8.5 .8,7.6 -1.3,7.2 .6,7.5 .9,7.2 .1,7.8 2,6.2 .6,7.4 0,8.5 1.1,7.5 -.5,6.4 .3,7.2 1.8,7.1 -.4,8.7 0,6.3 1.4,6.9 -.5,8.2 1.3,7.5 -.4,7.5M1613.4,115.9l1,7.6 1.1,7.5 -.1,7.5 1.1,7.3 -.5,7.5 .8,8.6 1.2,6.9 -.1,7.3 1.4,7.9 -.1,5.4 1,8.8 .8,7.9 -.9,6.8 1.5,8 1,6.8 .5,7 -.2,8 -.5,6 .8,8.2 1.1,8.2 .3,6.4 1.5,7.5 -.7,6.4M1607.3,119.9l.5,7.8 1.2,7.3 .4,8.3 .2,7.8 1.2,6.5 .4,7.2 1.4,8.2 -.9,6.4 .3,7 .4,7.9 .7,7.2 1.5,8.5 -.4,6.9 .9,8.1 -.1,7.3 1.9,7.4 -.4,6.5 1.6,7.6 -1.1,7.4 1.9,7.2 -.9,7 2.2,7.5M1601.3,117.1l.9,7.5 -.3,8.2 1,7.7 .3,6.7 1.1,8 .2,7.3 -.1,7.2 .8,6.4 1.4,7.7 -1,7.3 2.1,7.2 -.1,8.1 1.2,7.2 -.1,7.3 .4,7.5 -.5,7.4 2.3,6.4 .5,7.8 -.8,6.9 2.1,8.8 0,6.2 -1,7.8M1594.8,113.9l-.5,8.1 2.2,7.8 .5,7 .5,6.1 -.6,9.1 .7,6.6 1.5,7.5 -1.1,7.2 .8,6.5 .9,7.4 1.5,7.6 -.2,7.2 1.2,9.1 .1,6.4 .7,7.2 -1,7.5 .7,6.9 1.4,8.6 .3,7.2 1.6,7.9 -1.1,7 .2,7.2M1588.5,111l.6,8 -.6,5.8 0,7.7 2,8.7 0,7.7 1.1,6.5 -.1,8.1 1,6.1 .5,7.4 .1,8.7 .1,6.8 .8,6.2 1.6,8.8 -.3,7.7 -.5,5.6 .8,8.2 2.2,8.4 -.5,6 .1,7.5 1,7.5 -.1,7.5 1.3,7.6M1581.9,115.9l1.2,7.3 0,7.5 .2,7.4 .9,6.2 .1,7 -.2,7.3 1.7,7.7 .3,7.7 1.3,8.4 -.4,6.3 -.2,7.7 1,7.4 1.1,7.6 .8,6.9 -1,6.9 2.2,8.4 0,7.7 -.3,6.6 .7,7.1 .6,8.4 1.5,6 -.3,8.7M1574.4,111.4l2.2,8.5 -.2,5.8 1.3,7.8 -1.1,7.3 .9,8 1.6,7.3 -1.1,8.5 .4,6.3 1.7,7.8 -.7,6.3 1.6,7.2 0,8 1.8,7.4 .6,7.4 -1.3,7.9 .5,7.5 1.3,7.1 1.6,7.4 -.4,6.9 -.3,7.9 1.6,7.6M1567.9,109.2l1.8,6.7 -.3,6.6 .4,8.1 1.3,7.2 -.7,8.1 .7,7 1,6.5 1.6,9 -.3,7.2 0,6.1 1.2,9.1 .1,5.7 -.4,7.3 1.6,8.5 .6,6.2 1,7.2 .3,8.4 -.3,7.4 0,6.6 1.3,8.5 -.3,6.2M1562.8,112.2l.4,7.6 -.6,7.1 2,7.7 -.1,7 .6,7.2 .5,7.6 .9,7.3 1.1,9 -1.1,6.6 1.9,7.8 -.4,6.5 -.2,8.3 2.1,6.9 -.4,6.4 1.2,9 -.5,7.1 1.6,6 .5,8.3 -.4,6.7 .6,7.5M1556.1,109l-.5,7.1 1.5,8.2 .4,7.6 .6,6.8 .7,7.6 .2,7.3 -.1,8.4 1.1,7.3 1.4,7.5 -.7,7.3 0,5.8 1.1,7.9 .4,6.9 1.1,8.5 -.4,6.8 2.2,8.4 -.6,6.2 .9,7.4 -.5,8 1.5,7.8M1549.3,105.4l-.5,7.5 1.4,7.3 .7,8.7 .8,5.9 .5,8.2 .7,8.2 -.4,7.7 .9,5.9 1.1,8.1 .6,8 -.3,7 1.4,7.6 -.5,6.1 1.1,7.5 -.5,7.6 1.8,7.7 .5,7.6 .2,6.2 .2,8.1 1.1,7.1M1542.2,102.2l.1,8.5 1.3,7.7 .9,7 .7,6.6 .3,8.1 -.4,6.7 1.8,8.7 .1,7.6 -.2,6.3 .2,8.3 1,7.3 1.7,6.8 .4,7.2 .1,8.2 .9,6.8 .3,7.8 .2,5.9 0,8.6 .9,6.6M1536.8,99.5l.6,8.4 .2,7.4 -.6,5.8 .9,8.4 .7,6.8 -.5,7.7 .6,7.6 1.6,7.4 .1,6.5 1.6,8.4 -.8,6.9 -.1,7.2 1,7.9 .3,6.7 1.9,7.6 .4,7.6 -.9,7.5 1.9,7.1 .3,8.1M1529.7,103.8l1.2,6.9 .8,7.8 -.5,7.3 .5,7.2 .7,8.6 0,6.4 1.7,8.3 -1,7.4 1.9,7.5 .3,7.3 .5,6.3 -.1,8.3 1.1,6.1 -.5,8.3 .8,7.4 .1,6.8 1.1,8M1522.4,100.5l.8,7.1 .1,7.6 1,6.7 .3,8 1.2,7.8 .5,8.3 .1,6.7 .6,6.7 -.2,8.7 1.2,6.3 1.6,7.8 -.5,6.7 .9,8.5 .2,7.3 -.2,7.5 1.5,6.3 -.3,6.8M1516.7,98.4l.1,5.6 .6,7.6 -.3,8.9 1,6.9 .6,6.8 1,7.6 .4,7 -.1,6.8 1.4,8.5 -.3,7.7 .9,6.8 1.5,6.6 .1,8.8 .3,7.3 -.4,7.5 1.8,5.9 .7,8.1M1509,94l1.4,8.6 1,5.5 -.5,7.4 1.1,8.7 -.6,7.2 1.4,6.7 1.1,7.9 -.6,6.7 .2,8 1.7,7 -.3,8.2 .1,7.2 1.6,7.5 -.5,6.7 1,7.7 .8,6.3M1503.4,98l.8,6.9 1.2,8.3 .4,6.5 -.3,8.9 .6,7.4 .7,6.8 .4,6.9 -.4,7.1 2,7.9 -.8,8.3 .5,6 1.3,8.8 1.5,6.1 -.5,8.1 .3,7.9M1496.9,95.4l.9,7.4 -.7,8.1 1.1,7.1 1.1,5.8 -.6,7.8 1.1,8.1 -.2,7.4 2,7.1 .6,8.3 -.1,6.7 .1,8.1 .5,7.4 1.7,6.6 0,6.5 .9,7.7M1490.2,91.6l.4,7.4 1.1,8.3 -.2,6.4 1.2,6.8 .2,7.7 1.1,7.7 -.4,7.1 1.7,8 .6,8.1 .2,6.2 .7,7.9 .6,6.4 .5,8.2 -.6,7.6M1483,88.1l1.5,8.1 .6,7 -.6,7.6 1.2,7.7 1.4,6.2 -.5,7.7 .1,7.7 .1,7.1 1.1,7 .2,8.3 .6,6.5 1.1,8.7 .3,7.4 1.2,7M1476.5,86.3l1.5,6.6 .3,7 .9,8.5 -.8,7.2 .3,6.2 1.2,8.6 .8,7.5 .7,5.8 -.6,7.9 1.1,7.7 1,6.5 1.2,8.8 -.1,5.9 .2,7.8M1470.4,81.2l.4,8.7 .8,7.9 .9,7.2 -1.1,6.5 1.3,7.4 .1,8.3 2.2,7.4 -1.4,6.4 1.9,7.3 -.7,7.2 1.5,8 .7,6.6 .1,7.5 .4,7M1463.7,85.9l.7,7.6 .3,8 .8,7.6 1.1,6.7 1.1,8.2 .4,5.7 -1,8.1 1,8.4 1.4,7.3 .2,6.7 -.5,7.4 1.2,6.6 1.2,7.2M1457.9,83.2l-.5,7.2 .4,7.7 2.2,7.7 -1.2,7.6 .7,6 .9,8.3 0,6.4 1.4,7.7 1,6.7 .4,9.2 .7,7.4 0,7M1451.3,80.2l.9,6.2 -.7,7.7 2,8.7 .2,7.1 -.1,7.5 -.3,6.2 1.4,8.4 0,6.6 0,7.5 1.3,8.4 1.4,7.1 -.1,6.6M1444.3,76.7l.7,7.6 .2,6.8 1,7.7 -.4,7.1 1.1,7.4 .9,6.7 -.7,8.7 1.6,7 -.3,7.5 2,8.1 -.4,5.6 .3,7.3 1.6,8M1437.5,80.2l1.3,8 -.4,6.9 .3,7.8 1.9,7.8 -.5,7.5 1.5,7.3 .7,6.7 .8,7.9 .3,7.5 -.3,6 .5,7.7 -.1,8.8M1432.4,76.9l-.5,7 1.6,8.1 -1,6.9 .6,7.2 .9,8 1,8 .7,7.4 -.1,7 .5,7.2 .5,8.2 1.2,5.9 -.3,8.1M1423.9,74.4l.7,7.7 1.9,7.4 -1.1,6.1 1.9,9 -.7,6.7 1.5,6.8 -.4,7.9 1,6.4 1,8.3 .4,6.7 1.2,8.1 -.2,7.7M1417.3,71.4l2.3,6.2 -1,8.9 1.5,6.5 .1,6.6 .8,7.6 -.7,7.3 1.1,8.6 .4,7 1.3,7.2 -.6,8 1.4,6 .1,8.6M1412.5,66.9l.3,9.1 -.4,6.5 -.1,6.9 .5,7.4 1.2,8.3 1.5,7.1 .6,7.5 -1.4,6.2 2.5,8.2 -.4,6.9 .7,7.4 .4,7.8M1405.8,64l-.3,8 1.1,7 -1,8.4 .7,5.9 1.9,8.9 -.6,7.2 .7,6.7 1,7.1 -.5,8.1 1.9,6.5 -.5,7.9 1.7,6.7 .1,7.1M1397.4,60.6l1.9,8.6 .9,7.5 -1.4,6.6 .8,7.1 .9,7.9 .3,8.1 .7,6 .6,7.7 1.3,8.1 .7,6.3 -1.2,7.3 2.3,8.6M1392.5,65.3l1.1,8.1 -.7,6.3 1.7,7 .3,8.7 0,6.2 .3,7.9 -.1,6.7 .8,7.3 1.4,8.5 -.9,6.8 1.9,8.2M1384.7,62.6l.7,7.3 .2,6.5 1.7,8.3 .8,7.5 -.4,7.5 .1,6 1.4,8.5 .5,7.6 1.4,7.5 -.9,5.8 .9,8.2M1378.8,58.5l.3,7 .7,8.4 -.1,7.7 1.3,7.1 .7,6.8 1.1,8.5 -.2,5.8 0,7.5 .6,9 .7,6.5 .6,7M1371.9,56l1.3,6.9 .6,7.7 .6,7.7 -.1,7.3 -.3,7.2 1.1,6.9 -.1,7.9 .4,8.1 1.2,7.2 1.5,6.7M1364.9,52.9l1.2,6 1,8.2 -.5,6.5 .3,8.5 .8,6.5 1.5,7.9 .4,7.3 .5,7 1.1,8.6 .2,6.2M1358.8,48.2l.3,7.4 1.1,9.2 .2,6.1 -.2,8.1 1.8,6.1 .5,8.1 .3,8.1 .5,6.5 -.8,7.5M1353.4,52.7l0,8.3 0,7.2 .5,6.6 .4,7.3 1.7,8.8 .5,6.8 0,7.7 .6,6.3M1346.8,50.1l-1,7 .4,8 1.2,7 0,6.7 .9,9 1.5,5.6 -1.1,8.4M1339,46.1l1.4,8.7 .7,6.1 -.7,7.4 .6,8 .8,6.4 .7,7.6 -.2,7.4M1332.4,43.1l.7,8.7 1.3,7.3 -.3,6.8 1.2,6.7 1,7.4 -1.3,8.3M1326.7,40.4l.2,8.1 -.6,6.6 1,7.7 0,6.2 2.3,8.1 -1.4,7.5M1318.7,37.9l.4,7 1.3,6.8 0,6.7 1.3,7.6 1.2,8M1313.7,34.2l-.8,6.9 .8,8.5 .6,5.9 .9,7.3 .6,8.2M1305.9,30l-.1,8.3 1.9,7.9 -.3,5.7 1.7,7.8 -.1,8.1M1300.2,27.9l-.6,7.8 1.7,6 -.4,8.7 .6,6.9M1291.9,23.8l2.4,7.9 -1.3,7.5 1.6,6.3 1.2,7.2M1287.5,27.4l.7,7.3 -.6,7.5M1300.2,27.9l-5.9,3.8 -6.1,3 -7.2,4.5M1305.9,30l-6.3,5.7 -6.6,3.5 -5.4,3M1313.7,34.2l-7.9,4.1 -4.5,3.4 -6.7,3.8 -7,5.1M1318.7,37.9l-5.8,3.2 -5.2,5.1 -6.8,4.2 -5.1,2.3M1326.7,40.4l-7.6,4.5 -5.4,4.7 -6.3,2.3 -5.9,5.4M1332.4,43.1l-5.5,5.4 -6.5,3.2 -6.1,3.8 -5.2,4.2 -7.7,4.1M1339,46.1l-5.9,5.7 -6.8,3.3 -5.9,3.3 -5.2,4.4 -6.2,5M1346.8,50.1l-6.4,4.7 -6,4.3 -7.1,3.7 -5.6,3.2 -5.9,5M1353.4,52.7l-7.6,4.4 -4.7,3.8 -7,5 -6.8,3.1 -4.4,5M1364.9,52.9l-5.8,2.7 -5.7,5.4 -7.2,4.1 -5.8,3.2 -5.1,4.3 -5.7,4.5 -6.7,4.7M1371.9,56l-5.8,2.9 -5.9,5.9 -6.8,3.4 -6,3.9 -6.4,4.2 -4.7,3.7 -8.1,4.6M1378.8,58.5l-5.6,4.4 -6.1,4.2 -6.7,3.8 -6.5,3.9 -6.5,4 -5.6,3.9 -6.8,5.6M1384.7,62.6l-5.6,2.9 -5.3,5.1 -7.2,3 -6.4,5.4 -5.9,3.1 -6,5.7 -5.8,2.5 -7,4.4M1392.5,65.3l-7.1,4.6 -5.6,4 -5.4,4.4 -7.5,3.8 -4.9,3 -6,5.8 -6.2,2.5 -7.5,4.3M1405.8,64l-6.5,5.2 -5.7,4.2 -8,3 -5.9,5.2 -5.4,4 -6.6,3 -5.2,4.6 -6,4.5 -7.8,4.1M1412.5,66.9l-7,5.1 -5.3,4.7 -7.3,3 -5.6,5 -6.3,4 -7,4.1 -4.8,3.7 -6.4,4.8 -6.3,4.1 -6,3.1M1417.3,71.4l-4.5,4.6 -6.2,3 -7.8,4.3 -4.2,3.4 -6.5,5.5 -6.4,3.3 -6.6,4.2 -5.5,4.1 -6.3,4 -6.2,3.9M1423.9,74.4l-4.3,3.2 -7.2,4.9 -6.8,4.9 -6,3 -4.7,5 -7.2,4.3 -4.9,4.3 -7.8,3.6 -4.9,3.2 -7.6,4.5M1432.4,76.9l-7.8,5.2 -6,4.4 -6.3,2.9 -6,3.9 -5.8,5 -5.6,3.3 -7.1,4.1 -5.2,4.1 -7.2,5.9 -4.2,3.7 -7.1,4M1437.5,80.2l-5.6,3.7 -5.4,5.6 -6.4,3.5 -7.3,3.8 -4.6,5.4 -7.4,4.2 -5.6,3.1 -6,4.7 -6.6,3.1 -6,5.6 -5.2,2.7M1451.3,80.2l-6.3,4.1 -6.2,3.9 -5.3,3.8 -8.1,3.6 -5.2,4 -6.2,5.5 -6.4,4.3 -6.1,3 -6.4,3.8 -5.4,5.6 -6.5,4.5 -5.1,3.3M1457.9,83.2l-5.7,3.2 -7,4.7 -6.8,4 -5.9,3.8 -5.2,5.7 -6.3,2.6 -5.5,5 -7.2,3.9 -6.2,4 -6.2,3.4 -4.8,5.8 -7.2,3.5 -5.5,3.7M1463.7,85.9l-6.3,4.5 -5.9,3.7 -5.3,4.7 -7.5,4.1 -5.6,3.2 -6.5,5.2 -6.3,3.2 -4.2,5.2 -6.8,3.5 -5.9,5 -6.1,3.8 -7.1,3.1 -5.7,4.7M1476.5,86.3l-5.7,3.6 -6.4,3.6 -6.6,4.6 -4.3,4.7 -7.7,3.1 -5.2,4.8 -6.6,3.4 -5.9,4 -6.7,5 -6.7,2.8 -5.9,5.4 -4.7,3.2 -7.7,4.3 -5.3,4.5M1483,88.1l-5,4.8 -6.4,4.9 -6.9,3.7 -4.7,4.3 -6.3,4.1 -6.8,3.4 -6.8,4.9 -5.1,3.9 -7.3,3.9 -5.9,4.1 -4.6,4 -6.5,3.7 -7.8,4 -4.6,5.2M1490.2,91.6l-5.7,4.6 -6.2,3.7 -5.8,5.1 -7,4.1 -6.7,4.3 -5.2,4 -5.8,2.6 -6.2,5.5 -5.9,4 -7,2.9 -5.6,4.9 -6.3,3.7 -6.6,4.7 -5,4.7M1496.9,95.4l-6.3,3.6 -5.5,4.2 -5.9,5.2 -7.8,3.1 -4.8,4.3 -7.1,3.6 -6.2,4.2 -6.2,5.1 -4.8,3.5 -6.7,4.3 -5.9,4.2 -7.2,4.6 -5,3.1 -5.6,4 -6.2,3.9M1503.4,98l-5.6,4.8 -6.1,4.5 -7.2,3.5 -6.1,4.8 -5.7,3.3 -5,5.1 -7.3,3.7 -5.7,4.3 -6,3.7 -5.6,4.4 -7,3.6 -6,3.7 -6.2,3.9 -6,4.9M1516.7,98.4l-6.3,4.2 -6.2,2.3 -7.1,6 -5.6,2.8 -5.8,4.8 -7,3.3 -5.9,5.4 -4.7,2.5 -7.7,4.4 -5.7,4.5 -6.3,4.6 -5,4.4 -6.8,4.3 -5.3,3.6 -7.3,4.4M1522.4,100.5l-5.6,3.5 -5.4,4.1 -6,5.1 -7.2,4.8 -5.5,2.5 -5.6,4.2 -7.2,5.7 -4.9,4.2 -7.9,3.2 -5.3,4 -7.1,4.3 -4.3,5.2 -7.3,2.3 -5.3,4.2 -6.7,5.4M1529.7,103.8l-6.5,3.8 -5.8,4 -6.5,3.9 -5.1,4.2 -6.5,4.1 -6.4,4.4 -6.3,4.2 -5.9,5.5 -7.1,3.1 -5.5,5.2 -5.3,2.3 -6.8,6 -6,2.4 -6.4,4.4 -6.1,4.6M1542.2,102.2l-4.8,5.7 -6.5,2.8 -7.6,4.5 -6.2,5.3 -5.1,3.7 -6.5,4.4 -6.8,3 -4.7,4.3 -7.3,4.2 -5.3,3.6 -5.9,4.6 -6,5.2 -6.3,4.2 -5.8,3.9 -7.1,2.6 -6.8,5.9M1549.3,105.4l-7,5.3 -4.7,4.6 -5.9,3.2 -7.4,3.4 -6.2,5.5 -6.7,4 -5.3,4.6 -6.3,3.7 -6.2,3.3 -6.8,4.2 -6,4.4 -6,3.9 -5.1,4.7 -5.8,4.9 -6.6,3.1M1556.1,109l-7.3,3.9 -5.2,5.5 -6.6,2.7 -5.8,4.7 -6.6,4.1 -5.9,4.3 -5.9,3.9 -6,4.7 -7.2,4.3 -4.3,3.9 -7.4,3.2 -6,5.1 -5.6,4.2 -7.1,4.1 -5.3,4.5M1562.8,112.2l-7.2,3.9 -5.4,4.1 -5.7,5.2 -6.6,4.1 -6.2,3.5 -5.9,4.7 -6.1,4.1 -5.8,4.2 -6.7,3.7 -5.6,4.5 -5.7,4.9 -7.8,3.4 -5.2,3.3 -5.9,4.3 -6.6,4.1 -5.1,5.1M1574.4,111.4l-4.7,4.5 -6.5,3.9 -6.1,4.5 -6.2,4.6 -5.7,3.1 -6.6,4.3 -6.2,5.3 -6.1,4.4 -6.2,2.8 -6.8,3.9 -6.5,4.1 -4.6,5.7 -6.1,2.8 -7.4,3.7 -4.6,5.6 -7,3 -5.5,3.8M1581.9,115.9l-5.3,4 -7.2,2.6 -6.8,4.4 -5.1,5 -5.8,2.9 -6.2,5.3 -7.4,3.9 -5.7,4 -6,4.7 -6.4,2.9 -6.5,5.1 -4.7,4 -6.7,4.5 -5.3,4 -7,4.5 -5.8,2.8 -6.5,4.1M1594.8,113.9l-5.7,5.1 -6,4.2 -6.7,2.5 -6.6,4.9 -5.2,4 -6.5,4.1 -5.9,4.3 -7.1,3.8 -6.4,4.8 -4.6,4.7 -7.1,3.1 -5.6,4.7 -6.2,3.6 -7.2,5.3 -5.8,4.3 -4.8,2.3 -7.3,5.5 -5.9,3.2M1601.3,117.1l-7,4.9 -5.8,2.8 -5.4,5.9 -5.4,2.8 -6.6,4.3 -6.6,3.8 -5.7,4.7 -5.9,4.9 -6,4.3 -6.6,3.5 -7.2,4.7 -6.3,4.4 -5.7,3.7 -6.2,4.1 -6.4,3.1 -5.8,5.7 -4.8,3.1 -6.6,4.3M1607.3,119.9l-5.1,4.7 -5.7,5.2 -8,2.7 -5.2,5.6 -6.7,2.7 -6.2,5.1 -5.3,2.9 -6.1,4.8 -6.5,5.3 -5.5,4.2 -6.6,2.4 -5.4,5.7 -7,3.2 -6,4.2 -7,4.5 -5.2,4.7 -5.4,3.5 -7.1,4.1M1620.5,120l-6.1,3.5 -6.6,4.2 -5.9,5.1 -4.9,4 -6.5,4.4 -6.3,3.1 -6.7,4.5 -6.4,4.1 -5.5,3.5 -6.7,5.6 -5.5,2.8 -6.6,4.6 -4.8,4.5 -6.7,4.6 -5.7,3.7 -6.1,3 -6.9,5.4 -5.3,3.3 -6.9,3.9 -6.4,5.1M1628,124l-6.5,4.2 -6,2.8 -6.5,4 -6.1,5.5 -5.4,2.4 -7,6 -6.2,2.4 -5.2,4.8 -7,3.3 -5.6,4.3 -6.5,5.6 -5.5,3.6 -7.5,4.8 -5.8,3.1 -5.4,4 -6.7,4.1 -5.5,5.1 -7.5,3.3 -5.3,4.7 -5.5,3.5M1640.1,122.3l-6.6,4.9 -6,2.4 -5.6,5.6 -6.5,3.3 -6,4.8 -6.2,3.9 -6.3,4.8 -5.3,3.4 -7.5,3.2 -6.1,6 -4.3,3.8 -6.1,4.3 -6.2,4.1 -6.3,4.1 -7.1,4.1 -6.9,3 -5.4,5.1 -5.7,4.3 -6.1,3.9 -6.8,3.7 -6,4.9M1646.9,126l-5.6,2.7 -6,5.6 -6.5,4.3 -7.5,3.1 -4.8,4.1 -6.9,5.3 -5.3,4.1 -6.7,3.4 -6.1,4.9 -5.7,2.8 -7.4,4.6 -5,4.7 -6.9,3.7 -5.8,4.8 -5.9,3.8 -5.1,3.9 -7.6,4.1 -5.3,3.3 -6.6,5.5 -6.7,4.1 -5.6,2.5M1658.9,125.5l-4.8,4 -6,4.2 -6.1,2.5 -5.9,5.4 -7.8,3.3 -6.4,3.8 -5.9,4.6 -5.2,4.3 -6.3,4.9 -5.4,3.6 -6.6,3.5 -6.4,4.4 -6,4.7 -6.7,3 -5,5.4 -7.7,2.8 -4.5,5.6 -6.1,3.5 -7.7,3.6 -6.1,4.9 -6.3,4.7 -4.7,2.5 -7.5,5.1M1659.8,132.1l-6.5,3.2 -5.2,5.4 -7.1,4.4 -5,2.8 -6.7,4.8 -5.3,4.5 -7.2,4.7 -5.6,2.9 -6.8,4.9 -6.4,3.6 -5,3.7 -5.6,5.4 -8,2.6 -4.8,5.8 -6.6,2.8 -6.2,4.2 -6.1,3.8 -5.5,5.6 -5.9,3 -7.2,4.7 -5.6,3.6 -5.5,4.3M1665.9,135l-5.8,4.6 -5.7,2.9 -5.7,4.5 -6.4,4.4 -7.1,4.9 -5.2,4.1 -5.2,4.4 -6.8,4 -5.4,4.2 -7.4,3.1 -6.4,3.7 -5.7,5.9 -6.1,3 -6,3.5 -6.3,4.3 -6.9,5.4 -5.6,2.8 -5.4,4.4 -5.7,4.9 -6.4,3.8 -7.5,3.9 -6,3.6M1672.6,138.2l-4.5,3.8 -7.2,4.5 -5.9,5.3 -6.1,2.9 -6.5,4.6 -5.8,3.4 -6.2,5.3 -6.9,4 -5.6,4.1 -6.2,3.3 -5.1,4.4 -6.9,3.4 -6.5,5.3 -6.4,3.9 -5.8,3.8 -6.7,3.6 -4.4,5 -6.6,4.4 -7,3.5 -4.9,5.1 -7.6,3.5 -5.5,4.4M1673.6,146.4l-6.3,4 -5.1,3.1 -6.3,3.7 -7,5.2 -6.6,3.3 -5.6,4.5 -4.7,5 -7.9,4.3 -4.8,4.5 -7.3,2.4 -6.4,4.7 -4.4,3.7 -7.2,3.9 -6.2,5.1 -5,3.8 -6.9,4.7 -6.4,2.9 -6.6,4.8 -4.8,4.4 -6.5,3.3 -5.9,4.7 -6.9,4M1681.4,148l-6.5,4.8 -6.3,5.1 -6.2,3.1 -6.6,5.1 -5.6,4.2 -5.7,2.6 -7.7,4.2 -6.1,5.1 -5.7,4.5 -5.8,2.7 -6.8,4.9 -4.7,4 -6.7,3.7 -5.4,5.5 -6.7,3.9 -5.5,3.6 -6.9,3.5 -5.8,5.7 -5.6,4.2 -6.5,3.6 -7,4.3 -5.6,4.2M1693.5,147.9l-5.8,5.3 -7.1,3.6 -6,3.4 -5.1,4.8 -7,3.4 -5.9,3.7 -6.3,5.6 -5.6,4 -5.9,3.2 -7.1,4.6 -6.6,5 -4.9,3.7 -7.1,3.3 -5.5,4.9 -5.4,4.7 -6.9,4.1 -5.6,3.1 -7.6,4.6 -4.6,2.8 -7.3,5.6 -5.7,3.3 -5.7,3.6 -6.3,4.7M1699.3,150.6l-4.7,5 -6.2,3.2 -6.1,4.6 -6.2,4.4 -7.6,3.9 -4.9,3.6 -5.8,5 -7.5,3.3 -5.5,5.3 -6.5,4.6 -6.6,3.5 -4.6,3.7 -6.1,5.4 -6.4,3.9 -5.8,3.6 -6.5,3.9 -7.5,3.3 -6.1,4.4 -6.1,5.2 -4.8,3.7 -6,3.2 -6.4,4.7 -6.4,4.3 -5.6,3.4M1712.3,151.2l-5.2,3.4 -6.7,4.7 -5,3 -7.7,5.6 -5,2.8 -7.3,4 -6.3,5.5 -5.9,3.7 -5.2,3.1 -6.7,5.7 -6,3.3 -6.8,4.8 -5,2.6 -5.8,4.7 -7.6,4.8 -5.9,4 -5.5,4 -5.7,3.8 -7.4,4.3 -4.7,4.6 -7,3.9 -6.4,4 -5.2,4.1 -7.4,4.4 -4.8,3.4M1719,152.9l-5.2,3.9 -7.1,6.1 -5.6,4.2 -5.4,2.9 -7.2,4.3 -5.3,4.4 -6,3.3 -7.2,5 -5.5,4.5 -7.3,3.5 -6,4.3 -5.1,4.7 -6.2,3.4 -7.1,3.7 -5.1,5.5 -6.1,4.3 -6.5,4.1 -6,3.4 -7.1,3.8 -4.2,5.2 -6.9,3.9 -5.4,3.6 -8,3.2 -5.6,4.2 -5.5,5.5M1731.8,151.9l-6.3,4.6 -5,3.7 -7.3,5.6 -4.5,4 -6.2,2.9 -6.1,4.4 -8,3.8 -4.2,5.8 -6.2,3.4 -6.9,3.8 -5.3,4.6 -7.9,3.7 -5.5,5.4 -6.1,3.7 -6,4.2 -5.5,4.5 -6,4.1 -6.2,3.6 -7.6,4.6 -6.4,3.5 -5.9,3.3 -5.4,4.3 -6.7,4.5 -5.5,3.9 -6.3,4.8 -6.3,3.2M1746.1,152.9l-8.1,3.5 -4.5,4.2 -7.4,4.2 -6.4,3.6 -6.1,4.4 -5.7,4.3 -5.8,3 -5.5,5.6 -6.2,3 -7,4.1 -5.2,4.4 -7.2,5.3 -6,4.1 -5.8,2.3 -6.2,4.2 -5.2,5.8 -7.3,2.9 -5.4,4.2 -6.8,4.5 -5.2,4.2 -6.2,5 -6,2.5 -6.8,5.5 -6.7,3.2 -6.1,4.1 -6.5,4.7 -6.3,3.1M1752.4,154.6l-6.2,4.5 -6.6,4.3 -6.5,3.3 -5.4,5.1 -5.7,3.5 -6.7,3.9 -6.2,4.2 -7.1,5.1 -5.6,4 -6,4 -5.3,4.1 -7.1,5 -5.3,4.2 -6,3.9 -6.2,2.8 -6.9,4.3 -5.2,4.3 -7.6,4.5 -6,4.5 -6.2,3.6 -5.7,5 -6.4,3.5 -5.1,3.8 -7,4.9 -6,3.5 -6.5,5 -5.5,3.9M1776.2,146.1l-4.7,3.4 -6.8,5.7 -6.7,3.5 -6.7,3.6 -4.7,4.9 -7.3,4.3 -5.2,3.1 -6.7,3.6 -6.2,5.5 -6.3,4.4 -5.1,3.3 -5.8,3.4 -7.1,4.1 -6.4,5.1 -5.3,3.8 -6.5,4.4 -7.1,4.1 -4.9,4 -6.9,4 -5.1,4.7 -6.9,3 -6.5,5.8 -6.3,3 -4.6,4 -8,3.9 -4.3,5.1 -7.5,3.1 -4.6,5.9 -7.7,3.1 -4.9,3.5 -7,5.9M1789.5,144.7l-6.3,5.1 -5.6,3.7 -6.1,4.4 -6.3,3.9 -5.6,3.6 -6.6,4.3 -6.7,4.7 -6.2,3.3 -5.8,5.4 -6.2,2.4 -6.9,4.5 -5.4,4.2 -5.3,3.9 -6.6,4.1 -5.8,5.6 -7.3,3 -5,5.2 -7.4,2.7 -6,6 -6,3.9 -5.2,3.6 -6.7,3.1 -5.4,4.9 -6.9,3.4 -6,4.9 -6.2,5 -6.8,3.4 -6.2,4.3 -4.3,4.5 -7.8,4.1 -5.3,3.7M1796.2,148.5l-6.3,3.7 -5.1,3.5 -7.5,6 -4.8,2.8 -6.5,4.3 -6,4.5 -5.8,4.5 -7.4,2.7 -5.5,4.7 -6.9,3.8 -4.9,5.4 -7.7,4.4 -5.8,3.3 -4.7,4.1 -7.6,5.2 -6.1,3.5 -5.5,3.5 -6.6,4.8 -4.8,4.6 -6.7,4.1 -7.6,2.8 -5.5,5.2 -5.8,4 -5.6,3.1 -5.8,4.7 -6.9,4 -6.8,4.1 -5.7,5.3 -5.4,3.3 -6.2,3.5 -7.6,5.1M1809.9,146.8l-6.5,4.1 -5.9,4.5 -7.2,3.7 -6.5,5.4 -5,4.6 -7.4,2.6 -4.9,3.7 -6,6.1 -7.5,2.5 -4.9,4.5 -6.3,5.1 -6.5,4 -6.1,3.6 -6.1,4.9 -5.8,3.2 -6.2,5 -6.6,2.6 -5.6,5.2 -6.9,4.8 -4.8,3.1 -7.6,4.6 -4.7,4.3 -6.3,3.1 -7.2,5.6 -6.7,4 -5.3,4.3 -5.1,2.8 -6.2,3.7 -6.7,4.3 -6.8,4.8 -6.6,3.9 -6.3,4.3M1815,149.8l-5.2,5.8 -6.5,3.3 -6.6,4.8 -6.5,2.6 -4.7,4.9 -6.6,4.3 -6.9,4.2 -6,4.6 -5.2,4.4 -5.9,3 -7,4.9 -5.8,4.6 -6.1,4.2 -5.7,2.5 -5.9,5.2 -7.3,4.4 -5.3,3.1 -6.1,3.9 -6.9,4.9 -6.4,4.6 -4.8,3.6 -7.8,4.9 -4.3,3.2 -7,4.5 -6.8,3.2 -5.2,5.8 -6.6,3.1 -5.4,4.7 -6.3,4.6 -7.3,3.3 -4.8,4.1 -5.9,3.9M1827.7,150.3l-6.1,3 -5.9,4.4 -6.6,4.2 -4.8,5.4 -7.1,3.1 -5.7,3.7 -6.7,4.6 -5.6,4.9 -5.4,4.1 -6.6,3.9 -6.4,3.1 -6.5,4.2 -6.1,4.2 -4.9,5.3 -6,3.7 -6.4,4.1 -6.4,4.2 -6.9,3.7 -5.9,4 -5.5,4.1 -7.1,4.4 -5.3,4.1 -7.3,3.8 -6,5.5 -4.8,3.1 -5.8,5.2 -7.8,4.2 -5.6,3.1 -6,4.1 -6.9,3.7 -6.3,4.5 -5.1,4.5 -6.8,3M1840.8,148.6l-6.7,4.5 -5.8,5 -5.7,2.5 -6.5,5.6 -5.6,3.2 -5.9,3.4 -6.7,5.8 -5.7,2.8 -5.4,5.2 -6.9,3.8 -7,3.6 -4.7,4.4 -7.7,4 -4.9,5.4 -5.6,2.3 -6,4.8 -6.7,4 -6,3.8 -6.3,4.5 -6.5,4 -5.9,5.1 -5.8,3.2 -7.1,5.1 -6.4,3.7 -6.4,3.5 -6.2,4.1 -5.5,4.6 -6.1,5.1 -5,3.6 -7.8,3.4 -6.3,3.8 -5.5,4.5 -4.9,4.2M1847.8,151.8l-5.1,3.9 -8,5.1 -5.3,3.7 -6.4,4 -6,3.4 -5.8,4.4 -5.4,5.5 -7.9,4.2 -5.6,3 -5.2,3.9 -6.4,5.6 -6.7,2.8 -6.9,4.2 -4.3,4.8 -6.8,4.4 -7.1,4.5 -6,4.1 -5.5,3.2 -6.8,5.2 -6.1,2.5 -5.2,4.2 -6.5,5.3 -6.2,3.4 -5.3,4.2 -7.2,3.7 -4.8,4 -7.3,5.9 -6.6,3.6 -4.8,3.3 -6.7,5.3 -7.1,4 -5.7,3.7 -5.9,4.3M1860.1,151.7l-4.6,4.4 -6.2,3.4 -7.6,4.6 -4.9,4.5 -6.5,4.1 -7.1,4.2 -5.7,4.1 -6.5,4.2 -5.7,3.4 -6.9,3.2 -5.9,5.6 -4.9,4 -6.1,2.9 -6.6,5.8 -6.1,3.4 -5.5,3.6 -6.6,3.9 -7.4,5.7 -5.1,3.2 -6.7,3.4 -5.9,4.1 -4.9,5.4 -6.3,3.4 -7.4,5.1 -6.2,3.6 -5.3,3.3 -7.4,4.8 -6,3.3 -4.8,5.7 -6.2,4.3 -5.7,3.6 -7.9,4.3 -5.3,3.4M1867.5,154.9l-6.2,2.9 -6.9,5.7 -5.9,2.7 -6.7,4.6 -4.9,4.9 -5.5,3.1 -7.9,5.7 -5.1,3.3 -7.1,4.7 -4.9,4.1 -7.1,3.4 -5.4,5.1 -6.1,4 -5.6,2.8 -7.8,4.6 -5.2,4.3 -6.2,4.1 -5.6,3.8 -6.8,4.9 -5.7,4.6 -6,2.3 -5.6,4.8 -6.1,4.4 -6.9,3.7 -5.4,5 -6.2,3.2 -6.1,4.7 -7.9,4.6 -4.8,4.4 -5.9,3.2 -6.7,4 -5.5,4M1880.8,152.6l-7,5.6 -5.5,4.1 -6.6,3.3 -5.7,4.9 -5.8,3.6 -6.5,4.8 -6.7,3.9 -5.3,3.3 -7.8,4.6 -5.2,5 -5.2,2.9 -7.9,5 -4.4,4.2 -6.7,3.8 -6.3,3.5 -6.3,5.7 -6.9,4 -5.2,2.9 -6.6,4.2 -4.9,5 -7.1,3.7 -5.4,3.6 -5.8,4.7 -7.5,3.6 -5.1,4.6 -6.8,3.8 -5.4,4.1 -6.5,4.6 -5.8,3.6 -6.8,4.4 -5.9,4 -7.4,4.5M1885.7,156.1l-4.9,4.3 -6.3,5.1 -6.3,3.7 -6.1,5 -5.1,4 -6.8,3.4 -7,4.8 -5.1,4 -6.1,4.6 -6.1,3.8 -6.6,3.3 -6.5,3.7 -5.9,5.8 -5.2,3.3 -7,3.6 -6.9,3.9 -5.2,5.4 -5.7,3.9 -7.5,3.7 -6,4.2 -6,4 -6.5,5.3 -5.8,4 -6.2,3 -6.5,3.5 -4.7,6 -7.2,4.1 -4.8,3.9 -6.7,2.9 -5.7,4.8M1899.2,156.1l-5.7,3.3 -6.8,5.7 -5.4,3.1 -6.3,3.4 -6.4,5.5 -6.4,4.2 -6.6,2.8 -4.2,5.9 -7.9,2.6 -5,5.1 -7.4,3.6 -5.3,4 -5.4,4.4 -6.5,4.3 -6.7,3.8 -5.5,4.8 -5.5,4.6 -7,2.3 -5.7,5.1 -5.8,3.2 -6.5,5.8 -6.1,3.7 -7.7,3 -4.5,4.8 -7.2,4.4 -5.4,4.5 -6.1,3.3 -6,4.6 -5.9,3.6M1912.7,155.1l-6.1,5 -6.1,3 -7.2,5.4 -5.4,2.1 -6.1,6.1 -6.4,3.9 -5.2,3.3 -7.2,3.9 -6.8,4 -4.4,4 -6.5,4.7 -6.5,4.8 -6.1,4 -5.4,4.4 -7.6,3.9 -4.9,4.1 -7.1,4.2 -5.4,3.4 -6.2,4.9 -5.6,3.3 -6.8,5.3 -6.4,4.2 -5.5,3.1 -5.7,4.9 -7.4,3.8 -5.7,3.9M1918.2,158.8l-5.3,3.6 -7.1,4.1 -6,3.6 -4.7,5.7 -7.3,2.5 -6.5,5.1 -4.6,2.9 -6.2,4.3 -6.7,4.7 -5.2,4.9 -8,3.8 -5.3,3.8 -7,4.7 -5,3 -6.6,5.7 -4.9,3.6 -6.9,4.1 -6.1,4.3 -6.6,4.4 -5.4,3.7 -7.7,3.5 -5.6,4.4M1931.5,157.4l-6.5,4.3 -4.8,3.2 -7.6,5.8 -6.3,3 -5.6,4.2 -4.8,3.8 -7.6,5.4 -5.8,3.7 -6,4.7 -5.5,2.6 -7.1,4.9 -6.1,3.3 -5,5.4 -6.5,3.7 -5.6,3.6 -8,4.3 -5,4.7 -6.9,3.8 -6.2,3.6 -5.2,5.2M1945.2,157.3l-7,4.1 -5.6,2.7 -7,4.1 -5.3,4.9 -6.3,5 -5.6,4 -6.9,3.3 -5.2,3.7 -6.2,5.2 -6.5,4.3 -7,2.8 -5.3,5.1 -7.2,3.2 -5.8,4.1 -5.5,4.9 -6.7,3.2 -5.8,5.8M1951.4,160.2l-6.5,4.6 -6.8,2.6 -5.4,5.2 -7,2.9 -6.1,5.9 -4.4,4.1 -7.8,3.4 -4.7,3.4 -6.3,4.8 -5.8,3 -7.9,4.4 -5.8,5.8 -4.9,4.1M1963.8,159.2l-6.9,3.8 -6,3.5 -5.8,5.8 -4.9,3.5 -7.4,4.1 -6.1,2.9 -6.3,5 -5.7,5.1 -6.7,2.5 -5.8,4.6 -5.8,4.8 -6.6,4.5M1976,159l-6.3,3.6 -6,4.3 -4.9,3.7 -5.6,4 -7.2,4.4 -6.4,3.6 -5.2,4.5 -6.1,3.7 -6.1,4.7 -6.6,4.6 -6.8,4 -4.7,3.6M1983.1,162.1l-6.2,3.8 -5.7,3 -5.5,5.6 -7.3,3.3 -6.1,4.9 -5.5,4.1 -5.5,2.4 -7.6,5.1 -5.5,4 -5.4,5.2M1983.6,167.8l-5.3,4.1 -7,5.4 -6.6,3 -4.5,5.3 -7.2,3.4 -6.8,3.7 -6,4.7M1983.6,167.8l-6.7-1.9 -7.2-3.3 -5.9-3.4M1983.5,176l-5.2-4.1 -7.1-3 -7.5-2 -6.8-3.9 -5.5-2.8M1977.5,179.2l-6.2-1.9 -5.6-2.8 -6.9-3.9 -7.9-4.1 -6-1.7 -6.7-3.4 -6.7-4M1971.7,184.8l-7-4.5 -6.3-2.5 -5.2-3.2 -8.1-2.3 -7-4.9 -5.5-3.3 -7.6-2.4 -6.8-2.9M1966.7,188.5l-6.5-2.9 -7.9-2.9 -6.3-3.7 -5.8-3.2 -7.5-3.2 -7.1-4.4 -5.4-3.3 -7.3-2.5 -6.3-2.3 -7.4-4M1959,192l-6-3 -6.2-2.2 -7.2-4.2 -6.8-2.7 -7.1-4.4 -5.4-2.4 -7.7-2.4 -6.8-4.2 -5.3-3.4 -7-3.7 -7.8-3.3M1954,197.5l-7.8-4.8 -4.9-3.5 -6.9-2.1 -7.7-4.3 -7.1-1.4 -5.6-3.3 -7.7-4.4 -6.5-3.6 -6.5-1.6 -6.6-3.4 -5.9-4.7 -7-2.2 -6.3-3.3M1940.2,197.4l-6.5-3.1 -5.4-3.5 -7.9-3 -5.2-2.3 -6.8-3.4 -7.7-4.2 -5.6-2.1 -7.2-5.2 -6.6-2.4 -6.8-2.7 -6.2-3.2 -7-4.5 -5.8-1.7 -7.7-4.3M1934.4,201.9l-6.2-3.6 -6-2.8 -7.5-2.6 -7.3-4 -5.9-3.5 -5.6-3.7 -8.1-3.4 -6-1.6 -6.8-5.1 -6.8-2.4 -6.5-3.6 -7.3-2.1 -5.1-4 -6.6-3.8 -8.6-2.6 -6.4-2.8M1922.8,203.5l-7.2-3.4 -7.6-4.7 -5.3-3.1 -6.4-3.2 -8-2 -7-3.7 -5.9-2.8 -6.8-3.5 -6.5-2.9 -6.1-3.7 -7.5-4.3 -6.8-2.1 -7-3.3 -6.4-2.7 -6.7-4.8 -6.6-3.5M1917,207.7l-8.2-3.6 -6.6-4.1 -5.8-2.9 -6.3-2.8 -7.6-3.5 -5.8-4.5 -6.5-2.4 -8-2.6 -5.2-3.1 -6.8-4.1 -8.4-3.3 -5-2.2 -7.4-4.1 -6.8-3.9 -6.9-2.9 -5.9-2.1 -6.4-4.7 -7.2-2.4M1904.1,207.7l-7.7-2.9 -5.8-4.7 -7-1.5 -7.1-3.1 -6-4.9 -7.5-2.8 -7.4-3.7 -5.4-2.5 -6.5-2.7 -6.8-3.2 -6.6-3 -7.3-4.2 -6.9-2.3 -7-4.3 -5.8-3 -5.8-3.5 -7.6-3.2 -6.7-2.4 -7-3.7M1889.8,209.3l-7.1-4.8 -6.1-3.1 -5.6-3.3 -7.2-2.8 -7.6-3.5 -4.8-1.8 -8.2-3.6 -6.2-3.6 -5.6-4 -8.2-1.9 -6.2-5 -6.5-2.5 -6.2-2.1 -7.6-3.6 -6.4-4.6 -5.5-3.4 -7.2-2.2 -6.1-4 -7.8-2.7M1884.1,212.8l-7.2-2.5 -5.6-3.8 -7.4-3.5 -5.3-2.8 -6.8-4.4 -8.3-3.2 -5.4-2.2 -6.4-4.3 -8.2-1.6 -6-3.5 -6.3-4.7 -6.6-3.5 -7.4-2.4 -7-4.1 -6.4-1.8 -6.5-2.8 -5.8-3.8 -6.8-2.7 -7.6-4M1872,214.4l-7.9-4.7 -6.3-3.4 -7.2-2.3 -5.3-3.5 -6.8-2.8 -6.5-2.7 -8.1-4.3 -5.5-2.9 -7.4-2.6 -5.2-3.4 -7.9-3.2 -6.4-4.5 -6-2.9 -6.7-2.1 -6.3-4.6 -7.3-2.7 -7.2-3.1 -5.6-4.1M1865.6,217l-7.3-3.2 -5.5-2.1 -7.5-3.9 -6.5-2.5 -7.7-4 -5.2-2.5 -7.2-3.1 -7.4-3.2 -6-3.9 -7.4-2.6 -5.7-4.6 -7.4-2.7 -5.9-3.2 -7.5-3.8 -5.4-2.9 -6.4-3.4 -8.3-3.1 -5.1-3.2 -8.2-2.7 -6.2-4.5M1859.7,222.2l-6.9-3.5 -6.5-3.3 -8-2.9 -5.6-3.2 -6.9-4 -6.5-3.2 -5.8-3.5 -7.1-2 -8-4.8 -6.1-2.8 -5.5-2.4 -7.6-3 -7.2-3.9 -5.5-4.3 -6.5-2.1 -7-3.6 -6.4-2.5 -7-3.8 -6.1-2.8 -8-4.1 -6.5-3.6M1852.7,227l-6.6-5.1 -5.4-2.9 -7.4-3.5 -6-1.8 -6.9-4 -7.6-3.9 -7.2-2.2 -6.3-3.6 -6.8-2.6 -5.4-4.5 -7.2-2.5 -6.1-2.7 -7.8-3.4 -5.5-2.8 -6.3-3.7 -7.9-3.4 -7-2.9 -6.2-4.8 -7-1.9 -5.6-4.6 -6.7-3.4 -6.7-2.2 -7.8-4M1659.8,132.1l-5.7-2.6 -7.2-3.5M1840.3,227.7l-7.6-4.4 -6-2.1 -7-3.6 -5.8-3.6 -7-2.4 -5.7-3.8 -7.3-2.7 -6.3-3.7 -6.9-2.9 -7.8-4.5 -5.7-2.4 -6.4-2.9 -7.8-4.7 -6.2-3.5 -6.7-2.8 -6-3.1 -6.4-2.8 -8-3.4 -6.5-2.6 -6.5-2.9 -6.3-3.6 -5.8-3.7 -6.9-2.4 -6.3-5.2 -7.8-1.6 -5.5-4.4 -8-2.4 -6.8-4.3 -5.2-1.6 -6.8-5 -7.8-1.5 -5.5-3.2M1833.2,230.9l-5.5-2.9 -5.9-3.2 -7-3.1 -7.6-3.9 -5.5-2.9 -7.2-3.3 -6.7-2.5 -6.3-4.8 -7.5-3 -5.8-2.9 -7.4-3.7 -5.9-3 -6.8-3.2 -6.8-3.3 -7-2.1 -6.9-4.9 -5.4-2.9 -8.4-2.5 -4.9-3 -7.6-2.7 -5.7-4.8 -7-3.5 -7.8-2 -5.7-4 -7.6-2.4 -6.4-3.9 -6.5-4 -6.3-1.8 -6.1-4.5 -6.7-1.9 -7.8-4.7 -6-1.4 -7.1-4.7 -7.1-3.6M1828.2,234.9l-7.4-3.1 -5.9-2.9 -7.2-3 -6-3.3 -7-4.1 -6.5-3.4 -6-3.2 -7.3-1.8 -7.8-4.6 -6.6-3.1 -6.2-3.5 -6.4-2.3 -6.1-3 -7.4-4.6 -6.3-3.5 -6.9-1.8 -5.9-4.5 -7.4-2.1 -5.4-4.4 -6.8-2.7 -8-2.1 -5.4-4.5 -7.7-3.2 -6-2.3 -6.4-4.4 -7.2-1.7 -6.3-4.8 -7.7-1.9 -4.9-3.5 -7.3-3 -6.9-3.4 -6.4-4.2 -7.7-3.3 -5.6-3.1 -7.9-2.6 -5.2-3 -7.2-3.1M1821.8,238.6l-7.2-3.2 -5.8-2.2 -6.5-3.9 -6.1-2.1 -8.4-4.8 -5.9-1.6 -7.5-4.3 -5.6-3 -6-3.2 -7.2-2.5 -7.4-4.7 -6.1-1.9 -6.8-3.6 -5.8-3.2 -8.3-4.4 -6.3-1.9 -5.8-4.7 -7-3.3 -5.7-3 -7.9-2.8 -5.8-3.6 -6.6-2.9 -6.6-2.8 -7.1-4 -6.5-3.8 -7-2.5 -6.6-3.3 -6.3-3.5 -7.7-3 -7-3.2 -5.9-3.2 -6.4-3.5 -7.1-2.2 -5.4-3 -8-5 -5.4-1.6 -6.5-3.3 -6.9-4 -6.9-3.7M1809.4,240.6l-7.2-3 -6.1-3.4 -6.9-4.7 -6.6-1.7 -7.6-3 -5.8-4 -5.9-3.7 -7.3-2.4 -6-4.6 -6.7-1.7 -7.3-3 -6.8-4.2 -7.4-2.4 -6-4.6 -6-2.8 -7.8-2.9 -5.4-2.8 -8.2-4.8 -5.2-2.2 -7.8-4 -6.9-3 -6-3.3 -6.7-2.3 -6.9-3.7 -6.5-3.1 -7.2-3 -5.9-3.6 -7.4-4 -5.4-2.9 -7.1-2.5 -6.5-2.8 -5.9-3.7 -8.5-4.3 -5.4-1.8 -6.7-5 -7-3.2 -6.2-2.7 -7.6-3.7 -6.8-3.2 -6.5-2.2 -4.9-2.8 -7.7-4.1M1802.4,244l-5.6-2.7 -6.3-3.8 -7-2.9 -6.6-2.9 -7.1-4 -6.8-2.8 -6.3-3.9 -7.8-1.8 -4.9-4.3 -6.7-2.8 -7-4.2 -7.2-1.8 -7.1-4 -5.5-4 -6.5-3.3 -7.6-2.3 -6-3.8 -6.2-2 -7-4.7 -8.1-1.8 -5.5-4.9 -7-3.2 -6.4-1.8 -7.9-4.6 -5.7-3 -6.6-2.3 -6-3.2 -8-3.9 -6.4-2.2 -6.4-3.9 -5.7-4.3 -7-1.7 -7.2-3.1 -5.6-4.6 -7.9-2.9 -7.2-3.7 -5.5-2.6 -6.9-4.1 -6.6-1.8 -6-3.1 -6.7-4.6 -7.7-3.1 -6.4-3.6 -6.4-1.4 -7-4.6M1796.8,248.9l-7.7-4.1 -5.4-2 -6-5 -8.3-2.4 -6.2-3.5 -5.8-3.2 -8.1-2 -6.4-3.4 -5.6-4.4 -6.4-2.7 -6.5-3.1 -7.1-3.8 -6-3.1 -7.4-4 -7-3.3 -6.5-2.4 -7-3.7 -5.4-2.7 -8-3.1 -6.8-3.1 -5.4-3.6 -7.5-2.6 -5.8-4.8 -7.8-2.7 -6.3-2.2 -5.6-3.2 -8-2.9 -6-4.3 -6.5-2.4 -7.4-3.2 -6.4-3.1 -6.3-4.6 -7.6-3.5 -5.5-3 -6.5-3.2 -7.1-2.7 -6.6-3 -6.4-3.5 -7.5-4.3 -5.3-2.6 -8.4-3.3 -5.9-3.6 -6-3.5 -7.2-3.2 -6.4-2.1 -7.2-3.8 -6.1-2.8 -6.5-3.3 -7.2-3 -7.1-4M1783.5,249.2l-6.2-2.2 -6.1-3.4 -7.8-4 -5.1-2.7 -7.7-3.3 -6.4-3.7 -6.8-3.4 -6.1-3.8 -6.8-2.3 -7.4-2.9 -6-3.2 -7.4-2.9 -5.6-3.6 -7.6-3.8 -5.4-3.4 -6.9-3.4 -7.1-3.3 -6.6-2.4 -6.5-4.5 -7.7-3.4 -5.6-1.9 -7.9-4.6 -4.8-1.9 -8.5-3.2 -5.5-3.2 -6.8-4 -6.7-2.3 -6.9-3.9 -6-3.2 -7.3-4.1 -6.8-2.5 -7.1-2.9 -5.9-4.3 -6.4-2.9 -6.4-3.9 -6.5-2.8 -7.3-2.5 -6.7-3.7 -6.9-3.9 -7.2-1.4 -6.2-5 -5.5-2.3 -8.3-2.3 -5.4-3.6 -6.6-4.1 -6.8-3.3 -6.7-2.1 -7.2-4.3 -7-3.1 -5.2-4 -7.2-2.1 -7.5-4.1M1777,254.3l-5.2-4.2 -6.7-2.8 -7.7-3.7 -6.2-3 -6.3-2.4 -7.4-4.9 -6.9-1.6 -5.6-4.5 -7.4-3.1 -5.8-3.5 -7.3-3.7 -6.9-2 -6.8-4.1 -5.6-3 -7.2-2.2 -7-3.1 -5.2-4 -8.6-3.5 -5.9-2.3 -6.5-3.8 -6-4 -8.1-2.7 -6.6-2.7 -6.2-3.4 -5.3-3.1 -8.2-3.3 -5.3-3.6 -7.6-2.6 -7.4-4.9 -5-2.5 -8-3.2 -6-4.1 -6.3-2.5 -6.6-3.3 -6.7-2.9 -6.9-3.8 -6.9-3.3 -7.1-3.1 -6.5-2.5 -6.1-3.2 -6.2-4.5 -7.6-1.7 -6.7-4.3 -7-2.9 -5.3-2.4 -6.7-3.4 -7.8-3.5 -6.9-3.4 -6.3-4 -6.3-3 -6.4-2.9 -6.9-4.3 -7.3-1.8 -5-4.5 -6.8-1.6 -7.3-4 -6.2-2.8 -6.8-3.9M1772.5,258.5l-6.4-3.5 -8.7-4.7 -6.5-1.4 -5.1-4.7 -6.9-3.7 -7.3-3.1 -7.1-3.2 -6-3 -6.8-3.1 -6-3.6 -6.8-2.4 -6.8-3.7 -6.3-2.4 -7.1-3.8 -6-2.4 -7.7-3.2 -7.1-4.4 -6.7-2.9 -5.9-3.3 -7-2.5 -6.6-4 -6.7-2.8 -5.7-2.7 -7.6-4.6 -6.5-3.3 -7.2-2.8 -5.5-3.7 -6.7-3.3 -7.8-1.7 -5.9-5.2 -6.5-3 -6.6-2.8 -6.1-2.4 -7.8-4.4 -7-2.8 -5.7-2.4 -6.6-3.9 -7.1-3.5 -7.3-2.8 -5.9-2.8 -6.2-4.8 -6.6-3.3 -7-2 -7.3-2.9 -7-4.1 -5.9-2.4 -5.5-3.3 -6.5-3 -7.3-4 -7.8-3.7 -4.9-3.1 -7-2.5 -7.9-3 -6.2-4 -5.8-3.5 -6.4-2.3 -6.6-3.3 -8.2-3.5 -6.3-4.4 -5.9-2.6 -7.1-4 -7-3.3 -5.7-2.9M1766.5,261.2l-7.8-2.4 -5.8-3.7 -7.8-2.2 -5.1-4 -6.7-3.6 -6.6-2.5 -7.4-4.4 -6.7-2.1 -6.4-4.1 -7.4-2.8 -6.8-2.5 -6.5-3.7 -7.1-4.5 -6.8-2.4 -4.9-2.6 -7.5-4.8 -6.8-1.3 -6.3-3.6 -7.6-3.2 -6.8-3.8 -6.6-2.5 -5.9-5.1 -7.2-3 -5.4-2.6 -7.8-4 -5.8-2.8 -6.9-3 -7.7-3.1 -4.7-2.5 -7.2-4.7 -7.6-1.7 -6.4-3.1 -5.6-3.4 -8.2-3.9 -6.3-3.6 -6.1-2 -6.6-4.2 -6.9-3.7 -6.7-2.1 -7.4-4.4 -5.8-3.4 -5.8-3.5 -8.4-2.9 -6-2.9 -6.1-3.1 -7.8-2.4 -5.1-3.5 -7.9-4 -7.1-3 -6.2-4 -7.1-3.3 -5.3-2.6 -7.8-3.6 -6.7-2 -6.8-4.1 -5.9-3.6 -7.3-3.3 -5.8-2.5 -6-3.3 -6.7-3.5 -6.9-2.3 -6.8-3.8 -7.6-3.9 -5.4-2.3 -7.3-3 -6.2-3.3 -7.8-3.6 -6.2-3.8 -7.1-2.8 -6.2-2.6 -5.3-4 -6.8-4.3M1753,262.7l-7.3-3.2 -6.8-3.6 -6.4-3.4 -5.3-2.8 -6.8-3.5 -7.6-2.5 -6-4.2 -7.7-2.9 -6.7-2.6 -5.2-4 -6.5-2.2 -8.3-3.1 -5.7-4.4 -6.2-3.8 -7.5-3.4 -6.7-1.8 -6.4-3.9 -6.4-4 -6.4-2.7 -6.9-2.5 -7.8-3.9 -6.8-3.2 -5.9-3.9 -6.6-1.5 -5.7-3.3 -7.3-3.7 -6.7-3.1 -5.8-2.9 -7.6-3.4 -6.6-4.5 -6.4-1.7 -6.7-4.1 -6.2-2.7 -7.7-3.6 -6.3-3.9 -6.2-2.8 -7.1-3.2 -7-3.1 -5.8-3.8 -7.4-3.5 -6.7-2 -7.1-3.2 -5.1-3.2 -8.2-4.6 -5.9-2 -6.7-4.1 -6.3-2.6 -7.5-4.6 -5.8-1.5 -7.1-5 -7.4-2.8 -6.5-3.5 -6.7-2.9 -5-3.7 -7.3-2 -7.6-3.1 -5.3-3.3 -7.8-4.7 -6.2-2.7 -7-2.7 -7.2-3.1 -5.1-4.2 -6.7-1.8 -8.1-4 -5.9-3.4 -6.7-2.1 -6-3.4 -6.4-4.5 -8.3-2.5 -4.8-4.5 -7.6-2.2M1746.4,267.5l-6.1-3.5 -7.9-4.6 -5-2.3 -7.1-3.7 -7.3-2.1 -6.4-4.2 -6.9-2.5 -5.9-3.9 -6.2-3.1 -8-3 -5.6-2.7 -7.6-3.3 -6.6-4.3 -6.2-3.5 -5.8-1.9 -7.5-3.4 -7.5-4.4 -5.1-3 -6.7-2 -7.9-4.6 -5.4-3.2 -6.5-3.5 -8-2.3 -6.2-3.8 -7.6-3.7 -6-3.3 -6.9-2.4 -5.1-2.5 -6.9-3.9 -7.7-3.5 -6.4-3.9 -7.3-1.8 -6.1-4.3 -7-3.8 -6.7-2.9 -6.1-3 -7.6-2.6 -6-4.1 -6.9-2.9 -6-2.2 -5.7-3.3 -6.9-4.9 -7.7-2 -7.1-4.1 -5.5-3.6 -7.7-1.8 -6.1-4.1 -7.4-2.8 -5.6-4.1 -7-2.1 -5.8-2.9 -7.7-3.9 -5.6-2.9 -6.8-3.2 -7.1-3.5 -6.7-3.1 -7.4-3.5 -6.7-3.1 -6.3-4.2 -6.5-2.7 -7-3.8 -6.3-2.4 -6.8-3.1 -6.9-4.4 -6.1-2.9 -6.9-3.6 -6.5-1.5 -6.3-4.9 -7-3.3M1740,270.3l-5.8-3 -6.5-1.9 -7.1-4.5 -5.7-2.5 -8.1-3.5 -5.5-3.6 -8-3 -6.8-3.8 -6.7-2 -4.9-3.6 -8.5-4.2 -5.2-2.5 -6.5-3.2 -6.3-3.9 -7.9-3.3 -5.7-1.8 -7.1-3.4 -7.6-3.7 -5.5-2.9 -7-3.6 -6.6-4.4 -7-3.3 -7.2-2.3 -5.8-4.2 -6.4-1.4 -6.2-3.7 -7.7-3 -5.6-3.2 -8.1-3.2 -5-3.8 -7-2.7 -8.2-3.1 -5.4-4 -7.9-3.4 -6.7-3.9 -5.2-2.6 -6.3-3.2 -8.5-3.8 -5.4-3.5 -7.8-2.7 -6.5-3.2 -6.7-3.7 -5.7-2.1 -7.6-3.3 -5.5-3.2 -6.6-3.4 -6.9-4 -7.8-3.6 -4.8-2.3 -7.9-2.8 -6.8-3 -5.9-4.8 -7.2-1.9 -6-4.2 -7.7-2.7 -6.3-4.2 -5.7-3.5 -7.7-3 -6.9-3.3 -6.4-2.5 -5.7-3.7 -8-3.6 -5.6-3 -6.5-3.2 -6.1-3.1 -7.6-2.4M1735.2,275.9l-7-4 -7.7-2.4 -5.3-4.5 -6.5-3.4 -7.2-3.4 -7.4-3.2 -7.2-3.2 -6.4-1.8 -5-4.3 -6.9-3.7 -7.7-2.1 -6.4-4.6 -6.7-3.3 -7-2.4 -5.7-3.6 -6.3-1.9 -7.2-3.2 -7.4-4 -5.4-3.3 -6.6-2.5 -6.6-3.6 -7.8-3.7 -6.8-3.6 -6.3-3.7 -6.7-2.9 -7.3-3.7 -5.9-2 -6.8-2.9 -6.8-4.2 -5.9-2.3 -7.3-4.1 -6.9-2.6 -5.9-4.1 -6.4-3 -6.6-2.2 -6.3-3.4 -8-4.9 -7.1-2.6 -5.3-3.3 -7.4-2.1 -6.3-4.4 -7.1-3.2 -6-2.9 -6.4-3.5 -6.6-2.7 -8-3.5 -6.3-2.9 -5.3-3.4 -7.8-3.6 -6.8-3.7 -6.3-2.9 -7.4-3.8 -5-1.7 -7.7-4.3 -5.9-3.2 -6.7-3.3 -6.5-2.3 -7.7-3.1 -6.5-5.1 -5.5-2.7 -6.7-2.9 -6.7-3.1M1722.3,275.5l-6.6-2.1 -7-3.8 -6.1-3.3 -8.5-3.3 -4.8-4 -8.6-3.1 -5-2.8 -7.2-2.9 -7.1-2.6 -6.3-3.7 -6-3.7 -7.8-2.4 -6.5-3.7 -6.5-3.6 -5.7-2.8 -7.5-2.7 -6.4-4.1 -6.4-3.4 -7-2.3 -6.4-3.8 -6.1-3.8 -8.5-3.8 -6.5-1.9 -6-4.1 -5.6-2.3 -6.5-3.7 -8.6-3.8 -5.3-3.2 -6.2-2.6 -7.6-3.6 -7.1-2.7 -6.9-2.9 -5.9-3.8 -6-3.9 -8-2.8 -6.2-3.2 -7.1-3.8 -5.3-2 -6.7-5 -8.1-2.4 -6.3-2.9 -5.3-3.1 -7.5-3.6 -6.9-4.1 -6.9-2.3 -7.1-4.2 -5.4-2.7 -7.2-3.1 -7-3.9 -5.9-2 -6.6-4.4 -7.6-2.2 -5.4-3.8 -6.8-2.5 -6.3-3.6 -6.7-4.3 -7.3-3.1 -7.5-2M1715.9,281l-6.9-4.7 -6.1-3.1 -8.2-2.3 -6.6-4.6 -6.1-1.4 -6.8-4.4 -5.3-2.2 -8.2-4.9 -7-1.8 -5.2-4.6 -7.3-3.4 -7.2-2.8 -6.4-3.1 -5.5-3 -8.1-2.4 -5.9-3.9 -6.1-3.7 -8.2-3.9 -5.1-2.5 -6.3-3.3 -7.5-2.7 -6-3.5 -7.7-4.1 -6.5-3.1 -5.6-2.6 -8-3.1 -6.4-2.8 -6.6-4.2 -5.6-3.7 -8.5-2.1 -6.5-4.1 -6.3-1.7 -5.4-4.1 -8.1-4.2 -5.8-3.2 -6.6-2.3 -6.6-3.3 -6.5-2.5 -7.2-3.2 -5.6-3.2 -7-3.7 -7.3-3.9 -6.4-3 -6.6-3.4 -5.9-3.2 -8.4-2.8 -5.4-3.1 -7.5-4.7 -6.2-1.7 -7.1-4.5 -7.2-1.6 -5.3-4.9 -6.8-3 -6.8-2.4 -7.8-3.6M1703.3,281.1l-7.2-3.5 -6.2-2.3 -6.6-3.3 -7.9-3.5 -6.3-2.9 -7-3.1 -5.6-3.3 -7.1-3.3 -5.7-4.2 -7.5-3.2 -5.8-3.7 -7.5-2.1 -6-3 -8.3-3.9 -6.6-3.6 -6.4-3.2 -6.9-3.8 -6.6-2.3 -5.6-4.4 -7-3.3 -6.2-2 -6.5-4.1 -6.6-1.9 -7.8-4.6 -5.6-3.4 -6.8-1.8 -6.4-3.4 -7-3.4 -6.8-2.8 -7.1-3.1 -5.3-5.1 -7.6-1.9 -5.7-3.1 -7.1-4.5 -7.8-2.5 -5.3-2.5 -6.5-3.5 -7.4-4.7 -6.9-3.3 -6.5-1.7 -6.5-4.5 -7.6-2.1 -5.7-4.3 -6.1-3.2 -6.6-3.3 -6.8-2.5 -6.2-2.7 -7.9-3 -6.6-3.4 -5.4-3.5 -8.7-4.1M1697.1,284.6l-6.9-3 -6.2-3.1 -6.9-2.2 -6.5-4.5 -6.5-2.6 -7.6-3.6 -6.6-3.3 -5.6-3.6 -7.5-3 -6.8-2.2 -7.6-4.8 -5.9-2.5 -5.6-4 -8.2-3.1 -4.9-1.7 -6.9-3.8 -8.3-3.2 -5.1-4.7 -6.8-1.5 -7.8-4.2 -6.6-3.3 -5.2-2.7 -6.8-3.8 -8-2.7 -6.1-2.8 -6.3-3.4 -7.8-4 -4.8-3.4 -6.9-2.6 -6.5-3.5 -7.8-2.7 -6.1-4.6 -6.9-2.9 -6.7-3.4 -6.5-2.1 -6.6-3.9 -7-4 -6.7-2.9 -5.8-3.5 -6.5-2.3 -7.4-4.2 -6.4-2.9 -7.3-2.7 -7.3-3.9 -6.5-3 -6.2-3.7 -6.3-2.3 -5.8-3.2M1682.8,286.1l-5.5-3.6 -5.9-2.6 -7.5-2.8 -7.6-4.5 -5.8-2.9 -6-2.7 -6.4-4.6 -8.1-2.6 -6.8-2.9 -5.1-3.1 -6.7-3.8 -7.3-2.3 -6.8-4.3 -6.4-2.1 -7-3.8 -6.1-3.4 -7.6-2.8 -5.1-2.9 -7-4 -6.7-2.6 -6.7-4 -7.6-2.9 -7.1-2.7 -6.5-3.4 -6.4-3.8 -6.3-3 -6.4-4.2 -7.1-2.4M1417.9,156.2l-6-3.8 -6.7-2M1671.8,286.5l-8.3-2.3 -6.7-3.1 -6.8-4.7 -6.4-3 -5.4-1.8 -6.8-4.9 -7.1-1.6 -7.3-3.9 -6.4-4.3 -6.2-2 -7-4 -6.8-3 -5.1-3 -8-3.4 -5.7-4.2 -7.3-2.7 -5.9-2.6 -7-4.3 -7.8-2.4 -6.6-3.6 -5.7-3.2 -6.2-3.8 -7.4-3.4M1658.2,287.6l-7.1-2.8 -6.6-3.9 -7.2-3 -6.4-3 -6.3-3.4 -5.7-3.1 -6.2-2.7 -6.7-2.9 -7.6-4.4 -7.1-3.4 -6.2-3.2 -7.6-3.7 -5.2-2.5 -6.9-3.6 -6.6-3.8 -7.2-1.9 -5.9-3.9 -7.4-2.7M1639.6,285.1l-7.4-2.7 -6.1-3.4 -8.1-3.6 -5.3-3.5 -7.8-2.1 -6.6-3.9 -6.4-2.5 -7.1-3.7 -6-3.1 -6.9-4.3 -7-2.3 -5.9-3.7 -6.5-3.4M1599.6,273.5l-6.2-4.1 -7-2.1" stroke="#fff" stroke-width="1" fill="none" stroke-linejoin="round"/>
</g>
<polyline points="1288.0,34.0 1290.6,30.5 1295.0,29.2 1304.8,31.5 1322.0,39.5 1339.6,47.9 1374.5,60.0 1409.3,72.2 1444.1,82.7 1478.9,91.6 1524.5,104.5 1569.0,114.7 1613.5,123.2 1651.3,128.3 1656.5,130.5 1662.5,135.6 1675.8,149.0 1702.5,151.2 1747.0,156.5 1753.7,156.5 1776.0,146.6 1806.9,149.9 1840.6,153.2 1890.9,156.7 1941.2,160.7 1971.4,162.2 1980.4,165.8" fill="none" stroke="#fff" stroke-opacity="0.88" stroke-width="4.2" stroke-linejoin="round" stroke-linecap="round" transform="translate(0,1.9)"/>
<polyline points="1288.0,34.0 1290.6,30.5 1295.0,29.2 1304.8,31.5 1322.0,39.5 1339.6,47.9 1374.5,60.0 1409.3,72.2 1444.1,82.7 1478.9,91.6 1524.5,104.5 1569.0,114.7 1613.5,123.2 1651.3,128.3 1656.5,130.5 1662.5,135.6 1675.8,149.0 1702.5,151.2 1747.0,156.5 1753.7,156.5 1776.0,146.6 1806.9,149.9 1840.6,153.2 1890.9,156.7 1941.2,160.7 1971.4,162.2 1980.4,165.8" fill="none" stroke="#000" stroke-opacity="0.35" stroke-width="1" stroke-dasharray="1.2 2.3" transform="translate(0,2.4)"/>
<polygon points="1288.0,34.0 1290.6,30.5 1295.0,29.2 1304.8,31.5 1322.0,39.5 1339.6,47.9 1374.5,60.0 1409.3,72.2 1444.1,82.7 1478.9,91.6 1524.5,104.5 1569.0,114.7 1613.5,123.2 1651.3,128.3 1656.5,130.5 1662.5,135.6 1675.8,149.0 1702.5,151.2 1747.0,156.5 1753.7,156.5 1776.0,146.6 1806.9,149.9 1840.6,153.2 1890.9,156.7 1941.2,160.7 1971.4,162.2 1980.4,165.8 1981.2,170.0 1980.4,174.8 1973.9,183.4 1941.2,195.9 1916.0,203.5 1890.9,208.5 1865.8,216.1 1840.6,226.1 1815.4,236.2 1790.3,246.2 1765.2,256.3 1747.0,264.7 1724.8,273.6 1702.5,280.3 1680.3,283.8 1658.0,285.6 1635.8,283.4 1613.5,278.0 1591.3,269.1 1569.0,255.8 1546.8,235.8 1524.5,215.7 1502.3,197.9 1480.0,180.3 1461.5,169.7 1444.1,162.8 1426.7,157.5 1409.3,151.6 1391.9,140.1 1374.5,124.5 1357.0,107.0 1339.6,89.6 1322.2,72.2 1304.8,58.3 1296.1,49.6 1290.4,41.0 1288.0,36.0" fill="none" stroke="#fff" stroke-width="1.0" stroke-linejoin="round"/>
<polygon points="1287.2,33.5 1287.4,36 1290,41 1296.1,49.6 1304.8,58.3 1322.2,72.2 1336,86 1326,71 1311,55.5 1302.5,47 1296.5,39.5 1293,32.5" fill="#fff" fill-opacity="0.9"/>
<polygon points="1981.6,167 1980.6,175 1974.2,184.2 1941.2,196.6 1916,204.2 1893,208.8 1916,199.5 1941,189 1962,178.5 1974,169" fill="#fff" fill-opacity="0.88"/>
<polyline points="1976,164 1980.6,167.5 1979.5,176 1973.9,183" fill="none" stroke="#fff" stroke-width="2.2" stroke-linejoin="round"/>
<g id="triad" fill="none" stroke-linecap="round">
<line x1="1941" y1="102.2" x2="1943.6" y2="72" stroke="#1c2ecf" stroke-width="2.4"/>
<polygon points="1944.1,66.8 1941.2,73.5 1946.6,73.8" fill="#1c2ecf" stroke="none"/>
<line x1="1941" y1="102.2" x2="1909" y2="97.6" stroke="#35c53a" stroke-width="2"/>
<polygon points="1904.2,96.9 1910.6,94.6 1909.9,100.6" fill="#35c53a" stroke="none"/>
<line x1="1941" y1="102.2" x2="1948" y2="93.6" stroke="#d8352a" stroke-width="1.8"/>
<polygon points="1951,90 1945.2,92.8 1949.4,96.6" fill="#d8352a" stroke="none"/>
</g>
<text x="1944.9" y="51.2" font-size="14.5" fill="#2433b4" font-family="Liberation Sans, sans-serif">Z</text>
<text x="1885.8" y="94.8" font-size="14.5" fill="#7ad67e" font-family="Liberation Sans, sans-serif">Y</text>
<text x="1953.6" y="87.8" font-size="14.5" fill="#cf3a30" font-family="Liberation Sans, sans-serif">X</text>
</g>
<g id="contour">
<rect x="1271.1" y="321.7" width="728.9" height="171.9" fill="#6666e6"/>
<defs><clipPath id="damc"><polygon points="1281.4,334.6 1617.8,339.3 1638.0,353.8 1734.5,355.4 1759.5,342.5 1990.3,347.2 1989.2,352.6 1942.0,372.2 1906.2,388.3 1870.4,400.9 1834.7,411.6 1798.9,422.3 1763.1,440.2 1727.3,458.1 1691.6,472.4 1655.8,484.2 1640.0,483.2 1603.5,480.3 1578.4,479.6 1546.2,452.7 1510.4,429.5 1478.8,413.8 1461.4,404.2 1454.5,402.4 1426.6,400.7 1402.3,400.7 1391.8,398.1 1374.4,385.0 1339.6,366.8 1304.8,349.4 1281.4,337.6"/></clipPath></defs>
<g clip-path="url(#damc)">
<polygon points="1281.4,334.6 1617.8,339.3 1638.0,353.8 1734.5,355.4 1759.5,342.5 1990.3,347.2 1989.2,352.6 1942.0,372.2 1906.2,388.3 1870.4,400.9 1834.7,411.6 1798.9,422.3 1763.1,440.2 1727.3,458.1 1691.6,472.4 1655.8,484.2 1640.0,483.2 1603.5,480.3 1578.4,479.6 1546.2,452.7 1510.4,429.5 1478.8,413.8 1461.4,404.2 1454.5,402.4 1426.6,400.7 1402.3,400.7 1391.8,398.1 1374.4,385.0 1339.6,366.8 1304.8,349.4 1281.4,337.6" fill="#e1e100"/>
<polygon points="1270.0,320.0 1300.0,350.0 1355.3,375.5 1374.4,376.3 1409.2,379.0 1444.0,383.3 1474.8,391.1 1500.0,400.9 1534.8,410.4 1569.6,423.5 1584.4,427.2 1586.2,412.0 1589.7,391.1 1596.6,368.5 1603.6,339.8 1604.0,320.0" fill="#8cdc00"/>
<polygon points="1270.0,320.0 1290.0,345.0 1339.6,365.9 1374.4,368.5 1409.2,370.6 1444.0,371.5 1474.8,371.1 1509.6,367.6 1530.5,361.5 1544.4,354.6 1554.9,344.1 1558.3,339.8 1559.0,320.0" fill="#46d700"/>
<polygon points="1270.0,320.0 1285.0,342.0 1318.7,357.2 1357.0,358.9 1391.8,359.8 1426.6,358.9 1440.0,358.0 1474.8,354.6 1497.4,347.6 1509.6,340.7 1513.0,337.2 1514.0,320.0" fill="#00d200"/>
<polygon points="1270.0,320.0 1280.0,336.0 1304.8,349.4 1339.6,353.7 1374.4,354.6 1409.2,352.8 1444.0,348.5 1478.8,342.4 1496.2,336.8 1496.2,328.5" fill="#00d732"/>
<polygon points="1270.0,320.0 1278.0,335.0 1292.6,344.1 1322.2,348.5 1357.0,349.4 1391.8,347.6 1426.6,344.1 1461.4,338.9 1478.8,336.3 1478.8,328.5" fill="#00d966"/>
<polygon points="1270.0,320.0 1275.0,334.0 1283.9,339.8 1304.8,342.4 1339.6,343.3 1374.4,342.4 1409.2,339.8 1444.0,336.8 1452.7,335.8 1452.7,328.5" fill="#00dc96"/>
<polygon points="1372.7,385.0 1391.8,385.9 1417.9,390.3 1444.0,394.6 1458.0,399.8 1463.2,405.1 1454.5,406.8 1426.6,405.1 1402.3,405.1 1388.3,401.6 1367.5,385.0" fill="#e19600"/>
<polygon points="1390.1,394.6 1405.7,395.5 1423.2,399.0 1428.4,401.6 1402.3,405.1 1391.8,401.6" fill="#e14600"/>
<polygon points="1584.4,449.6 1651.4,439.2 1691.4,437.4 1726.2,432.2 1760.0,425.2 1806.0,417.5 1830.0,430.0 1700.0,500.0 1570.0,500.0 1580.9,479.2" fill="#8cdc00"/>
<polygon points="1680.8,355.1 1734.5,355.4 1741.6,352.6 1759.5,342.5 1999.2,343.6 1999.2,357.9 1942.0,371.5 1902.6,389.1 1834.7,390.8 1781.0,390.1 1745.2,384.8 1709.4,374.0 1688.0,361.5" fill="#e19600"/>
<polygon points="1741.6,352.6 1759.5,340.0 1999.2,340.0 1999.2,357.9 1942.0,371.5 1888.3,370.5 1834.7,366.9 1781.0,361.5 1756.0,356.1" fill="#e14600"/>
<polygon points="1820.4,340.0 1999.2,340.0 1999.2,354.4 1977.8,355.1 1906.2,350.8 1852.6,346.5 1820.4,342.5" fill="#dc0000"/>
</g>
</g>
</svg></body></html>
